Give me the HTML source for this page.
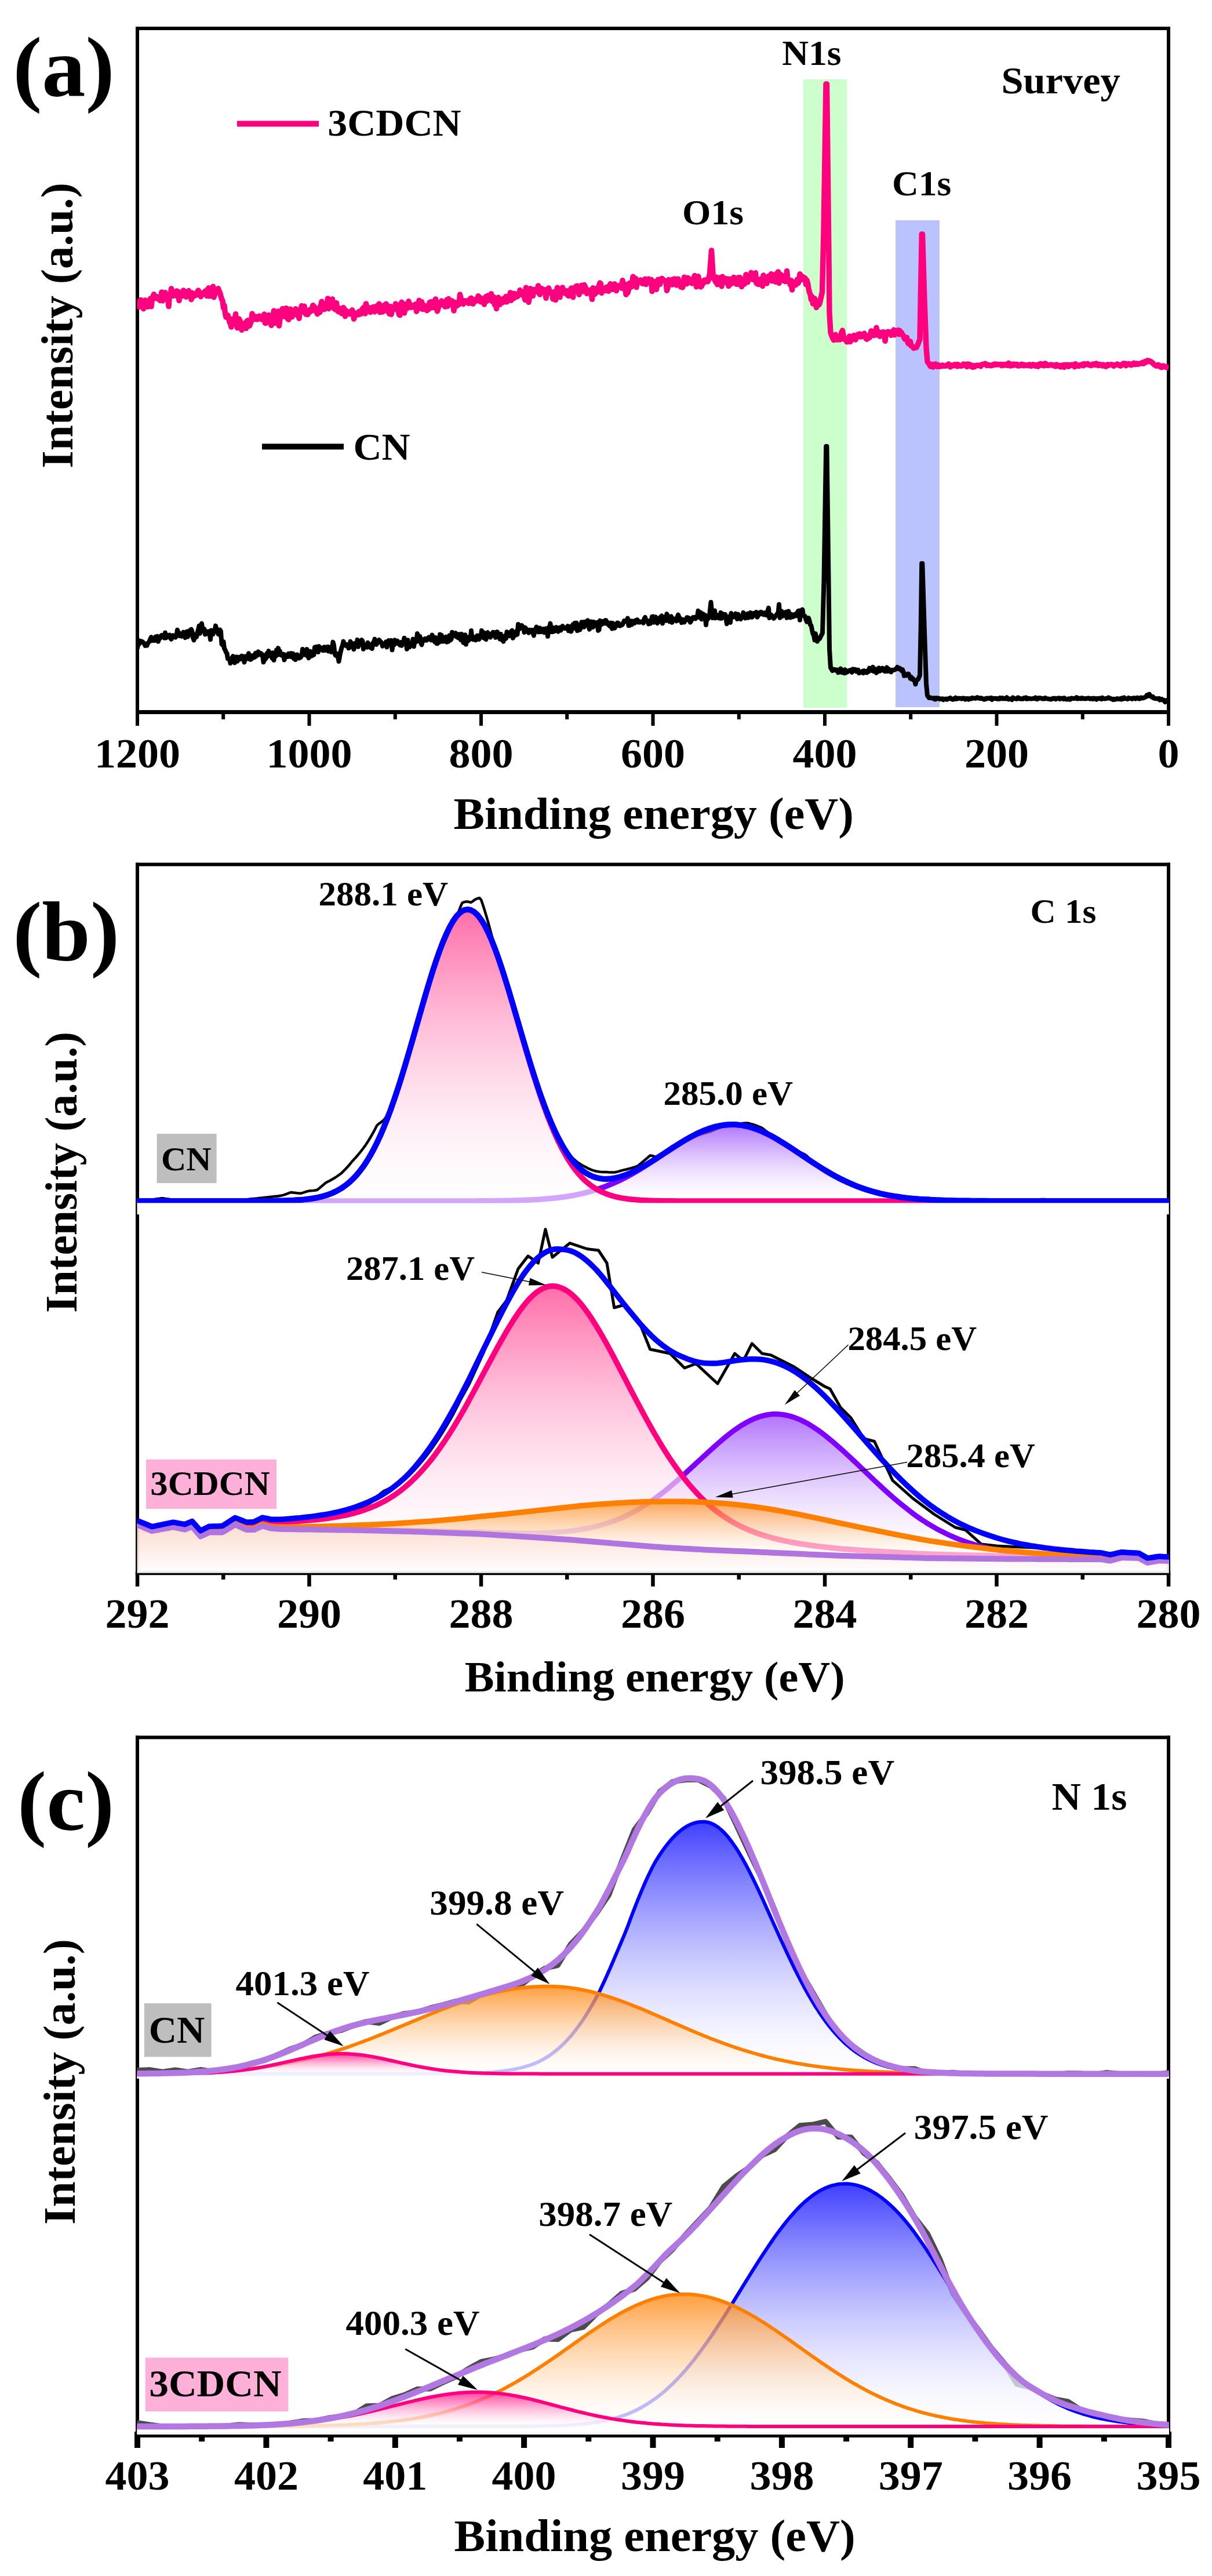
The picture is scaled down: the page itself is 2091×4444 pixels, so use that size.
<!DOCTYPE html>
<html><head><meta charset="utf-8"><title>XPS spectra</title>
<style>
html,body{margin:0;padding:0;background:#fff;}
svg{display:block;}
text{font-family:"Liberation Serif",serif;font-weight:bold;fill:#000;}
</style></head><body>
<svg width="2091" height="4444" viewBox="0 0 2091 4444">
<defs>
<clipPath id="ca"><rect x="236.3" y="49.0" width="1780.5" height="1179.5"/></clipPath>
<clipPath id="cb"><rect x="236.3" y="1491.3" width="1780.5" height="1222.4"/></clipPath>
<linearGradient id="gb1" gradientUnits="userSpaceOnUse" x1="0" y1="1940.0" x2="0" y2="2072.0"><stop offset="0.00" stop-color="#8528fa" stop-opacity="0.65"/><stop offset="0.12" stop-color="#9c50fb" stop-opacity="0.65"/><stop offset="0.25" stop-color="#b277fc" stop-opacity="0.65"/><stop offset="0.40" stop-color="#c9a0fd" stop-opacity="0.65"/><stop offset="0.55" stop-color="#ddc3fe" stop-opacity="0.65"/><stop offset="0.70" stop-color="#ede0fe" stop-opacity="0.65"/><stop offset="0.85" stop-color="#f9f5ff" stop-opacity="0.65"/><stop offset="1.00" stop-color="#ffffff" stop-opacity="0.65"/></linearGradient>
<linearGradient id="gb2" gradientUnits="userSpaceOnUse" x1="0" y1="1569.0" x2="0" y2="2072.0"><stop offset="0.00" stop-color="#ff207c" stop-opacity="0.65"/><stop offset="0.12" stop-color="#ff4994" stop-opacity="0.65"/><stop offset="0.25" stop-color="#ff72ac" stop-opacity="0.65"/><stop offset="0.40" stop-color="#ff9dc5" stop-opacity="0.65"/><stop offset="0.55" stop-color="#ffc1da" stop-opacity="0.65"/><stop offset="0.70" stop-color="#ffdfec" stop-opacity="0.65"/><stop offset="0.85" stop-color="#fff4f9" stop-opacity="0.65"/><stop offset="1.00" stop-color="#ffffff" stop-opacity="0.65"/></linearGradient>
<linearGradient id="gb3" gradientUnits="userSpaceOnUse" x1="0" y1="2439.6" x2="0" y2="2685.0"><stop offset="0.00" stop-color="#8528fa" stop-opacity="0.65"/><stop offset="0.12" stop-color="#9c50fb" stop-opacity="0.65"/><stop offset="0.25" stop-color="#b277fc" stop-opacity="0.65"/><stop offset="0.40" stop-color="#c9a0fd" stop-opacity="0.65"/><stop offset="0.55" stop-color="#ddc3fe" stop-opacity="0.65"/><stop offset="0.70" stop-color="#ede0fe" stop-opacity="0.65"/><stop offset="0.85" stop-color="#f9f5ff" stop-opacity="0.65"/><stop offset="1.00" stop-color="#ffffff" stop-opacity="0.65"/></linearGradient>
<linearGradient id="gb4" gradientUnits="userSpaceOnUse" x1="0" y1="2218.8" x2="0" y2="2685.0"><stop offset="0.00" stop-color="#ff207c" stop-opacity="0.65"/><stop offset="0.12" stop-color="#ff4994" stop-opacity="0.65"/><stop offset="0.25" stop-color="#ff72ac" stop-opacity="0.65"/><stop offset="0.40" stop-color="#ff9dc5" stop-opacity="0.65"/><stop offset="0.55" stop-color="#ffc1da" stop-opacity="0.65"/><stop offset="0.70" stop-color="#ffdfec" stop-opacity="0.65"/><stop offset="0.85" stop-color="#fff4f9" stop-opacity="0.65"/><stop offset="1.00" stop-color="#ffffff" stop-opacity="0.65"/></linearGradient>
<linearGradient id="gb5" gradientUnits="userSpaceOnUse" x1="0" y1="2590.2" x2="0" y2="2690.0"><stop offset="0.00" stop-color="#ff7f00" stop-opacity="0.65"/><stop offset="0.12" stop-color="#ff972f" stop-opacity="0.65"/><stop offset="0.25" stop-color="#ffae5e" stop-opacity="0.65"/><stop offset="0.40" stop-color="#ffc68e" stop-opacity="0.65"/><stop offset="0.55" stop-color="#ffdbb8" stop-opacity="0.65"/><stop offset="0.70" stop-color="#ffecda" stop-opacity="0.65"/><stop offset="0.85" stop-color="#fff9f3" stop-opacity="0.65"/><stop offset="1.00" stop-color="#ffffff" stop-opacity="0.65"/></linearGradient>
<linearGradient id="gb6" gradientUnits="userSpaceOnUse" x1="0" y1="2632.0" x2="0" y2="2713.7"><stop offset="0.00" stop-color="#fcd9cc" stop-opacity="0.93"/><stop offset="0.12" stop-color="#fcded2" stop-opacity="0.93"/><stop offset="0.25" stop-color="#fde3d9" stop-opacity="0.93"/><stop offset="0.40" stop-color="#fde8e0" stop-opacity="0.93"/><stop offset="0.55" stop-color="#feeee8" stop-opacity="0.93"/><stop offset="0.70" stop-color="#fef4f0" stop-opacity="0.93"/><stop offset="0.85" stop-color="#fff9f7" stop-opacity="0.93"/><stop offset="1.00" stop-color="#ffffff" stop-opacity="0.93"/></linearGradient>
<clipPath id="cc"><rect x="236.3" y="2997.3" width="1780.5" height="1202.7"/></clipPath>
<linearGradient id="gc1" gradientUnits="userSpaceOnUse" x1="0" y1="3142.7" x2="0" y2="3577.7"><stop offset="0.00" stop-color="#0000ff" stop-opacity="0.75"/><stop offset="0.12" stop-color="#2f2fff" stop-opacity="0.75"/><stop offset="0.25" stop-color="#5e5eff" stop-opacity="0.75"/><stop offset="0.40" stop-color="#8e8eff" stop-opacity="0.75"/><stop offset="0.55" stop-color="#b8b8ff" stop-opacity="0.75"/><stop offset="0.70" stop-color="#dadaff" stop-opacity="0.75"/><stop offset="0.85" stop-color="#f3f3ff" stop-opacity="0.75"/><stop offset="1.00" stop-color="#ffffff" stop-opacity="0.75"/></linearGradient>
<linearGradient id="gc2" gradientUnits="userSpaceOnUse" x1="0" y1="3426.7" x2="0" y2="3577.7"><stop offset="0.00" stop-color="#ff7f00" stop-opacity="0.75"/><stop offset="0.12" stop-color="#ff972f" stop-opacity="0.75"/><stop offset="0.25" stop-color="#ffae5e" stop-opacity="0.75"/><stop offset="0.40" stop-color="#ffc68e" stop-opacity="0.75"/><stop offset="0.55" stop-color="#ffdbb8" stop-opacity="0.75"/><stop offset="0.70" stop-color="#ffecda" stop-opacity="0.75"/><stop offset="0.85" stop-color="#fff9f3" stop-opacity="0.75"/><stop offset="1.00" stop-color="#ffffff" stop-opacity="0.75"/></linearGradient>
<linearGradient id="gc3" gradientUnits="userSpaceOnUse" x1="0" y1="3543.0" x2="0" y2="3577.7"><stop offset="0.00" stop-color="#ff007f" stop-opacity="0.75"/><stop offset="0.12" stop-color="#ff2f97" stop-opacity="0.75"/><stop offset="0.25" stop-color="#ff5eae" stop-opacity="0.75"/><stop offset="0.40" stop-color="#ff8ec6" stop-opacity="0.75"/><stop offset="0.55" stop-color="#ffb8db" stop-opacity="0.75"/><stop offset="0.70" stop-color="#ffdaec" stop-opacity="0.75"/><stop offset="0.85" stop-color="#fff3f9" stop-opacity="0.75"/><stop offset="1.00" stop-color="#ffffff" stop-opacity="0.75"/></linearGradient>
<linearGradient id="gc4" gradientUnits="userSpaceOnUse" x1="0" y1="3767.3" x2="0" y2="4186.0"><stop offset="0.00" stop-color="#0000ff" stop-opacity="0.75"/><stop offset="0.12" stop-color="#2f2fff" stop-opacity="0.75"/><stop offset="0.25" stop-color="#5e5eff" stop-opacity="0.75"/><stop offset="0.40" stop-color="#8e8eff" stop-opacity="0.75"/><stop offset="0.55" stop-color="#b8b8ff" stop-opacity="0.75"/><stop offset="0.70" stop-color="#dadaff" stop-opacity="0.75"/><stop offset="0.85" stop-color="#f3f3ff" stop-opacity="0.75"/><stop offset="1.00" stop-color="#ffffff" stop-opacity="0.75"/></linearGradient>
<linearGradient id="gc5" gradientUnits="userSpaceOnUse" x1="0" y1="3957.8" x2="0" y2="4186.0"><stop offset="0.00" stop-color="#ff7f00" stop-opacity="0.75"/><stop offset="0.12" stop-color="#ff972f" stop-opacity="0.75"/><stop offset="0.25" stop-color="#ffae5e" stop-opacity="0.75"/><stop offset="0.40" stop-color="#ffc68e" stop-opacity="0.75"/><stop offset="0.55" stop-color="#ffdbb8" stop-opacity="0.75"/><stop offset="0.70" stop-color="#ffecda" stop-opacity="0.75"/><stop offset="0.85" stop-color="#fff9f3" stop-opacity="0.75"/><stop offset="1.00" stop-color="#ffffff" stop-opacity="0.75"/></linearGradient>
<linearGradient id="gc6" gradientUnits="userSpaceOnUse" x1="0" y1="4126.7" x2="0" y2="4186.0"><stop offset="0.00" stop-color="#ff007f" stop-opacity="0.75"/><stop offset="0.12" stop-color="#ff2f97" stop-opacity="0.75"/><stop offset="0.25" stop-color="#ff5eae" stop-opacity="0.75"/><stop offset="0.40" stop-color="#ff8ec6" stop-opacity="0.75"/><stop offset="0.55" stop-color="#ffb8db" stop-opacity="0.75"/><stop offset="0.70" stop-color="#ffdaec" stop-opacity="0.75"/><stop offset="0.85" stop-color="#fff3f9" stop-opacity="0.75"/><stop offset="1.00" stop-color="#ffffff" stop-opacity="0.75"/></linearGradient>
</defs>
<rect width="2091" height="4444" fill="#fff"/>
<rect x="1386.0" y="137.0" width="75.0" height="1084.0" fill="#ccffcc"/>
<rect x="1545.0" y="380.0" width="76.0" height="840.0" fill="#bbc3ff"/>
<rect x="234.0" y="46.0" width="6.0" height="1186.0" fill="#000"/>
<rect x="2013.0" y="46.0" width="6.0" height="1186.0" fill="#000"/>
<rect x="234.0" y="46.0" width="1785.0" height="6.0" fill="#000"/>
<rect x="234.0" y="1225.0" width="1785.0" height="7.0" fill="#000"/>
<rect x="234.0" y="1228.5" width="6.0" height="23.6" fill="#000"/>
<rect x="530.5" y="1228.5" width="6.0" height="23.6" fill="#000"/>
<rect x="827.0" y="1228.5" width="6.0" height="23.6" fill="#000"/>
<rect x="1123.5" y="1228.5" width="6.0" height="23.6" fill="#000"/>
<rect x="1420.0" y="1228.5" width="6.0" height="23.6" fill="#000"/>
<rect x="1716.5" y="1228.5" width="6.0" height="23.6" fill="#000"/>
<rect x="2013.0" y="1228.5" width="6.0" height="23.6" fill="#000"/>
<rect x="382.2" y="1228.5" width="6.0" height="12.5" fill="#000"/>
<rect x="678.8" y="1228.5" width="6.0" height="12.5" fill="#000"/>
<rect x="975.2" y="1228.5" width="6.0" height="12.5" fill="#000"/>
<rect x="1271.8" y="1228.5" width="6.0" height="12.5" fill="#000"/>
<rect x="1568.2" y="1228.5" width="6.0" height="12.5" fill="#000"/>
<rect x="1864.8" y="1228.5" width="6.0" height="12.5" fill="#000"/>
<text transform="translate(237.0 1323.5) scale(1 0.985)" font-size="74.0" text-anchor="middle">1200</text>
<text transform="translate(533.5 1323.5) scale(1 0.985)" font-size="74.0" text-anchor="middle">1000</text>
<text transform="translate(830.0 1323.5) scale(1 0.985)" font-size="74.0" text-anchor="middle">800</text>
<text transform="translate(1126.5 1323.5) scale(1 0.985)" font-size="74.0" text-anchor="middle">600</text>
<text transform="translate(1423.0 1323.5) scale(1 0.985)" font-size="74.0" text-anchor="middle">400</text>
<text transform="translate(1719.5 1323.5) scale(1 0.985)" font-size="74.0" text-anchor="middle">200</text>
<text transform="translate(2016.0 1323.5) scale(1 0.985)" font-size="74.0" text-anchor="middle">0</text>
<text transform="translate(782.4 1430.0) scale(1 0.965)" font-size="80.2" text-anchor="start">Binding energy (eV)</text>
<text transform="translate(125.0 561.5) rotate(-90)" font-size="78.9" text-anchor="middle">Intensity (a.u.)</text>
<text transform="translate(22.2 164.5) scale(1 0.965)" font-size="150.5" text-anchor="start">(a)</text>
<g clip-path="url(#ca)">
<path d="M237 516.4L238.5 525.7L240 529.3L241.5 521.4L243 517.4L244.5 524.1L246 528.4L247.5 532.7L249 519.1L250.5 517.9L252 526.9L253.5 524.1L255 529.3L256.5 525.7L258 518.9L259.5 515.1L261 528.8L262.5 515.4L264 511.6L265.5 507.7L267 514.5L268.5 514.6L270 511.5L271.5 513L273 515.6L274.5 516.7L276 518.4L277.5 513.2L279 503.9L280.5 518.9L282 507.5L283.5 513.6L285 504.7L286.5 512.4L288 509.1L289.5 512.9L291 528.6L292.5 508.7L294 510.7L295.5 497.9L297 503.4L298.5 510.5L300 506L301.5 508.5L303 507.7L304.5 501.9L306 511.6L307.5 503.1L309 518.5L310.5 506.2L312 510.1L313.5 507.3L315 510.6L316.5 500.9L318 510.2L319.5 503.4L321 512.2L322.5 507.8L324 505.2L325.5 501.5L327 509.7L328.5 508.9L330 516.7L331.5 505.2L333 512L334.5 510.2L336 509.6L337.5 509.6L339 508.8L340.5 504L342 500.9L343.5 503.3L345 508.3L346.5 511.7L348 508.4L349.5 507.7L351 505L352.5 504.8L354 502.2L355.5 504.1L357 510.6L358.5 499.2L360 496.8L361.5 510.9L363 502.2L364.5 506.5L366 505.2L367.5 494.2L369 512.8L370.5 508.1L372 499.7L373.5 502.9L375 501.1L376.5 497.7L378 502.5L379.5 505.3L381 511L382.5 516.1L384 518.6L385.5 531.1L387 527L388.5 540.9L390 547.2L391.5 545L393 543.9L394.5 547.7L396 555.6L397.5 557.6L399 564.1L400.5 550.8L402 554.9L403.5 558L405 552.7L406.5 541.7L408 559L409.5 565.7L411 560.7L412.5 550.1L414 553.4L415.5 557.8L417 569.3L418.5 560.6L420 558.4L421.5 565.2L423 556.9L424.5 566.6L426 553.9L427.5 552.8L429 557.7L430.5 562.2L432 558L433.5 554.2L435 541.1L436.5 546.6L438 546.9L439.5 545.7L441 550.8L442.5 546.8L444 551.1L445.5 547L447 545.2L448.5 548.2L450 549.6L451.5 551.1L453 545.2L454.5 547.6L456 542L457.5 557.5L459 557.2L460.5 547.9L462 547.4L463.5 543.5L465 550.8L466.5 550.5L468 561.3L469.5 549.6L471 544.9L472.5 536.1L474 557.6L475.5 550.1L477 538.8L478.5 546.6L480 536.9L481.5 562L483 550.5L484.5 547.4L486 543L487.5 532.5L489 543.4L490.5 535.9L492 546.4L493.5 531.7L495 539.1L496.5 550.2L498 551.4L499.5 537L501 533.2L502.5 545L504 546.8L505.5 537.8L507 540.2L508.5 537.8L510 532.7L511.5 534.2L513 544L514.5 542.9L516 549.3L517.5 535.7L519 534L520.5 527.6L522 533.9L523.5 528.6L525 528.3L526.5 540.6L528 542.2L529.5 539.5L531 542.5L532.5 538.2L534 534.4L535.5 537.6L537 535.9L538.5 530.7L540 526.7L541.5 528.3L543 536.1L544.5 536.5L546 531.7L547.5 541.7L549 535.2L550.5 535.7L552 538.7L553.5 526.6L555 520.2L556.5 532.3L558 524.5L559.5 533.7L561 527L562.5 531.5L564 530.9L565.5 515L567 532.6L568.5 525.1L571 528L573.5 516L576 532L579 534.1L580.5 522.6L582 535.3L583.5 537.5L585 531.7L586.5 538.4L588 536L589.5 540.8L591 531.6L592.5 530.6L594 532.8L595.5 545.7L597 543L598.5 536.7L600 539L601.5 540.6L603 541.8L604.5 539.7L606 539.9L607.5 534.8L609 537.4L610.5 550.3L612 545.7L613.5 543.3L615 540.6L616.5 541.2L618 543L619.5 537.4L621 540.8L622.5 541.7L624 534.9L625.5 532.9L627 530.7L628.5 529.7L630 541L631.5 523.9L633 533L634.5 531.1L636 530.7L637.5 534.6L639 538.8L640.5 534.7L642 532.9L643.5 529.6L645 531.7L646.5 538L648 531.4L649.5 527.8L651 527.5L652.5 527.6L654 524.1L655.5 538.8L657 534.1L658.5 529.9L660 538.1L661.5 526.9L663 533.4L664.5 535.8L666 524.2L667.5 526.3L669 529.4L670.5 539.1L672 541.5L673.5 528.8L675 542.4L676.5 536L678 533.4L679.5 533.4L681 533.3L682.5 524L684 527.7L685.5 525.7L687 535.3L688.5 542.7L690 543.9L691.5 527.6L693 521.2L694.5 526.7L696 523.7L697.5 539.9L699 532.9L700.5 525.1L702 532L703.5 531.5L705 519.8L706.5 524.7L708 527.6L709.5 530.3L711 529.7L712.5 526.7L714 529.7L715.5 526.5L717 524.7L718.5 537.2L720 530.6L721.5 530L723 518.2L724.5 525.9L726 532.3L727.5 520.7L729 533.5L730.5 525.8L732 530.3L733.5 528.1L735 529.8L736.5 535.8L738 527.4L739.5 533.5L741 522L742.5 521L744 530.8L745.5 520.4L747 523.4L748.5 530.6L750 530.8L751.5 515.9L753 530.9L754.5 537L756 531.7L757.5 522.1L759 523L760.5 526.1L762 519.1L763.5 522.9L765 522.7L766.5 522.3L768 529.2L769.5 523.2L771 517.1L772.5 528.2L774 515.4L775.5 519.7L777 523.9L778.5 521.7L780 519.1L781.5 524L783 536.1L784.5 521.4L786 523.4L787.5 528.1L789 526.6L790.5 525.8L792 525.2L793.5 508.1L795 514L796.5 519.6L798 520L799.5 524.4L801 521.5L802.5 518.8L804 519.4L805.5 519.2L807 522L808.5 523.3L810 517.1L811.5 515.2L813 514.2L814.5 523.6L816 524.1L817.5 521.8L819 519.9L820.5 519.4L822 515.7L823.5 518.7L825 510.7L826.5 515.9L828 513.2L829.5 520.7L831 515.1L832.5 518.7L834 521.4L835.5 525.2L837 513.3L838.5 511.6L840 519.4L841.5 510.1L843 517.7L844.5 511.2L846 514.3L847.5 506.8L849 520L850.5 514L852 512.4L853.5 526.1L855 518L856.5 532.6L858 518.6L859.5 513.1L861 515.7L862.5 525.2L864 518.8L865.5 518.7L867 521.9L868.5 515L870 520.7L871.5 515.4L873 511.4L874.5 520.8L876 518.9L877.5 514.8L879 511.3L880.5 504.8L882 518.2L883.5 514.6L885 506.3L886.5 514.6L888 506.4L889.5 512.4L891 511.9L892.5 511.7L894 509.3L895.5 509L897 500.5L898.5 503.2L900 503L901.5 506.1L903 510L904.5 511.8L906 517.4L907.5 496.2L909 509.9L910.5 507.1L912 521.4L913.5 513.4L915 497.8L916.5 507.1L918 502.4L919.5 510.4L921 499.4L922.5 504L924 503.5L925.5 503.6L927 501.6L928.5 492.9L930 505.4L931.5 508.1L933 502.3L934.5 497.6L936 502.2L937.5 503.1L939 499.7L940.5 502.4L942 514.2L943.5 499.8L945 502.6L946.5 496.9L948 502.1L949.5 505.9L951 505.4L952.5 505.9L954 515.9L955.5 503.8L957 504.7L958.5 517.5L960 503.9L961.5 496.1L963 507.1L964.5 499.6L966 512.8L967.5 499.1L969 501.6L970.5 495.9L972 504.9L973.5 500.9L975 506.2L976.5 503.1L978 501.8L979.5 509.5L981 510.5L982.5 507.1L984 501L985.5 497L987 502.2L988.5 512.7L990 497.1L991.5 495.9L993 496.4L994.5 493.4L996 493.2L997.5 499.3L999 508.2L1000.5 501.6L1002 499L1003.5 492.3L1005 503L1006.5 499.9L1008 491.5L1009.5 494.2L1011 499.5L1012.5 506.4L1014 505L1015.5 503.3L1017 500.7L1018.5 503.2L1020 504L1021.5 516.3L1023 496.7L1024.5 499L1026 507.6L1027.5 497.9L1029 505L1030.5 497.1L1032 496.7L1033.5 492.8L1035 488L1036.5 489.6L1038 505.5L1039.5 496.8L1041 497.2L1042.5 500.5L1044 499L1045.5 501.6L1047 495L1048.5 496L1050 502.3L1051.5 496L1053 489.7L1054.5 494.6L1056 492.4L1057.5 499.4L1059 493.6L1060.5 489.8L1062 492.8L1063.5 501.6L1065 493.7L1066.5 493.3L1068 492.6L1069.5 492.3L1071 495.8L1072.5 497.1L1074 483.7L1075.5 498L1077 493.3L1078.5 490.5L1080 508.2L1081.5 494.3L1083 505L1084.5 499.4L1086 488.4L1087.5 494.9L1089 495.2L1090.5 488.5L1092 477.3L1093.5 485.2L1095 486.5L1096.5 480.4L1098 495.5L1099.5 484.5L1101 485L1102.5 486.3L1104 483.4L1105.5 482.9L1107 488.2L1108.5 489.5L1110 486.7L1111.5 487.4L1113 481.3L1114.5 490.6L1116 482.7L1117.5 487.3L1119 481.2L1120.5 484.4L1122 488.7L1123.5 482.4L1125 502.6L1126.5 488.1L1128 488.1L1129.5 485.8L1131 498L1132.5 499.2L1134 490.7L1135.5 482.1L1137 486L1138.5 490.5L1140 485.7L1141.5 480.4L1143 480.9L1144.5 483.1L1146 484.4L1147.5 484.5L1149 486.3L1150.5 501.3L1152 496.7L1153.5 482.5L1155 489.2L1156.5 486.8L1158 483.2L1159.5 491.2L1161 482.1L1162.5 481.4L1164 481L1165.5 482.9L1167 492L1168.5 490.6L1170 481.3L1171.5 489.3L1173 487.2L1174.5 495.1L1176 492.6L1177.5 495.9L1179 491.5L1180.5 478.2L1182 489.2L1183.5 487.1L1185 489.6L1186.5 479.2L1188 484.9L1189.5 481.9L1191 481.9L1192.5 487.9L1194 489L1195.5 485.2L1197 480.3L1198.5 475.4L1200 485.6L1201.5 494.8L1203 487.6L1204.5 476.7L1206 483.1L1207.5 489.2L1209 494.9L1210.5 493.6L1212 489.4L1213.5 488.6L1215 483.3L1216.5 485.9L1218 485.2L1219.5 482L1221 486L1222.5 482.4L1224.5 472L1227.5 432L1230.5 480L1233 482.1L1234.5 486.4L1236 478.1L1237.5 490.8L1239 482.1L1240.5 483.8L1242 481.7L1243.5 478.6L1245 493.9L1246.5 477.3L1248 487.9L1249.5 481.5L1251 486.1L1252.5 480.5L1254 482.1L1255.5 488.9L1257 493.6L1258.5 481.2L1260 485.8L1261.5 489.9L1263 482.8L1264.5 487.4L1266 478.4L1267.5 487.8L1269 486.6L1270.5 490.3L1272 485.8L1273.5 479L1275 490.6L1276.5 478.8L1278 490.3L1279.5 494.5L1281 487.4L1282.5 482.2L1284 490.2L1285.5 482.7L1287 473.8L1288.5 476.6L1290 486.7L1291.5 476.7L1293 479.3L1294.5 477.7L1296 470.3L1297.5 475.9L1299 482.4L1300.5 480.8L1302 479.8L1303.5 470.8L1305 488.8L1306.5 487.9L1308 490.6L1309.5 490.6L1311 482.1L1312.5 481.2L1314 487.3L1315.5 493.5L1317 475.1L1318.5 481.6L1320 478.2L1321.5 484.4L1323 489L1324.5 481.1L1326 476.2L1327.5 482.7L1329 481.5L1330.5 472.6L1332 484.7L1333.5 476.6L1335 483.8L1336.5 473.9L1338 486.2L1339.5 472.1L1341 484.3L1342.5 469L1344 488.5L1345.5 479.2L1347 473.7L1348.5 480.1L1350 483.8L1351.5 476.4L1353 480.6L1354.5 485.6L1356 482.9L1357.5 467.5L1359 482L1360.5 486.3L1362 486.2L1363.5 491.6L1365 483.8L1366.5 500L1368 489.7L1369.5 487.1L1371 491.7L1372.5 491.7L1374 486L1375.5 482.1L1377 488.7L1378.5 485.1L1380 472.8L1381.5 475L1383 482.3L1384.5 478.2L1386 477.9L1387.5 481.4L1389 479.7L1390.5 490.8L1392 483.4L1393.5 488.5L1395 497.4L1396.5 504.4L1398 508L1399.5 517.1L1401 511.8L1402.5 524.1L1404 521L1405.5 515.1L1407 519.5L1408.5 530.6L1410 526.8L1411.5 526.8L1414 524L1418.5 504L1421 400L1425 145L1426.5 145L1429.5 400L1431 540L1433 574L1436 582L1438.5 586.8L1440 582.5L1441.5 577.3L1443 585.3L1444.5 586.2L1446 583.2L1447.5 585.7L1449 585.9L1450.5 578.7L1452 573.2L1453.5 570.1L1455 579.4L1456.5 585.2L1458 585.4L1459.5 586.9L1461 589.8L1462.5 584.3L1464 589.5L1465.5 580L1467 589.5L1468.5 586.9L1470 583.7L1471.5 581.1L1473 578.5L1474.5 582.7L1476 586.1L1477.5 578.7L1479 581.3L1480.5 576.8L1482 580.5L1483.5 575.9L1485 581L1486.5 578.1L1488 580.5L1489.5 577L1491 575.1L1492.5 579.4L1494 584.1L1495.5 585.3L1497 578.9L1498.5 582.5L1500 582.5L1501.5 578.5L1503 571L1504.5 578.4L1506 572.1L1507.5 578.8L1509 578L1510.5 576.5L1512 565.3L1513.5 575.8L1515 578.5L1516.5 572.7L1518 580.3L1519.5 576.6L1521 575.6L1522.5 573.4L1524 572.5L1525.5 575.7L1527 588.3L1528.5 576.8L1530 575.5L1531.5 572.2L1533 572.5L1534.5 573.2L1536 572.7L1537.5 578.3L1539 573L1540.5 577.2L1542 569.1L1543.5 577.7L1545 573.3L1546.5 575.8L1548 572.2L1549.5 569.5L1551 576.7L1552.5 570.7L1554 574L1555.5 573.9L1557 578.1L1558.5 578.7L1560 583.2L1561.5 585.4L1563 582.7L1564.5 582.2L1566 590.8L1567.5 592.9L1569 593.9L1570.5 589L1572 596.7L1573.5 596.9L1575 598.8L1576.5 600.8L1578 599.2L1579.5 599.8L1581 599.5L1584 593L1587 585L1588.5 500L1590.3 404L1591.5 404L1595 520L1598 600L1600 624L1603 628L1605 632L1606.5 631.2L1608 628.4L1609.5 633.1L1611 632.4L1612.5 631.5L1614 627.8L1615.5 630.9L1617 632.5L1618.5 629.6L1620 631.7L1621.5 632.4L1623 632.1L1624.5 630.2L1626 630.1L1627.5 631.6L1629 631.3L1630.5 631.3L1632 631.3L1633.5 629.9L1635 629.4L1636.5 628.1L1638 631.2L1639.5 633.1L1641 629.9L1642.5 630.1L1644 631L1645.5 630.7L1647 628.8L1648.5 629.5L1650 628.8L1651.5 632L1653 628.7L1654.5 630.3L1656 631.3L1657.5 631.5L1659 630.9L1660.5 631L1662 628L1663.5 628.8L1665 628.5L1666.5 629.3L1668 632.6L1669.5 627.9L1671 630.6L1672.5 628.6L1674 631.8L1675.5 632.2L1677 630.2L1678.5 633.5L1680 630.9L1681.5 632.6L1683 631L1684.5 630.2L1686 630.5L1687.5 630.4L1689 630.5L1690.5 630L1692 631.9L1693.5 629.3L1695 628.7L1696.5 628.3L1698 628L1699.5 627.3L1701 628L1702.5 630.6L1704 629.5L1705.5 629.4L1707 629.9L1708.5 630.9L1710 630.6L1711.5 630.6L1713 629L1714.5 629.3L1716 628.1L1717.5 629.3L1719 628.4L1720.5 629L1722 628.6L1723.5 628.9L1725 628.9L1726.5 628.6L1728 630.7L1729.5 629.5L1731 628.8L1732.5 630.1L1734 628.7L1735.5 629.1L1737 630.2L1738.5 628.4L1740 626.6L1741.5 630.3L1743 631.2L1744.5 628.2L1746 629.2L1747.5 630.5L1749 628.1L1750.5 629.4L1752 628.9L1753.5 630.2L1755 628.5L1756.5 631.3L1758 630.3L1759.5 630.7L1761 630.3L1762.5 628.2L1764 630.5L1765.5 629.3L1767 630.9L1768.5 629.6L1770 629.9L1771.5 629.9L1773 630.7L1774.5 630.6L1776 628.8L1777.5 629.7L1779 631.5L1780.5 629.8L1782 628.8L1783.5 629.6L1785 629.4L1786.5 631.5L1788 630L1789.5 630.1L1791 632.2L1792.5 628.2L1794 628.7L1795.5 627.5L1797 628L1798.5 630.5L1800 629.5L1801.5 631L1803 626.9L1804.5 627.7L1806 630.3L1807.5 630.3L1809 630.4L1810.5 630L1812 629.2L1813.5 629.2L1815 629.4L1816.5 630.6L1818 630.1L1819.5 631L1821 632L1822.5 628.9L1824 629.7L1825.5 631.3L1827 630.5L1828.5 630.8L1830 633.1L1831.5 631L1833 629.9L1834.5 631.9L1836 633.5L1837.5 629.3L1839 629.6L1840.5 630.1L1842 629.3L1843.5 632.3L1845 630.7L1846.5 629.6L1848 630.4L1849.5 629.2L1851 629.2L1852.5 630L1854 632.7L1855.5 627.7L1857 630.8L1858.5 631.2L1860 630.4L1861.5 631.6L1863 629.8L1864.5 629.5L1866 629.2L1867.5 628.3L1869 630.9L1870.5 627.6L1872 629.2L1873.5 629L1875 628.6L1876.5 627.4L1878 629.5L1879.5 629.9L1881 629.8L1882.5 630.7L1884 629.2L1885.5 628.1L1887 629L1888.5 629.6L1890 627.6L1891.5 627L1893 628.1L1894.5 630.5L1896 630.2L1897.5 628.7L1899 629.8L1900.5 630.6L1902 631.1L1903.5 629.2L1905 629.8L1906.5 631.2L1908 632.3L1909.5 631.4L1911 628.7L1912.5 630.4L1914 629.5L1915.5 629.6L1917 628.8L1918.5 628.9L1920 629.4L1921.5 631.5L1923 630.2L1924.5 629.5L1926 629.2L1927.5 628.1L1929 628.8L1930.5 630.3L1932 629.8L1933.5 631.2L1935 629.1L1936.5 628.5L1938 627L1939.5 629.2L1941 627.1L1942.5 630.8L1944 628.4L1945.5 629.2L1947 627.4L1948.5 628.6L1950 628.3L1951.5 629.9L1953 629L1954.5 627.4L1956 626.5L1957.5 628.6L1959 627.7L1960.5 627L1962 628.4L1963.5 627.5L1965 628L1966.5 627.2L1968 627.1L1969.5 626.6L1971 625.3L1972.5 627.2L1974 626.7L1975.5 623.6L1977 624.2L1978.5 624.4L1980 621.9L1981.5 622.5L1983 622.5L1984.5 623.8L1986 624L1987.5 625.9L1989 626.5L1990.5 628.3L1992 629.6L1993.5 630.4L1995 631.4L1996.5 630.2L1998 629.4L1999.5 631.5L2001 630.8L2002.5 633.3L2004 633.7L2005.5 632.9L2007 631.1L2008.5 631.9L2010 633.1L2011.5 632.3L2013 633.9L2014.5 634.5L2016 634.8" fill="none" stroke="#ff007f" stroke-width="9.5" stroke-linejoin="round" />
<path d="M237 1119.3L238.5 1104.4L240 1111.2L241.5 1109.2L243 1106L244.5 1106.8L246 1107.2L247.5 1108.9L249 1110.3L250.5 1113.9L252 1110.6L253.5 1113.7L255 1109.8L256.5 1108.1L258 1105.9L259.5 1101.9L261 1099.2L262.5 1105.2L264 1103.3L265.5 1104.6L267 1105.1L268.5 1098.5L270 1100L271.5 1097.8L273 1106.6L274.5 1099.8L276 1101.4L277.5 1097L279 1095.8L280.5 1096.4L282 1097.5L283.5 1100.5L285 1091.5L286.5 1100.5L288 1096.1L289.5 1096.2L291 1096.7L292.5 1095.6L294 1101L295.5 1102.8L297 1100.3L298.5 1096.2L300 1098.7L301.5 1097.5L303 1099.4L304.5 1096.4L306 1086.7L307.5 1090.9L309 1091.9L310.5 1097L312 1093.4L313.5 1097.8L315 1096.3L316.5 1090.7L318 1096.2L319.5 1100L321 1098.6L322.5 1089.6L324 1098.5L325.5 1094.7L327 1088L328.5 1093.9L330 1085.8L331.5 1089.7L333 1100.4L334.5 1104.4L336 1098.1L337.5 1094.6L339 1099L340.5 1091.6L342 1086.5L343.5 1079.9L345 1092.9L346.5 1079L348 1075.7L349.5 1085.3L351 1088.6L352.5 1085.2L354 1094.4L355.5 1089.2L357 1091.3L358.5 1093.2L360 1089.4L361.5 1091.8L363 1103.2L364.5 1087.5L366 1093.6L367.5 1094L369 1087.4L370.5 1088.4L372 1079.6L373.5 1085.2L375 1088.5L376.5 1093.8L378 1094.6L379.5 1086.5L381 1089.4L382.5 1111.2L384 1113L385.5 1106.9L387 1119L388.5 1121.2L390 1125.4L391.5 1127L393 1136.3L394.5 1136.4L396 1136.4L397.5 1144.2L399 1140.1L400.5 1134.7L402 1132.1L403.5 1137.1L405 1143.4L406.5 1140.7L408 1133.2L409.5 1140.8L411 1137.3L412.5 1133.7L414 1137.2L415.5 1135.6L417 1131.5L418.5 1133.9L420 1137.1L421.5 1142.3L423 1132.3L424.5 1137.2L426 1134L427.5 1133.7L429 1127.2L430.5 1137.3L432 1137.9L433.5 1137.3L435 1131.3L436.5 1134.9L438 1130.3L439.5 1133.9L441 1126.7L442.5 1131.6L444 1128.8L445.5 1124.4L447 1129.3L448.5 1126.7L450 1127L451.5 1130.9L453 1129.4L454.5 1142.4L456 1139L457.5 1136.9L459 1135.9L460.5 1127.3L462 1132.1L463.5 1123.1L465 1127.8L466.5 1130.9L468 1130.9L469.5 1135.6L471 1126.1L472.5 1138.9L474 1127.3L475.5 1132.2L477 1121.6L478.5 1130L480 1118.1L481.5 1123.8L483 1123.6L484.5 1130.2L486 1130.6L487.5 1130.2L489 1128.8L490.5 1138.5L492 1129.6L493.5 1131.5L495 1130.6L496.5 1132.8L498 1127.6L499.5 1129.8L501 1132.5L502.5 1127L504 1133.3L505.5 1127.5L507 1136.1L508.5 1129.6L510 1138L511.5 1131.9L513 1129.5L514.5 1133.7L516 1135.4L517.5 1134.6L519 1133.7L520.5 1131.2L522 1120L523.5 1129.4L525 1124.4L526.5 1125.4L528 1130.2L529.5 1120.1L531 1131L532.5 1135.2L534 1127.4L535.5 1123.6L537 1132L538.5 1125.9L540 1130.4L541.5 1129.8L543 1116.7L544.5 1122.9L546 1115.9L547.5 1118.6L549 1124.9L550.5 1115.1L552 1118.2L553.5 1117.7L555 1120.6L556.5 1121.8L558 1122.2L559.5 1116.2L561 1116.9L562.5 1121.8L564 1116.4L565.5 1115.9L567 1123.4L568.5 1117.4L570 1116.4L571.5 1124.7L573 1119.6L574.5 1107.6L576 1113.3L577.5 1127.6L579 1130.7L582 1128L584.5 1141L587 1127L589.5 1117L591 1113.7L592.5 1106.6L594 1112.1L595.5 1113.2L597 1112L598.5 1114.7L600 1112.3L601.5 1118.2L603 1117.2L604.5 1106.7L606 1110.1L607.5 1114.8L609 1110.8L610.5 1120.1L612 1110.1L613.5 1112.1L615 1113.9L616.5 1103.9L618 1115.7L619.5 1109.4L621 1107.9L622.5 1108.9L624 1104L625.5 1106.1L627 1119.8L628.5 1112.1L630 1113.7L631.5 1115.5L633 1116.6L634.5 1108.8L636 1110.8L637.5 1113.1L639 1117.1L640.5 1112.8L642 1118.9L643.5 1108.8L645 1107.8L646.5 1102.6L648 1109L649.5 1111.8L651 1107.8L652.5 1108L654 1104L655.5 1106L657 1107.2L658.5 1109L660 1114.7L661.5 1111.7L663 1113.2L664.5 1113.4L666 1107.4L667.5 1116.4L669 1111L670.5 1105.1L672 1108.1L673.5 1110.6L675 1104.8L676.5 1121.2L678 1110.1L679.5 1112.9L681 1104.3L682.5 1110L684 1109.8L685.5 1105.6L687 1110.5L688.5 1110.1L690 1112.7L691.5 1108L693 1113.7L694.5 1109.9L696 1107.4L697.5 1100.7L699 1108.9L700.5 1107.7L702 1119.7L703.5 1104.2L705 1116.1L706.5 1116.3L708 1111.8L709.5 1110.8L711 1112.1L712.5 1102.5L714 1115.3L715.5 1106.5L717 1103.9L718.5 1107L720 1093L721.5 1098.9L723 1099.6L724.5 1098.1L726 1109.3L727.5 1112.3L729 1105.2L730.5 1103.2L732 1104.7L733.5 1101.9L735 1104.7L736.5 1104.5L738 1101.1L739.5 1099.5L741 1102.4L742.5 1101.4L744 1104.4L745.5 1095.5L747 1098.6L748.5 1101.4L750 1107.2L751.5 1099.9L753 1109.9L754.5 1110.3L756 1101.8L757.5 1108L759 1094.6L760.5 1103.2L762 1096L763.5 1106.6L765 1106L766.5 1106.2L768 1100.7L769.5 1098.8L771 1107.6L772.5 1101.8L774 1106.7L775.5 1096.4L777 1104.3L778.5 1102.8L780 1090.7L781.5 1095.7L783 1097L784.5 1097L786 1092L787.5 1098.4L789 1094.5L790.5 1100.3L792 1094.2L793.5 1094.4L795 1104L796.5 1093.9L798 1102.1L799.5 1108.6L801 1106.2L802.5 1095.2L804 1111.6L805.5 1099.2L807 1105.8L808.5 1104.7L810 1098.7L811.5 1102.1L813 1088.1L814.5 1101.6L816 1103.1L817.5 1098.9L819 1100L820.5 1104.3L822 1103.1L823.5 1096.5L825 1102.1L826.5 1102.8L828 1097.8L829.5 1098.3L831 1087.9L832.5 1090.7L834 1100.2L835.5 1091.6L837 1101.6L838.5 1103.1L840 1093.5L841.5 1091.3L843 1095.9L844.5 1095.4L846 1099.5L847.5 1093.8L849 1094.6L850.5 1090.7L852 1096.3L853.5 1091L855 1099.7L856.5 1098.6L858 1090.1L859.5 1098.8L861 1093.4L862.5 1102.4L864 1094L865.5 1103.5L867 1103.1L868.5 1106.6L870 1099.4L871.5 1096.8L873 1101.5L874.5 1090.1L876 1097.1L877.5 1095.1L879 1097L880.5 1090.5L882 1089L883.5 1087.8L885 1100.7L886.5 1094.1L888 1096.8L889.5 1091.1L891 1089L892.5 1094.7L894 1076.9L895.5 1085.7L897 1084L898.5 1082.8L900 1078.9L901.5 1080.7L903 1082.4L904.5 1090.9L906 1082.7L907.5 1084.7L909 1086.2L910.5 1088.7L912 1091.6L913.5 1086.8L915 1086.9L916.5 1090L918 1087L919.5 1092L921 1096.5L922.5 1086.4L924 1085.7L925.5 1081.6L927 1089.1L928.5 1090.2L930 1083.5L931.5 1083.6L933 1090.2L934.5 1086.8L936 1089.2L937.5 1085L939 1091.1L940.5 1088.3L942 1084.3L943.5 1084.6L945 1097.8L946.5 1082.7L948 1082.7L949.5 1075.6L951 1090.1L952.5 1090.1L954 1089.8L955.5 1083.1L957 1088.9L958.5 1084.9L960 1082.2L961.5 1087.4L963 1089.5L964.5 1085.4L966 1082.7L967.5 1087.4L969 1084.3L970.5 1080.1L972 1083.8L973.5 1082.6L975 1084L976.5 1084.3L978 1084.6L979.5 1080L981 1088.2L982.5 1086.3L984 1081L985.5 1089.4L987 1082.8L988.5 1077.4L990 1081.1L991.5 1075L993 1084.1L994.5 1074.6L996 1088.1L997.5 1077.9L999 1080.1L1000.5 1086.5L1002 1082.3L1003.5 1073.2L1005 1080.4L1006.5 1073.2L1008 1081.7L1009.5 1072.9L1011 1076.7L1012.5 1075.7L1014 1070.4L1015.5 1080.3L1017 1085.6L1018.5 1072.5L1020 1072.6L1021.5 1078.3L1023 1082L1024.5 1072.9L1026 1078.7L1027.5 1078.6L1029 1080L1030.5 1073.9L1032 1087.8L1033.5 1086.5L1035 1070.8L1036.5 1072.6L1038 1077.3L1039.5 1072.2L1041 1073.5L1042.5 1075.2L1044 1070.2L1045.5 1070.2L1047 1075.9L1048.5 1073.6L1050 1078L1051.5 1079.8L1053 1080.6L1054.5 1074.7L1056 1084.5L1057.5 1075.1L1059 1081.1L1060.5 1083.5L1062 1077.3L1063.5 1079.8L1065 1074.5L1066.5 1074.7L1068 1079.4L1069.5 1079.7L1071 1077.4L1072.5 1078.4L1074 1077.4L1075.5 1074.1L1077 1070.8L1078.5 1072.5L1080 1071.8L1081.5 1072L1083 1066.7L1084.5 1079.2L1086 1079.2L1087.5 1074L1089 1071.5L1090.5 1077.3L1092 1071.7L1093.5 1072.5L1095 1074.8L1096.5 1070.3L1098 1071.4L1099.5 1069.1L1101 1073.4L1102.5 1072.1L1104 1073.6L1105.5 1073.2L1107 1072.4L1108.5 1072.2L1110 1074.7L1111.5 1067.4L1113 1065L1114.5 1071L1116 1072.1L1117.5 1071.5L1119 1076.5L1120.5 1071.3L1122 1075.7L1123.5 1070.1L1125 1063.9L1126.5 1063.5L1128 1073.7L1129.5 1068.2L1131 1064.3L1132.5 1073.4L1134 1075L1135.5 1068.4L1137 1072.4L1138.5 1065.2L1140 1064.4L1141.5 1062.4L1143 1075.5L1144.5 1064.3L1146 1068L1147.5 1069.9L1149 1070.8L1150.5 1059.1L1152 1066.5L1153.5 1063.3L1155 1072.2L1156.5 1065.2L1158 1063.6L1159.5 1073.8L1161 1067L1162.5 1069.9L1164 1068.7L1165.5 1067.5L1167 1071.4L1168.5 1064.4L1170 1060.6L1171.5 1064.7L1173 1070.4L1174.5 1067.3L1176 1074.2L1177.5 1071.9L1179 1069.3L1180.5 1073.5L1182 1070.6L1183.5 1069.6L1185 1065.2L1186.5 1065.5L1188 1066L1189.5 1070.8L1191 1073.5L1192.5 1070.9L1194 1066.6L1195.5 1065.2L1197 1066.7L1198.5 1065L1200 1067.3L1201.5 1065.4L1203 1064.6L1204.5 1053.8L1206 1062.4L1207.5 1065.5L1209 1056.8L1210.5 1068.3L1212 1060.8L1213.5 1059.5L1215 1067.9L1216.5 1061.2L1218 1078L1219.5 1063.4L1221 1068.4L1224 1062L1226.5 1039L1229 1066L1231.5 1065.8L1233 1053.4L1234.5 1066.4L1236 1060.4L1237.5 1062.6L1239 1065.8L1240.5 1063L1242 1066.7L1243.5 1056.9L1245 1066.8L1246.5 1058.9L1248 1062.4L1249.5 1064.6L1251 1059.8L1252.5 1067.6L1254 1076.2L1255.5 1064.9L1257 1063.9L1258.5 1073L1260 1073.8L1261.5 1058L1263 1063L1264.5 1061.8L1266 1064.4L1267.5 1061.6L1269 1058.8L1270.5 1060.5L1272 1067.9L1273.5 1059.6L1275 1064.9L1276.5 1065.6L1278 1068.1L1279.5 1063.5L1281 1063.7L1282.5 1056.9L1284 1063.3L1285.5 1066.3L1287 1063.6L1288.5 1065.6L1290 1058.7L1291.5 1065.6L1293 1060.7L1294.5 1057L1296 1057.7L1297.5 1064.8L1299 1062.9L1300.5 1058.4L1302 1057.5L1303.5 1061.8L1305 1056.2L1306.5 1064.6L1308 1061.7L1309.5 1057.7L1311 1059.4L1312.5 1055.8L1314 1056.1L1315.5 1059L1317 1060.3L1318.5 1060.4L1320 1057L1321.5 1056.8L1323 1061.5L1324.5 1053.9L1326 1048.8L1327.5 1066.1L1329 1060.4L1330.5 1060.6L1332 1064.7L1333.5 1063.9L1335 1066.8L1336.5 1064.9L1338 1062.3L1339.5 1061L1341 1058.7L1342.5 1057.8L1344 1042.7L1345.5 1065.8L1347 1059.4L1348.5 1054.4L1350 1063.1L1351.5 1057L1353 1061.1L1354.5 1057.1L1356 1055.7L1357.5 1065.8L1359 1061.7L1360.5 1054.5L1362 1065L1363.5 1065.4L1365 1059.6L1366.5 1063.5L1368 1064.2L1369.5 1063.5L1371 1059.8L1372.5 1059.3L1374 1062.4L1375.5 1057L1377 1054.1L1378.5 1053.7L1380 1069.7L1381.5 1053.2L1383 1058.4L1384.5 1051.6L1386 1062L1387.5 1062.6L1389 1063.2L1390.5 1069.2L1392 1072.8L1393.5 1067.7L1395 1066.3L1396.5 1070.8L1398 1077.8L1399.5 1079.2L1401 1086.8L1402.5 1093.4L1404 1096.2L1405.5 1104.2L1407 1093.1L1408.5 1101.5L1410 1106.5L1411.5 1101.6L1414 1102L1419 1092L1421.5 1000L1425.2 770L1426.5 770L1429.5 1000L1431 1120L1433 1152L1436 1157L1438.5 1154.6L1440 1155.4L1441.5 1156.5L1443 1155.6L1444.5 1155.6L1446 1160.2L1447.5 1158.3L1449 1159.5L1450.5 1153.7L1452 1155.7L1453.5 1160.1L1455 1158.8L1456.5 1161.1L1458 1155.3L1459.5 1160.6L1461 1157.4L1462.5 1159L1464 1157.8L1465.5 1156.5L1467 1156L1468.5 1156.9L1470 1159.8L1471.5 1154.4L1473 1155.4L1474.5 1154.7L1476 1154.9L1477.5 1158.4L1479 1156.2L1480.5 1155.9L1482 1161.1L1483.5 1160.4L1485 1159.9L1486.5 1159.5L1488 1157.8L1489.5 1161.1L1491 1157.2L1492.5 1159.9L1494 1158.3L1495.5 1160.4L1497 1156.9L1498.5 1158.6L1500 1152.7L1501.5 1156.7L1503 1156.6L1504.5 1156.9L1506 1150.9L1507.5 1158.2L1509 1154.8L1510.5 1154.4L1512 1160.7L1513.5 1156L1515 1158.4L1516.5 1152.4L1518 1157.7L1519.5 1156.3L1521 1155.9L1522.5 1152.7L1524 1156.5L1525.5 1155L1527 1158.2L1528.5 1154.1L1530 1151.4L1531.5 1158L1533 1154.1L1534.5 1156.2L1536 1158.4L1537.5 1159.3L1539 1155.7L1540.5 1156.1L1542 1155.8L1543.5 1155.6L1545 1154.4L1546.5 1154.1L1548 1150.9L1549.5 1152.4L1551 1154.1L1552.5 1153L1554 1154.4L1555.5 1157.2L1557 1155.1L1558.5 1158.9L1560 1165.8L1561.5 1163.7L1563 1165.2L1564.5 1163.9L1566 1162.6L1567.5 1162.8L1569 1166.5L1570.5 1170.4L1572 1168L1573.5 1171.8L1575 1170.7L1576.5 1172.5L1578 1174.8L1579.5 1180.5L1581 1173.7L1584 1172L1587 1165L1588.7 1080L1590.2 972L1591.3 972L1595 1090L1598 1180L1600 1200L1603 1204L1605 1203.4L1606.5 1204L1608 1204.6L1609.5 1204.7L1611 1204.1L1612.5 1206.4L1614 1206.4L1615.5 1204.2L1617 1205.3L1618.5 1204.4L1620 1204.7L1621.5 1206.2L1623 1205.7L1624.5 1205.7L1626 1205.2L1627.5 1207.3L1629 1206.4L1630.5 1205.8L1632 1205.6L1633.5 1206.8L1635 1206.1L1636.5 1205.1L1638 1205L1639.5 1204L1641 1205.8L1642.5 1206.2L1644 1206.8L1645.5 1205.3L1647 1205.8L1648.5 1203.7L1650 1205.9L1651.5 1204.7L1653 1204.7L1654.5 1205L1656 1204.7L1657.5 1204.7L1659 1205.6L1660.5 1204.4L1662 1204.6L1663.5 1204.6L1665 1206.6L1666.5 1205.8L1668 1204.8L1669.5 1206.1L1671 1206.7L1672.5 1205.1L1674 1205.4L1675.5 1205.6L1677 1203.8L1678.5 1204.7L1680 1204.3L1681.5 1204.6L1683 1204.9L1684.5 1203.8L1686 1203.1L1687.5 1204.3L1689 1204.8L1690.5 1204.1L1692 1205L1693.5 1204.2L1695 1205.5L1696.5 1205.8L1698 1206.7L1699.5 1205.2L1701 1205.9L1702.5 1204.6L1704 1204.7L1705.5 1204.5L1707 1205L1708.5 1204.4L1710 1203.9L1711.5 1207L1713 1204.8L1714.5 1205L1716 1205.1L1717.5 1204.8L1719 1204.9L1720.5 1205.9L1722 1205.1L1723.5 1205.8L1725 1203.9L1726.5 1205.3L1728 1204.3L1729.5 1204.1L1731 1205.5L1732.5 1204.8L1734 1205.4L1735.5 1205.5L1737 1203.3L1738.5 1205.1L1740 1206.4L1741.5 1205.4L1743 1205.9L1744.5 1206.3L1746 1207.1L1747.5 1203.5L1749 1205L1750.5 1205.1L1752 1205.3L1753.5 1205.9L1755 1204L1756.5 1203.3L1758 1205.4L1759.5 1204.7L1761 1205.8L1762.5 1205.8L1764 1205.1L1765.5 1205.6L1767 1203.8L1768.5 1204.7L1770 1203.4L1771.5 1205.9L1773 1204.5L1774.5 1205.4L1776 1205L1777.5 1205.3L1779 1205.4L1780.5 1205.4L1782 1205.1L1783.5 1204.7L1785 1205.3L1786.5 1203.4L1788 1204.3L1789.5 1206.2L1791 1205.4L1792.5 1204.1L1794 1204.2L1795.5 1204.2L1797 1204.8L1798.5 1205.6L1800 1204.9L1801.5 1205.6L1803 1203.9L1804.5 1204.9L1806 1205.2L1807.5 1205.5L1809 1205.9L1810.5 1205.7L1812 1206.3L1813.5 1206.5L1815 1205.9L1816.5 1204.7L1818 1205.1L1819.5 1204.6L1821 1206.3L1822.5 1205.7L1824 1204.9L1825.5 1204.4L1827 1204.3L1828.5 1205.9L1830 1204.8L1831.5 1204.6L1833 1204.8L1834.5 1206.1L1836 1204.1L1837.5 1205.2L1839 1206.3L1840.5 1206.5L1842 1206.4L1843.5 1205.4L1845 1206.5L1846.5 1206.8L1848 1204.6L1849.5 1204.6L1851 1204.9L1852.5 1205.2L1854 1204.8L1855.5 1204.4L1857 1203.3L1858.5 1205.4L1860 1204.2L1861.5 1205.3L1863 1204.8L1864.5 1205.5L1866 1204.1L1867.5 1204.3L1869 1205.3L1870.5 1205.3L1872 1204.9L1873.5 1205.5L1875 1204.7L1876.5 1204.7L1878 1204.2L1879.5 1205.1L1881 1205.8L1882.5 1204.7L1884 1205.1L1885.5 1206L1887 1204.6L1888.5 1204.7L1890 1205.5L1891.5 1206.7L1893 1205L1894.5 1205L1896 1205.4L1897.5 1204.5L1899 1204.5L1900.5 1206.1L1902 1203.8L1903.5 1205L1905 1205.4L1906.5 1205.6L1908 1204.9L1909.5 1205L1911 1204.3L1912.5 1203.4L1914 1204.8L1915.5 1204.9L1917 1205.4L1918.5 1206L1920 1207.1L1921.5 1205.8L1923 1206.9L1924.5 1205.9L1926 1206.2L1927.5 1205.1L1929 1205.9L1930.5 1205.7L1932 1206.3L1933.5 1205L1935 1206.5L1936.5 1204.3L1938 1205.6L1939.5 1203.5L1941 1205.1L1942.5 1205.4L1944 1205.5L1945.5 1206.1L1947 1203.9L1948.5 1204.8L1950 1204.8L1951.5 1204.9L1953 1205.9L1954.5 1204.5L1956 1204L1957.5 1204.4L1959 1205.6L1960.5 1204.2L1962 1203.5L1963.5 1204.4L1965 1205.6L1966.5 1205.5L1968 1203.6L1969.5 1203.5L1971 1204.4L1972.5 1204.2L1974 1203.3L1975.5 1202.9L1977 1202.1L1978.5 1199.4L1980 1200.8L1981.5 1197.9L1983 1197.6L1984.5 1201L1986 1201.1L1987.5 1202.8L1989 1201.9L1990.5 1204.3L1992 1205L1993.5 1205L1995 1205.2L1996.5 1205.2L1998 1205.7L1999.5 1204.9L2001 1207.6L2002.5 1206L2004 1205.9L2005.5 1207.7L2007 1207.7L2008.5 1207.9L2010 1211.1L2011.5 1209.2L2013 1208.1L2014.5 1209.4L2016 1209.9" fill="none" stroke="#000" stroke-width="8.0" stroke-linejoin="round" />
</g>
<rect x="409.0" y="208.5" width="141.0" height="10.0" fill="#ff007f"/>
<text transform="translate(565.2 234.0) scale(1 0.965)" font-size="68.0" text-anchor="start">3CDCN</text>
<rect x="452.0" y="765.5" width="141.0" height="10.0" fill="#000"/>
<text transform="translate(609.5 792.5) scale(1 0.965)" font-size="68.0" text-anchor="start">CN</text>
<text transform="translate(1349.2 111.5) scale(1 0.965)" font-size="63.5" text-anchor="start">N1s</text>
<text transform="translate(1538.9 336.5) scale(1 0.965)" font-size="63.5" text-anchor="start">C1s</text>
<text transform="translate(1177.1 386.5) scale(1 0.965)" font-size="63.5" text-anchor="start">O1s</text>
<text transform="translate(1727.4 161.0) scale(1 0.965)" font-size="68.5" text-anchor="start">Survey</text>
<rect x="234.0" y="1488.3" width="6.0" height="1228.9" fill="#000"/>
<rect x="2013.0" y="1488.3" width="6.0" height="1228.9" fill="#000"/>
<rect x="234.0" y="1488.3" width="1785.0" height="6.0" fill="#000"/>
<rect x="233.8" y="2710.2" width="1785.5" height="7.0" fill="#000"/>
<rect x="233.8" y="2713.7" width="6.5" height="23.2" fill="#000"/>
<rect x="530.2" y="2713.7" width="6.5" height="23.2" fill="#000"/>
<rect x="826.8" y="2713.7" width="6.5" height="23.2" fill="#000"/>
<rect x="1123.2" y="2713.7" width="6.5" height="23.2" fill="#000"/>
<rect x="1419.8" y="2713.7" width="6.5" height="23.2" fill="#000"/>
<rect x="1716.2" y="2713.7" width="6.5" height="23.2" fill="#000"/>
<rect x="2012.8" y="2713.7" width="6.5" height="23.2" fill="#000"/>
<rect x="382.0" y="2713.7" width="6.5" height="11.2" fill="#000"/>
<rect x="678.5" y="2713.7" width="6.5" height="11.2" fill="#000"/>
<rect x="975.0" y="2713.7" width="6.5" height="11.2" fill="#000"/>
<rect x="1271.5" y="2713.7" width="6.5" height="11.2" fill="#000"/>
<rect x="1568.0" y="2713.7" width="6.5" height="11.2" fill="#000"/>
<rect x="1864.5" y="2713.7" width="6.5" height="11.2" fill="#000"/>
<text transform="translate(237.0 2807.8) scale(1 0.985)" font-size="74.0" text-anchor="middle">292</text>
<text transform="translate(533.5 2807.8) scale(1 0.985)" font-size="74.0" text-anchor="middle">290</text>
<text transform="translate(830.0 2807.8) scale(1 0.985)" font-size="74.0" text-anchor="middle">288</text>
<text transform="translate(1126.5 2807.8) scale(1 0.985)" font-size="74.0" text-anchor="middle">286</text>
<text transform="translate(1423.0 2807.8) scale(1 0.985)" font-size="74.0" text-anchor="middle">284</text>
<text transform="translate(1719.5 2807.8) scale(1 0.985)" font-size="74.0" text-anchor="middle">282</text>
<text transform="translate(2016.0 2807.8) scale(1 0.985)" font-size="74.0" text-anchor="middle">280</text>
<text transform="translate(801.7 2918.0) scale(1 0.965)" font-size="76.2" text-anchor="start">Binding energy (eV)</text>
<text transform="translate(131.7 2022.3) rotate(-90)" font-size="77.6" text-anchor="middle">Intensity (a.u.)</text>
<text transform="translate(22.2 1656.5) scale(1 0.965)" font-size="150.5" text-anchor="start">(b)</text>
<g clip-path="url(#cb)">
<path d="M236.3 2069L239.3 2069.1L242.3 2069.2L245.3 2069.4L248.3 2069.5L251.3 2069.6L254.3 2069.8L257.3 2069.9L260.3 2070L263.3 2069.5L266.3 2069L269.3 2068.5L272.3 2068.1L275.3 2067.6L278.3 2067.1L281.3 2067.3L284.3 2067.8L287.3 2068.2L290.3 2068.6L293.3 2069L296.3 2069.5L299.3 2069.9L302.3 2070L305.3 2070L308.3 2070L311.3 2070L314.3 2070L317.3 2070L320.3 2070L323.3 2070L326.3 2070L329.3 2070L332.3 2070L335.3 2070L338.3 2070L341.3 2070L344.3 2070L347.3 2070L350.3 2070L353.3 2070L356.3 2070L359.3 2070L362.3 2070L365.3 2070L368.3 2070L371.3 2070L374.3 2070L377.3 2070L380.3 2070L383.3 2070L386.3 2070L389.3 2070L392.3 2070L395.3 2070L398.3 2070L401.3 2070L404.3 2070L407.3 2070L410.3 2070L413.3 2070L416.3 2070L419.3 2069.8L422.3 2069.5L425.3 2069.2L428.3 2068.9L431.3 2068.6L434.3 2068.3L437.3 2068L440.3 2067.7L443.3 2067.4L446.3 2067L449.3 2066.7L452.3 2066.4L455.3 2066.1L458.3 2065.7L461.3 2065.4L464.3 2065.1L467.3 2064.7L470.3 2064.4L473.3 2064.1L476.3 2063.7L479.3 2063.4L482.3 2063L485.3 2062.6L488.3 2061.9L491.3 2060.9L494.3 2059.8L497.3 2058.7L500.3 2057.5L503.3 2057.1L506.3 2057.5L509.3 2057.8L512.3 2058.2L515.3 2058.5L518.3 2058.8L521.3 2058.1L524.3 2057.2L527.3 2056.2L530.3 2055.1L533.3 2054.5L536.3 2054.2L539.3 2054L542.3 2053.7L545.3 2053.3L548.3 2052.1L551.3 2049.6L554.3 2047.1L557.3 2044.5L560.3 2041.8L563.3 2039.7L566.3 2038.2L569.3 2036.7L572.3 2035L575.3 2033.3L578.3 2031.5L581.3 2029.5L584.3 2027.4L587.3 2025.2L590.3 2022.7L593.3 2019.7L596.3 2016.6L599.3 2013.4L602.3 2010L605.3 2006.4L608.3 2002.7L611.3 1999.4L614.3 1996.2L617.3 1992.7L620.3 1989.1L623.3 1985.4L626.3 1981.5L629.3 1977.4L632.3 1973L635.3 1968.4L638.3 1963.5L641.3 1958.4L644.3 1953.1L647.3 1947.5L650.3 1941.6L653.3 1938.8L656.3 1936.8L659.3 1934.6L662.3 1932L665.3 1928L668.3 1922.2L671.3 1916.2L674.3 1909.9L677.3 1903.3L680.3 1896.4L683.3 1887.8L686.3 1879L689.3 1869.9L692.3 1860.7L695.3 1851.3L698.3 1841.7L701.3 1832L704.3 1822.1L707.3 1812.2L710.3 1802.1L713.3 1791.9L716.3 1781.8L719.3 1771.5L722.3 1761.3L725.3 1751.1L728.3 1741L731.3 1730.9L734.3 1721L737.3 1711.1L740.3 1701.4L743.3 1691.9L746.3 1682.5L749.3 1673.4L752.3 1664.5L755.3 1656L758.3 1647.8L761.3 1639.9L764.3 1632.4L767.3 1625.3L770.3 1618.6L773.3 1611.5L776.3 1604.9L779.3 1598.8L782.3 1593.2L785.3 1588.1L788.3 1581.5L791.3 1572.8L794.3 1564.7L797.3 1557.8L800.3 1556.4L803.3 1555.6L806.3 1555.5L809.3 1555.9L812.3 1556.9L815.3 1555.1L818.3 1552.7L821.3 1551L824.3 1549.8L827.3 1549.1L830.3 1552.7L833.3 1561.7L836.3 1571.2L839.3 1581.2L842.3 1591.7L845.3 1602.6L848.3 1613.9L851.3 1624.2L854.3 1632.9L857.3 1642L860.3 1651.4L863.3 1661.1L866.3 1671L869.3 1681.3L872.3 1691.4L875.3 1701.7L878.3 1712.1L881.3 1722.6L884.3 1733.3L887.3 1744L890.3 1754.8L893.3 1765.6L896.3 1776.4L899.3 1787.2L902.3 1798L905.3 1808.6L908.3 1818.9L911.3 1829L914.3 1839L917.3 1848.8L920.3 1858.5L923.3 1867.9L926.3 1877.2L929.3 1886.3L932.3 1895.2L935.3 1903.8L938.3 1912.2L941.3 1920.4L944.3 1928.3L947.3 1935.9L950.3 1943.1L953.3 1949L956.3 1954.7L959.3 1960L962.3 1965.1L965.3 1969.9L968.3 1974.5L971.3 1978.7L974.3 1982.7L977.3 1986.4L980.3 1989.8L983.3 1993L986.3 1996.1L989.3 1999L992.3 2001.7L995.3 2004.2L998.3 2006.4L1001.3 2008.4L1004.3 2010.2L1007.3 2011.8L1010.3 2013.2L1013.3 2014.9L1016.3 2016.4L1019.3 2017.7L1022.3 2018.8L1025.3 2019.7L1028.3 2020.5L1031.3 2021.1L1034.3 2021.5L1037.3 2021.8L1040.3 2022L1043.3 2022L1046.3 2021.9L1049.3 2022.3L1052.3 2022.5L1055.3 2022.6L1058.3 2022.6L1061.3 2022.3L1064.3 2021.6L1067.3 2020.9L1070.3 2020L1073.3 2019.1L1076.3 2018.3L1079.3 2017.7L1082.3 2017L1085.3 2016.2L1088.3 2015.4L1091.3 2014.5L1094.3 2013.6L1097.3 2012.5L1100.3 2011.4L1103.3 2008.9L1106.3 2006.5L1109.3 2004L1112.3 2001.5L1115.3 1998.9L1118.3 1996.3L1121.3 1993.6L1124.3 1993.7L1127.3 1994.6L1130.3 1995.5L1133.3 1996.3L1136.3 1996L1139.3 1994.2L1142.3 1992.4L1145.3 1990.6L1148.3 1988.8L1151.3 1986.9L1154.3 1985.1L1157.3 1983.3L1160.3 1981.5L1163.3 1979.7L1166.3 1977.9L1169.3 1976.2L1172.3 1974.4L1175.3 1972.7L1178.3 1971L1181.3 1969.4L1184.3 1967.8L1187.3 1966.2L1190.3 1964.6L1193.3 1963.1L1196.3 1961.7L1199.3 1960.3L1202.3 1959.1L1205.3 1958L1208.3 1957L1211.3 1956L1214.3 1955.1L1217.3 1954.3L1220.3 1953.5L1223.3 1952.8L1226.3 1951.8L1229.3 1950.4L1232.3 1949.1L1235.3 1947.8L1238.3 1946.6L1241.3 1945.5L1244.3 1944.5L1247.3 1943.6L1250.3 1942.7L1253.3 1941.9L1256.3 1941.2L1259.3 1940.6L1262.3 1940L1265.3 1939.6L1268.3 1939.2L1271.3 1938.9L1274.3 1938.7L1277.3 1938.3L1280.3 1938L1283.3 1937.7L1286.3 1937.5L1289.3 1937.4L1292.3 1937.9L1295.3 1938.8L1298.3 1939.7L1301.3 1940.7L1304.3 1941.7L1307.3 1942.8L1310.3 1944L1313.3 1945.3L1316.3 1947L1319.3 1949.4L1322.3 1951.8L1325.3 1954.3L1328.3 1956.9L1331.3 1959.5L1334.3 1962.1L1337.3 1964.8L1340.3 1967.5L1343.3 1970.3L1346.3 1972.4L1349.3 1973.7L1352.3 1974.9L1355.3 1976.2L1358.3 1977.6L1361.3 1978.9L1364.3 1980.3L1367.3 1981.6L1370.3 1983L1373.3 1984.4L1376.3 1985.8L1379.3 1987.3L1382.3 1988.7L1385.3 1990.1L1388.3 1991.5L1391.3 1993.6L1394.3 1996.5L1397.3 1999.4L1400.3 2002.2L1403.3 2005.1L1406.3 2008L1409.3 2010.8L1412.3 2013.6L1415.3 2016.4L1418.3 2019.2L1421.3 2021.5L1424.3 2023.3L1427.3 2025L1430.3 2026.7L1433.3 2028.4L1436.3 2030.1L1439.3 2031.7L1442.3 2033.3L1445.3 2034.9L1448.3 2036.4L1451.3 2037.9L1454.3 2039.3L1457.3 2040.7L1460.3 2042.1L1463.3 2043.4L1466.3 2044.7L1469.3 2046L1472.3 2047.2L1475.3 2048.4L1478.3 2049.6L1481.3 2050.7L1484.3 2051.8L1487.3 2052.8L1490.3 2053.8L1493.3 2054.8L1496.3 2055.7L1499.3 2056.6L1502.3 2057.4L1505.3 2058L1508.3 2058.6L1511.3 2059.2L1514.3 2059.7L1517.3 2060.2L1520.3 2060.7L1523.3 2061.2L1526.3 2061.6L1529.3 2062L1532.3 2062.4L1535.3 2062.7L1538.3 2063L1541.3 2063.6L1544.3 2064.4L1547.3 2065.1L1550.3 2065.9L1553.3 2066.6L1556.3 2067.3L1559.3 2068L1562.3 2068.1L1565.3 2068.1L1568.3 2068L1571.3 2068L1574.3 2067.9L1577.3 2067.8L1580.3 2067.7L1583.3 2067.6L1586.3 2067.4L1589.3 2067.3L1592.3 2067.1L1595.3 2066.9L1598.3 2066.7L1601.3 2066.7L1604.3 2067L1607.3 2067.2L1610.3 2067.4L1613.3 2067.7L1616.3 2067.9L1619.3 2068.1L1622.3 2068.3L1625.3 2068.5L1628.3 2068.7L1631.3 2068.8L1634.3 2069L1637.3 2069.2L1640.3 2069.3L1643.3 2069.5L1646.3 2069.7L1649.3 2069.8L1652.3 2069.9L1655.3 2070.1L1658.3 2070.2L1661.3 2070.4L1664.3 2070.5L1667.3 2070.6L1670.3 2070.7L1673.3 2070.9L1676.3 2071L1679.3 2071.1L1682.3 2071.2L1685.3 2071.3L1688.3 2071.4L1691.3 2071.5L1694.3 2071.6L1697.3 2071.7L1700.3 2071.8L1703.3 2071.8L1706.3 2071.7L1709.3 2071.6L1712.3 2071.5L1715.3 2071.4L1718.3 2071.4L1721.3 2071.3L1724.3 2071.2L1727.3 2071.1L1730.3 2071L1733.3 2070.9L1736.3 2070.9L1739.3 2070.8L1742.3 2070.7L1745.3 2070.6L1748.3 2070.5L1751.3 2070.4L1754.3 2070.3L1757.3 2070.3L1760.3 2070.2L1763.3 2070.1L1766.3 2070L1769.3 2069.9L1772.3 2069.8L1775.3 2069.7L1778.3 2069.6L1781.3 2069.6L1784.3 2069.5L1787.3 2069.4L1790.3 2069.3L1793.3 2069.2L1796.3 2069.1L1799.3 2069L1802.3 2069.1L1805.3 2069.2L1808.3 2069.2L1811.3 2069.3L1814.3 2069.4L1817.3 2069.5L1820.3 2069.6L1823.3 2069.7L1826.3 2069.8L1829.3 2069.9L1832.3 2070L1835.3 2070.1L1838.3 2070.1L1841.3 2070.2L1844.3 2070.3L1847.3 2070.4L1850.3 2070.5L1853.3 2070.6L1856.3 2070.7L1859.3 2070.8L1862.3 2070.9L1865.3 2071L1868.3 2071L1871.3 2071.1L1874.3 2071.2L1877.3 2071.3L1880.3 2071.4L1883.3 2071.5L1886.3 2071.6L1889.3 2071.7L1892.3 2071.8L1895.3 2071.9L1898.3 2071.9L1901.3 2072L1904.3 2071.9L1907.3 2071.9L1910.3 2071.8L1913.3 2071.8L1916.3 2071.7L1919.3 2071.7L1922.3 2071.6L1925.3 2071.6L1928.3 2071.5L1931.3 2071.5L1934.3 2071.4L1937.3 2071.4L1940.3 2071.3L1943.3 2071.3L1946.3 2071.2L1949.3 2071.1L1952.3 2071.1L1955.3 2071L1958.3 2071L1961.3 2070.9L1964.3 2070.9L1967.3 2070.8L1970.3 2070.8L1973.3 2070.7L1976.3 2070.7L1979.3 2070.6L1982.3 2070.6L1985.3 2070.5L1988.3 2070.5L1991.3 2070.4L1994.3 2070.4L1997.3 2070.3L2000.3 2070.3L2003.3 2070.2L2006.3 2070.2L2009.3 2070.1L2012.3 2070.1L2015.3 2070L2018.3 2070" fill="none" stroke="#000" stroke-width="4.5" stroke-linejoin="round" />
<path d="M236.3 2072L242.3 2072L248.3 2072L254.3 2072L260.3 2072L266.3 2072L272.3 2072L278.3 2072L284.3 2072L290.3 2072L296.3 2072L302.3 2072L308.3 2072L314.3 2072L320.3 2072L326.3 2072L332.3 2072L338.3 2072L344.3 2072L350.3 2072L356.3 2072L362.3 2072L368.3 2072L374.3 2072L380.3 2072L386.3 2072L392.3 2072L398.3 2072L404.3 2072L410.3 2072L416.3 2072L422.3 2072L428.3 2072L434.3 2072L440.3 2072L446.3 2072L452.3 2072L458.3 2072L464.3 2072L470.3 2072L476.3 2072L482.3 2072L488.3 2072L494.3 2072L500.3 2072L506.3 2072L512.3 2072L518.3 2072L524.3 2072L530.3 2072L536.3 2072L542.3 2072L548.3 2072L554.3 2072L560.3 2072L566.3 2072L572.3 2072L578.3 2072L584.3 2072L590.3 2072L596.3 2072L602.3 2072L608.3 2072L614.3 2072L620.3 2072L626.3 2072L632.3 2072L638.3 2072L644.3 2072L650.3 2072L656.3 2072L662.3 2072L668.3 2072L674.3 2072L680.3 2072L686.3 2072L692.3 2072L698.3 2072L704.3 2072L710.3 2072L716.3 2072L722.3 2072L728.3 2072L734.3 2072L740.3 2072L746.3 2072L752.3 2072L758.3 2072L764.3 2072L770.3 2072L776.3 2072L782.3 2072L788.3 2071.9L794.3 2071.9L800.3 2071.9L806.3 2071.9L812.3 2071.9L818.3 2071.9L824.3 2071.8L830.3 2071.8L836.3 2071.8L842.3 2071.7L848.3 2071.7L854.3 2071.6L860.3 2071.5L866.3 2071.4L872.3 2071.3L878.3 2071.2L884.3 2071.1L890.3 2070.9L896.3 2070.8L902.3 2070.6L908.3 2070.3L914.3 2070.1L920.3 2069.8L926.3 2069.4L932.3 2069L938.3 2068.6L944.3 2068.1L950.3 2067.6L956.3 2067L962.3 2066.3L968.3 2065.5L974.3 2064.7L980.3 2063.8L986.3 2062.8L992.3 2061.6L998.3 2060.4L1004.3 2059.1L1010.3 2057.6L1016.3 2056L1022.3 2054.3L1028.3 2052.5L1034.3 2050.5L1040.3 2048.4L1046.3 2046.2L1052.3 2043.7L1058.3 2041.2L1064.3 2038.5L1070.3 2035.6L1076.3 2032.7L1082.3 2029.5L1088.3 2026.3L1094.3 2022.9L1100.3 2019.4L1106.3 2015.7L1112.3 2012L1118.3 2008.2L1124.3 2004.3L1130.3 2000.4L1136.3 1996.4L1142.3 1992.4L1148.3 1988.4L1154.3 1984.4L1160.3 1980.5L1166.3 1976.6L1172.3 1972.8L1178.3 1969.1L1184.3 1965.5L1190.3 1962.1L1196.3 1958.9L1202.3 1955.9L1208.3 1953L1214.3 1950.4L1220.3 1948.1L1226.3 1946L1232.3 1944.2L1238.3 1942.8L1244.3 1941.6L1250.3 1940.7L1256.3 1940.2L1262.3 1940L1268.3 1940.1L1274.3 1940.6L1280.3 1941.4L1286.3 1942.5L1292.3 1943.9L1298.3 1945.7L1304.3 1947.7L1310.3 1950L1316.3 1952.6L1322.3 1955.4L1328.3 1958.4L1334.3 1961.7L1340.3 1965.1L1346.3 1968.7L1352.3 1972.4L1358.3 1976.2L1364.3 1980.1L1370.3 1984.1L1376.3 1988.1L1382.3 1992.1L1388.3 1996.2L1394.3 2000.2L1400.3 2004.2L1406.3 2008.1L1412.3 2011.9L1418.3 2015.7L1424.3 2019.3L1430.3 2022.9L1436.3 2026.3L1442.3 2029.6L1448.3 2032.7L1454.3 2035.7L1460.3 2038.6L1466.3 2041.3L1472.3 2043.9L1478.3 2046.3L1484.3 2048.6L1490.3 2050.7L1496.3 2052.7L1502.3 2054.5L1508.3 2056.2L1514.3 2057.8L1520.3 2059.3L1526.3 2060.6L1532.3 2061.8L1538.3 2062.9L1544.3 2063.9L1550.3 2064.8L1556.3 2065.7L1562.3 2066.4L1568.3 2067.1L1574.3 2067.7L1580.3 2068.2L1586.3 2068.7L1592.3 2069.1L1598.3 2069.5L1604.3 2069.8L1610.3 2070.1L1616.3 2070.4L1622.3 2070.6L1628.3 2070.8L1634.3 2071L1640.3 2071.1L1646.3 2071.3L1652.3 2071.4L1658.3 2071.5L1664.3 2071.6L1670.3 2071.6L1676.3 2071.7L1682.3 2071.7L1688.3 2071.8L1694.3 2071.8L1700.3 2071.8L1706.3 2071.9L1712.3 2071.9L1718.3 2071.9L1724.3 2071.9L1730.3 2071.9L1736.3 2072L1742.3 2072L1748.3 2072L1754.3 2072L1760.3 2072L1766.3 2072L1772.3 2072L1778.3 2072L1784.3 2072L1790.3 2072L1796.3 2072L1802.3 2072L1808.3 2072L1814.3 2072L1820.3 2072L1826.3 2072L1832.3 2072L1838.3 2072L1844.3 2072L1850.3 2072L1856.3 2072L1862.3 2072L1868.3 2072L1874.3 2072L1880.3 2072L1886.3 2072L1892.3 2072L1898.3 2072L1904.3 2072L1910.3 2072L1916.3 2072L1922.3 2072L1928.3 2072L1934.3 2072L1940.3 2072L1946.3 2072L1952.3 2072L1958.3 2072L1964.3 2072L1970.3 2072L1976.3 2072L1982.3 2072L1988.3 2072L1994.3 2072L2000.3 2072L2006.3 2072L2012.3 2072L2018.3 2072L2018.3 2075.5L236.3 2075.5Z" fill="url(#gb1)"/>
<path d="M236.3 2072L242.3 2072L248.3 2072L254.3 2072L260.3 2072L266.3 2072L272.3 2072L278.3 2072L284.3 2072L290.3 2072L296.3 2072L302.3 2072L308.3 2072L314.3 2072L320.3 2072L326.3 2072L332.3 2072L338.3 2072L344.3 2072L350.3 2072L356.3 2072L362.3 2072L368.3 2072L374.3 2072L380.3 2072L386.3 2072L392.3 2072L398.3 2072L404.3 2072L410.3 2072L416.3 2072L422.3 2072L428.3 2072L434.3 2072L440.3 2072L446.3 2072L452.3 2072L458.3 2072L464.3 2072L470.3 2072L476.3 2072L482.3 2072L488.3 2072L494.3 2072L500.3 2072L506.3 2072L512.3 2072L518.3 2072L524.3 2072L530.3 2072L536.3 2072L542.3 2072L548.3 2072L554.3 2072L560.3 2072L566.3 2072L572.3 2072L578.3 2072L584.3 2072L590.3 2072L596.3 2072L602.3 2072L608.3 2072L614.3 2072L620.3 2072L626.3 2072L632.3 2072L638.3 2072L644.3 2072L650.3 2072L656.3 2072L662.3 2072L668.3 2072L674.3 2072L680.3 2072L686.3 2072L692.3 2072L698.3 2072L704.3 2072L710.3 2072L716.3 2072L722.3 2072L728.3 2072L734.3 2072L740.3 2072L746.3 2072L752.3 2072L758.3 2072L764.3 2072L770.3 2072L776.3 2072L782.3 2072L788.3 2071.9L794.3 2071.9L800.3 2071.9L806.3 2071.9L812.3 2071.9L818.3 2071.9L824.3 2071.8L830.3 2071.8L836.3 2071.8L842.3 2071.7L848.3 2071.7L854.3 2071.6L860.3 2071.5L866.3 2071.4L872.3 2071.3L878.3 2071.2L884.3 2071.1L890.3 2070.9L896.3 2070.8L902.3 2070.6L908.3 2070.3L914.3 2070.1L920.3 2069.8L926.3 2069.4L932.3 2069L938.3 2068.6L944.3 2068.1L950.3 2067.6L956.3 2067L962.3 2066.3L968.3 2065.5L974.3 2064.7L980.3 2063.8L986.3 2062.8L992.3 2061.6L998.3 2060.4L1004.3 2059.1L1010.3 2057.6L1016.3 2056L1022.3 2054.3L1028.3 2052.5L1034.3 2050.5L1040.3 2048.4L1046.3 2046.2L1052.3 2043.7L1058.3 2041.2L1064.3 2038.5L1070.3 2035.6L1076.3 2032.7L1082.3 2029.5L1088.3 2026.3L1094.3 2022.9L1100.3 2019.4L1106.3 2015.7L1112.3 2012L1118.3 2008.2L1124.3 2004.3L1130.3 2000.4L1136.3 1996.4L1142.3 1992.4L1148.3 1988.4L1154.3 1984.4L1160.3 1980.5L1166.3 1976.6L1172.3 1972.8L1178.3 1969.1L1184.3 1965.5L1190.3 1962.1L1196.3 1958.9L1202.3 1955.9L1208.3 1953L1214.3 1950.4L1220.3 1948.1L1226.3 1946L1232.3 1944.2L1238.3 1942.8L1244.3 1941.6L1250.3 1940.7L1256.3 1940.2L1262.3 1940L1268.3 1940.1L1274.3 1940.6L1280.3 1941.4L1286.3 1942.5L1292.3 1943.9L1298.3 1945.7L1304.3 1947.7L1310.3 1950L1316.3 1952.6L1322.3 1955.4L1328.3 1958.4L1334.3 1961.7L1340.3 1965.1L1346.3 1968.7L1352.3 1972.4L1358.3 1976.2L1364.3 1980.1L1370.3 1984.1L1376.3 1988.1L1382.3 1992.1L1388.3 1996.2L1394.3 2000.2L1400.3 2004.2L1406.3 2008.1L1412.3 2011.9L1418.3 2015.7L1424.3 2019.3L1430.3 2022.9L1436.3 2026.3L1442.3 2029.6L1448.3 2032.7L1454.3 2035.7L1460.3 2038.6L1466.3 2041.3L1472.3 2043.9L1478.3 2046.3L1484.3 2048.6L1490.3 2050.7L1496.3 2052.7L1502.3 2054.5L1508.3 2056.2L1514.3 2057.8L1520.3 2059.3L1526.3 2060.6L1532.3 2061.8L1538.3 2062.9L1544.3 2063.9L1550.3 2064.8L1556.3 2065.7L1562.3 2066.4L1568.3 2067.1L1574.3 2067.7L1580.3 2068.2L1586.3 2068.7L1592.3 2069.1L1598.3 2069.5L1604.3 2069.8L1610.3 2070.1L1616.3 2070.4L1622.3 2070.6L1628.3 2070.8L1634.3 2071L1640.3 2071.1L1646.3 2071.3L1652.3 2071.4L1658.3 2071.5L1664.3 2071.6L1670.3 2071.6L1676.3 2071.7L1682.3 2071.7L1688.3 2071.8L1694.3 2071.8L1700.3 2071.8L1706.3 2071.9L1712.3 2071.9L1718.3 2071.9L1724.3 2071.9L1730.3 2071.9L1736.3 2072L1742.3 2072L1748.3 2072L1754.3 2072L1760.3 2072L1766.3 2072L1772.3 2072L1778.3 2072L1784.3 2072L1790.3 2072L1796.3 2072L1802.3 2072L1808.3 2072L1814.3 2072L1820.3 2072L1826.3 2072L1832.3 2072L1838.3 2072L1844.3 2072L1850.3 2072L1856.3 2072L1862.3 2072L1868.3 2072L1874.3 2072L1880.3 2072L1886.3 2072L1892.3 2072L1898.3 2072L1904.3 2072L1910.3 2072L1916.3 2072L1922.3 2072L1928.3 2072L1934.3 2072L1940.3 2072L1946.3 2072L1952.3 2072L1958.3 2072L1964.3 2072L1970.3 2072L1976.3 2072L1982.3 2072L1988.3 2072L1994.3 2072L2000.3 2072L2006.3 2072L2012.3 2072L2018.3 2072" fill="none" stroke="#7f00ff" stroke-width="9.5" stroke-linejoin="round" />
<path d="M236.3 2072L242.3 2072L248.3 2072L254.3 2072L260.3 2072L266.3 2072L272.3 2072L278.3 2072L284.3 2072L290.3 2072L296.3 2072L302.3 2072L308.3 2072L314.3 2072L320.3 2072L326.3 2072L332.3 2072L338.3 2072L344.3 2072L350.3 2072L356.3 2072L362.3 2072L368.3 2072L374.3 2072L380.3 2072L386.3 2072L392.3 2072L398.3 2072L404.3 2072L410.3 2072L416.3 2072L422.3 2072L428.3 2072L434.3 2071.9L440.3 2071.9L446.3 2071.9L452.3 2071.9L458.3 2071.8L464.3 2071.8L470.3 2071.7L476.3 2071.6L482.3 2071.5L488.3 2071.4L494.3 2071.2L500.3 2071L506.3 2070.7L512.3 2070.3L518.3 2069.9L524.3 2069.4L530.3 2068.7L536.3 2068L542.3 2067L548.3 2065.8L554.3 2064.5L560.3 2062.8L566.3 2060.9L572.3 2058.6L578.3 2055.9L584.3 2052.7L590.3 2049.1L596.3 2044.8L602.3 2040L608.3 2034.5L614.3 2028.2L620.3 2021.1L626.3 2013.1L632.3 2004.2L638.3 1994.4L644.3 1983.5L650.3 1971.6L656.3 1958.7L662.3 1944.6L668.3 1929.6L674.3 1913.4L680.3 1896.3L686.3 1878.3L692.3 1859.5L698.3 1839.9L704.3 1819.7L710.3 1799.1L716.3 1778.1L722.3 1757.1L728.3 1736.2L734.3 1715.5L740.3 1695.4L746.3 1676.1L752.3 1657.7L758.3 1640.6L764.3 1624.8L770.3 1610.7L776.3 1598.4L782.3 1588.1L788.3 1579.9L794.3 1573.9L800.3 1570.3L806.3 1569L812.3 1570.1L818.3 1573.5L824.3 1579.2L830.3 1587.1L836.3 1597L842.3 1608.9L848.3 1622.7L854.3 1638L860.3 1654.7L866.3 1672.7L872.3 1691.7L878.3 1711.4L884.3 1731.7L890.3 1752.4L896.3 1773.2L902.3 1793.9L908.3 1814.4L914.3 1834.5L920.3 1854L926.3 1872.9L932.3 1890.9L938.3 1908.1L944.3 1924.4L950.3 1939.6L956.3 1953.9L962.3 1967.1L968.3 1979.2L974.3 1990.3L980.3 2000.5L986.3 2009.6L992.3 2017.9L998.3 2025.2L1004.3 2031.8L1010.3 2037.6L1016.3 2042.7L1022.3 2047.1L1028.3 2051L1034.3 2054.4L1040.3 2057.2L1046.3 2059.7L1052.3 2061.8L1058.3 2063.6L1064.3 2065.1L1070.3 2066.4L1076.3 2067.4L1082.3 2068.3L1088.3 2069L1094.3 2069.6L1100.3 2070.1L1106.3 2070.5L1112.3 2070.8L1118.3 2071.1L1124.3 2071.3L1130.3 2071.4L1136.3 2071.6L1142.3 2071.7L1148.3 2071.7L1154.3 2071.8L1160.3 2071.8L1166.3 2071.9L1172.3 2071.9L1178.3 2071.9L1184.3 2071.9L1190.3 2072L1196.3 2072L1202.3 2072L1208.3 2072L1214.3 2072L1220.3 2072L1226.3 2072L1232.3 2072L1238.3 2072L1244.3 2072L1250.3 2072L1256.3 2072L1262.3 2072L1268.3 2072L1274.3 2072L1280.3 2072L1286.3 2072L1292.3 2072L1298.3 2072L1304.3 2072L1310.3 2072L1316.3 2072L1322.3 2072L1328.3 2072L1334.3 2072L1340.3 2072L1346.3 2072L1352.3 2072L1358.3 2072L1364.3 2072L1370.3 2072L1376.3 2072L1382.3 2072L1388.3 2072L1394.3 2072L1400.3 2072L1406.3 2072L1412.3 2072L1418.3 2072L1424.3 2072L1430.3 2072L1436.3 2072L1442.3 2072L1448.3 2072L1454.3 2072L1460.3 2072L1466.3 2072L1472.3 2072L1478.3 2072L1484.3 2072L1490.3 2072L1496.3 2072L1502.3 2072L1508.3 2072L1514.3 2072L1520.3 2072L1526.3 2072L1532.3 2072L1538.3 2072L1544.3 2072L1550.3 2072L1556.3 2072L1562.3 2072L1568.3 2072L1574.3 2072L1580.3 2072L1586.3 2072L1592.3 2072L1598.3 2072L1604.3 2072L1610.3 2072L1616.3 2072L1622.3 2072L1628.3 2072L1634.3 2072L1640.3 2072L1646.3 2072L1652.3 2072L1658.3 2072L1664.3 2072L1670.3 2072L1676.3 2072L1682.3 2072L1688.3 2072L1694.3 2072L1700.3 2072L1706.3 2072L1712.3 2072L1718.3 2072L1724.3 2072L1730.3 2072L1736.3 2072L1742.3 2072L1748.3 2072L1754.3 2072L1760.3 2072L1766.3 2072L1772.3 2072L1778.3 2072L1784.3 2072L1790.3 2072L1796.3 2072L1802.3 2072L1808.3 2072L1814.3 2072L1820.3 2072L1826.3 2072L1832.3 2072L1838.3 2072L1844.3 2072L1850.3 2072L1856.3 2072L1862.3 2072L1868.3 2072L1874.3 2072L1880.3 2072L1886.3 2072L1892.3 2072L1898.3 2072L1904.3 2072L1910.3 2072L1916.3 2072L1922.3 2072L1928.3 2072L1934.3 2072L1940.3 2072L1946.3 2072L1952.3 2072L1958.3 2072L1964.3 2072L1970.3 2072L1976.3 2072L1982.3 2072L1988.3 2072L1994.3 2072L2000.3 2072L2006.3 2072L2012.3 2072L2018.3 2072L2018.3 2075.5L236.3 2075.5Z" fill="url(#gb2)"/>
<path d="M236.3 2072L242.3 2072L248.3 2072L254.3 2072L260.3 2072L266.3 2072L272.3 2072L278.3 2072L284.3 2072L290.3 2072L296.3 2072L302.3 2072L308.3 2072L314.3 2072L320.3 2072L326.3 2072L332.3 2072L338.3 2072L344.3 2072L350.3 2072L356.3 2072L362.3 2072L368.3 2072L374.3 2072L380.3 2072L386.3 2072L392.3 2072L398.3 2072L404.3 2072L410.3 2072L416.3 2072L422.3 2072L428.3 2072L434.3 2071.9L440.3 2071.9L446.3 2071.9L452.3 2071.9L458.3 2071.8L464.3 2071.8L470.3 2071.7L476.3 2071.6L482.3 2071.5L488.3 2071.4L494.3 2071.2L500.3 2071L506.3 2070.7L512.3 2070.3L518.3 2069.9L524.3 2069.4L530.3 2068.7L536.3 2068L542.3 2067L548.3 2065.8L554.3 2064.5L560.3 2062.8L566.3 2060.9L572.3 2058.6L578.3 2055.9L584.3 2052.7L590.3 2049.1L596.3 2044.8L602.3 2040L608.3 2034.5L614.3 2028.2L620.3 2021.1L626.3 2013.1L632.3 2004.2L638.3 1994.4L644.3 1983.5L650.3 1971.6L656.3 1958.7L662.3 1944.6L668.3 1929.6L674.3 1913.4L680.3 1896.3L686.3 1878.3L692.3 1859.5L698.3 1839.9L704.3 1819.7L710.3 1799.1L716.3 1778.1L722.3 1757.1L728.3 1736.2L734.3 1715.5L740.3 1695.4L746.3 1676.1L752.3 1657.7L758.3 1640.6L764.3 1624.8L770.3 1610.7L776.3 1598.4L782.3 1588.1L788.3 1579.9L794.3 1573.9L800.3 1570.3L806.3 1569L812.3 1570.1L818.3 1573.5L824.3 1579.2L830.3 1587.1L836.3 1597L842.3 1608.9L848.3 1622.7L854.3 1638L860.3 1654.7L866.3 1672.7L872.3 1691.7L878.3 1711.4L884.3 1731.7L890.3 1752.4L896.3 1773.2L902.3 1793.9L908.3 1814.4L914.3 1834.5L920.3 1854L926.3 1872.9L932.3 1890.9L938.3 1908.1L944.3 1924.4L950.3 1939.6L956.3 1953.9L962.3 1967.1L968.3 1979.2L974.3 1990.3L980.3 2000.5L986.3 2009.6L992.3 2017.9L998.3 2025.2L1004.3 2031.8L1010.3 2037.6L1016.3 2042.7L1022.3 2047.1L1028.3 2051L1034.3 2054.4L1040.3 2057.2L1046.3 2059.7L1052.3 2061.8L1058.3 2063.6L1064.3 2065.1L1070.3 2066.4L1076.3 2067.4L1082.3 2068.3L1088.3 2069L1094.3 2069.6L1100.3 2070.1L1106.3 2070.5L1112.3 2070.8L1118.3 2071.1L1124.3 2071.3L1130.3 2071.4L1136.3 2071.6L1142.3 2071.7L1148.3 2071.7L1154.3 2071.8L1160.3 2071.8L1166.3 2071.9L1172.3 2071.9L1178.3 2071.9L1184.3 2071.9L1190.3 2072L1196.3 2072L1202.3 2072L1208.3 2072L1214.3 2072L1220.3 2072L1226.3 2072L1232.3 2072L1238.3 2072L1244.3 2072L1250.3 2072L1256.3 2072L1262.3 2072L1268.3 2072L1274.3 2072L1280.3 2072L1286.3 2072L1292.3 2072L1298.3 2072L1304.3 2072L1310.3 2072L1316.3 2072L1322.3 2072L1328.3 2072L1334.3 2072L1340.3 2072L1346.3 2072L1352.3 2072L1358.3 2072L1364.3 2072L1370.3 2072L1376.3 2072L1382.3 2072L1388.3 2072L1394.3 2072L1400.3 2072L1406.3 2072L1412.3 2072L1418.3 2072L1424.3 2072L1430.3 2072L1436.3 2072L1442.3 2072L1448.3 2072L1454.3 2072L1460.3 2072L1466.3 2072L1472.3 2072L1478.3 2072L1484.3 2072L1490.3 2072L1496.3 2072L1502.3 2072L1508.3 2072L1514.3 2072L1520.3 2072L1526.3 2072L1532.3 2072L1538.3 2072L1544.3 2072L1550.3 2072L1556.3 2072L1562.3 2072L1568.3 2072L1574.3 2072L1580.3 2072L1586.3 2072L1592.3 2072L1598.3 2072L1604.3 2072L1610.3 2072L1616.3 2072L1622.3 2072L1628.3 2072L1634.3 2072L1640.3 2072L1646.3 2072L1652.3 2072L1658.3 2072L1664.3 2072L1670.3 2072L1676.3 2072L1682.3 2072L1688.3 2072L1694.3 2072L1700.3 2072L1706.3 2072L1712.3 2072L1718.3 2072L1724.3 2072L1730.3 2072L1736.3 2072L1742.3 2072L1748.3 2072L1754.3 2072L1760.3 2072L1766.3 2072L1772.3 2072L1778.3 2072L1784.3 2072L1790.3 2072L1796.3 2072L1802.3 2072L1808.3 2072L1814.3 2072L1820.3 2072L1826.3 2072L1832.3 2072L1838.3 2072L1844.3 2072L1850.3 2072L1856.3 2072L1862.3 2072L1868.3 2072L1874.3 2072L1880.3 2072L1886.3 2072L1892.3 2072L1898.3 2072L1904.3 2072L1910.3 2072L1916.3 2072L1922.3 2072L1928.3 2072L1934.3 2072L1940.3 2072L1946.3 2072L1952.3 2072L1958.3 2072L1964.3 2072L1970.3 2072L1976.3 2072L1982.3 2072L1988.3 2072L1994.3 2072L2000.3 2072L2006.3 2072L2012.3 2072L2018.3 2072" fill="none" stroke="#ff007f" stroke-width="9.5" stroke-linejoin="round" />
<path d="M236.3 2072L242.3 2072L248.3 2072L254.3 2072L260.3 2072L266.3 2072L272.3 2072L278.3 2072L284.3 2072L290.3 2072L296.3 2072L302.3 2072L308.3 2072L314.3 2072L320.3 2072L326.3 2072L332.3 2072L338.3 2072L344.3 2072L350.3 2072L356.3 2072L362.3 2072L368.3 2072L374.3 2072L380.3 2072L386.3 2072L392.3 2072L398.3 2072L404.3 2072L410.3 2072L416.3 2072L422.3 2072L428.3 2072L434.3 2071.9L440.3 2071.9L446.3 2071.9L452.3 2071.9L458.3 2071.8L464.3 2071.8L470.3 2071.7L476.3 2071.6L482.3 2071.5L488.3 2071.4L494.3 2071.2L500.3 2071L506.3 2070.7L512.3 2070.3L518.3 2069.9L524.3 2069.4L530.3 2068.7L536.3 2068L542.3 2067L548.3 2065.8L554.3 2064.5L560.3 2062.8L566.3 2060.9L572.3 2058.6L578.3 2055.9L584.3 2052.7L590.3 2049.1L596.3 2044.8L602.3 2040L608.3 2034.5L614.3 2028.2L620.3 2021.1L626.3 2013.1L632.3 2004.2L638.3 1994.4L644.3 1983.5L650.3 1971.6L656.3 1958.7L662.3 1944.6L668.3 1929.6L674.3 1913.4L680.3 1896.3L686.3 1878.3L692.3 1859.5L698.3 1839.9L704.3 1819.7L710.3 1799.1L716.3 1778.1L722.3 1757.1L728.3 1736.2L734.3 1715.5L740.3 1695.4L746.3 1676.1L752.3 1657.7L758.3 1640.5L764.3 1624.8L770.3 1610.7L776.3 1598.4L782.3 1588L788.3 1579.8L794.3 1573.9L800.3 1570.2L806.3 1568.9L812.3 1570L818.3 1573.4L824.3 1579L830.3 1586.9L836.3 1596.8L842.3 1608.7L848.3 1622.3L854.3 1637.6L860.3 1654.3L866.3 1672.1L872.3 1691L878.3 1710.6L884.3 1730.8L890.3 1751.3L896.3 1771.9L902.3 1792.4L908.3 1812.7L914.3 1832.5L920.3 1851.8L926.3 1870.3L932.3 1888L938.3 1904.7L944.3 1920.5L950.3 1935.2L956.3 1948.8L962.3 1961.3L968.3 1972.7L974.3 1983L980.3 1992.2L986.3 2000.4L992.3 2007.5L998.3 2013.6L1004.3 2018.9L1010.3 2023.2L1016.3 2026.7L1022.3 2029.5L1028.3 2031.5L1034.3 2032.9L1040.3 2033.7L1046.3 2033.9L1052.3 2033.6L1058.3 2032.8L1064.3 2031.6L1070.3 2030L1076.3 2028.1L1082.3 2025.8L1088.3 2023.3L1094.3 2020.5L1100.3 2017.4L1106.3 2014.2L1112.3 2010.8L1118.3 2007.3L1124.3 2003.6L1130.3 1999.8L1136.3 1996L1142.3 1992.1L1148.3 1988.1L1154.3 1984.2L1160.3 1980.3L1166.3 1976.5L1172.3 1972.7L1178.3 1969L1184.3 1965.5L1190.3 1962.1L1196.3 1958.9L1202.3 1955.8L1208.3 1953L1214.3 1950.4L1220.3 1948.1L1226.3 1946L1232.3 1944.2L1238.3 1942.8L1244.3 1941.6L1250.3 1940.7L1256.3 1940.2L1262.3 1940L1268.3 1940.1L1274.3 1940.6L1280.3 1941.4L1286.3 1942.5L1292.3 1943.9L1298.3 1945.7L1304.3 1947.7L1310.3 1950L1316.3 1952.6L1322.3 1955.4L1328.3 1958.4L1334.3 1961.7L1340.3 1965.1L1346.3 1968.7L1352.3 1972.4L1358.3 1976.2L1364.3 1980.1L1370.3 1984.1L1376.3 1988.1L1382.3 1992.1L1388.3 1996.2L1394.3 2000.2L1400.3 2004.2L1406.3 2008.1L1412.3 2011.9L1418.3 2015.7L1424.3 2019.3L1430.3 2022.9L1436.3 2026.3L1442.3 2029.6L1448.3 2032.7L1454.3 2035.7L1460.3 2038.6L1466.3 2041.3L1472.3 2043.9L1478.3 2046.3L1484.3 2048.6L1490.3 2050.7L1496.3 2052.7L1502.3 2054.5L1508.3 2056.2L1514.3 2057.8L1520.3 2059.3L1526.3 2060.6L1532.3 2061.8L1538.3 2062.9L1544.3 2063.9L1550.3 2064.8L1556.3 2065.7L1562.3 2066.4L1568.3 2067.1L1574.3 2067.7L1580.3 2068.2L1586.3 2068.7L1592.3 2069.1L1598.3 2069.5L1604.3 2069.8L1610.3 2070.1L1616.3 2070.4L1622.3 2070.6L1628.3 2070.8L1634.3 2071L1640.3 2071.1L1646.3 2071.3L1652.3 2071.4L1658.3 2071.5L1664.3 2071.6L1670.3 2071.6L1676.3 2071.7L1682.3 2071.7L1688.3 2071.8L1694.3 2071.8L1700.3 2071.8L1706.3 2071.9L1712.3 2071.9L1718.3 2071.9L1724.3 2071.9L1730.3 2071.9L1736.3 2072L1742.3 2072L1748.3 2072L1754.3 2072L1760.3 2072L1766.3 2072L1772.3 2072L1778.3 2072L1784.3 2072L1790.3 2072L1796.3 2072L1802.3 2072L1808.3 2072L1814.3 2072L1820.3 2072L1826.3 2072L1832.3 2072L1838.3 2072L1844.3 2072L1850.3 2072L1856.3 2072L1862.3 2072L1868.3 2072L1874.3 2072L1880.3 2072L1886.3 2072L1892.3 2072L1898.3 2072L1904.3 2072L1910.3 2072L1916.3 2072L1922.3 2072L1928.3 2072L1934.3 2072L1940.3 2072L1946.3 2072L1952.3 2072L1958.3 2072L1964.3 2072L1970.3 2072L1976.3 2072L1982.3 2072L1988.3 2072L1994.3 2072L2000.3 2072L2006.3 2072L2012.3 2072L2018.3 2072" fill="none" stroke="#0000ff" stroke-width="10.0" stroke-linejoin="round" />
<rect x="236.3" y="2075.3" width="1780.5" height="19.7" fill="#fff"/>
<path d="M236.3 2623.1L242.3 2625.6L248.3 2628L254.3 2630.5L260.3 2633L262 2633.7L266.3 2632.8L272.3 2631.6L278.3 2630.3L284.3 2629.1L290.3 2627.9L296.3 2626.6L299 2626.1L302.3 2626.7L308.3 2627.8L314.3 2628.9L319 2629.7L320.3 2629.2L326.3 2626.6L331.5 2624.4L332.3 2625.3L338.3 2632.1L344.3 2638.8L346 2640.7L350.3 2638.6L356.3 2635.6L361 2633.3L362.3 2633.3L368.3 2633.1L374.3 2632.9L380.3 2632.7L383.5 2632.6L386.3 2630.8L392.3 2626.9L398.3 2623.1L404.3 2619.2L405.7 2618.3L410.3 2620.1L416.3 2622.5L422.3 2624.9L425.5 2626.1L428.3 2626L434.3 2625.7L438 2625.5L440.3 2624.4L446.3 2621.4L452.3 2618.3L452.8 2618.1L458.3 2619.2L464.3 2620.5L467.6 2621.2L470.3 2621.2L476.3 2621.3L482 2621.3L482.3 2621.3L488.3 2620.9L494.3 2620.4L500.3 2620L506.3 2619.9L512.3 2619.8L518.3 2619.6L524.3 2619.4L530.3 2619.1L536.3 2618.8L542.3 2618.4L548.3 2618L554.3 2617.5L560.3 2616.9L566.3 2616.1L572.3 2615.3L578.3 2614.3L584.3 2613.3L590.3 2612.1L596.3 2610.8L602.3 2609.1L608.3 2606.8L614.3 2604.4L620.3 2601.8L626.3 2599L632.3 2596.1L638.3 2593L644.3 2588.3L650.3 2582.8L656.3 2577L662.3 2572.4L668.3 2569.8L674.3 2566.8L680.3 2563.6L686.3 2560.1L692.3 2556.2L698.3 2552L704.3 2546.7L710.3 2540.7L716.3 2534.3L722.3 2527.6L728.3 2520.5L734.3 2513.1L740.3 2505.3L746.3 2496.9L752.3 2488.2L758.3 2479.1L764.3 2469.6L770.3 2459.7L776.3 2449.5L782.3 2438.7L788.3 2427.1L794.3 2415.1L809.7 2387L834.5 2332.7L859 2263.4L874 2243.6L893.9 2189L911 2166.8L928.5 2179L941 2120.8L953 2169L983 2144.6L1012.7 2154.5L1032.5 2157L1047 2179L1059.7 2256L1077 2251L1101.8 2278L1121.6 2327.7L1156 2335L1181 2360L1200.8 2352.5L1238 2387L1267.6 2335L1282.5 2347.5L1297.3 2317.8L1314.7 2335L1329.5 2337.6L1369 2357.4L1400 2378L1423 2392L1432 2396L1450 2428L1468 2446L1490.5 2482L1508.5 2486.5L1540 2554L1575 2585L1612 2612.5L1648 2635L1666 2639.6L1693 2664L1720 2667L1750 2668.5L1785 2670L1814.3 2671.7L1820.3 2672.4L1826.3 2673L1832.3 2673.7L1838.3 2674.3L1844.3 2674.8L1850.3 2675.3L1856.3 2675.9L1862.3 2676.3L1868.3 2676.8L1874.3 2677.2L1880.3 2677.7L1886.3 2678L1892.3 2678.4L1898.3 2678.8L1900 2678.9L1904.3 2679.9L1910.3 2681.2L1915 2682.2L1916.3 2681.9L1922.3 2680.6L1928.3 2679.2L1934.3 2677.8L1935 2677.7L1940.3 2678L1946.3 2678.4L1952.3 2678.7L1958.3 2679.1L1964.3 2679.4L1964.8 2679.4L1970.3 2682.6L1976.3 2686L1979.6 2687.9L1982.3 2687.6L1988.3 2686.7L1994.3 2685.8L1999.4 2685.1L2000.3 2685.1L2006.3 2685.4L2012.3 2685.7L2018.3 2686" fill="none" stroke="#000" stroke-width="5.0" stroke-linejoin="round" />
<path d="M236.3 2629.5L242.3 2632L248.3 2634.6L254.3 2637.2L260.3 2639.7L262 2640.5L266.3 2639.7L272.3 2638.6L278.3 2637.5L284.3 2636.4L290.3 2635.3L296.3 2634.2L299 2633.7L302.3 2634.4L308.3 2635.6L314.3 2636.8L319 2637.8L320.3 2637.3L326.3 2634.9L331.5 2632.9L332.3 2633.8L338.3 2640.7L344.3 2647.6L346 2649.5L350.3 2647.6L356.3 2644.8L361 2642.6L362.3 2642.6L368.3 2642.7L374.3 2642.7L380.3 2642.7L383.5 2642.7L386.3 2641L392.3 2637.4L398.3 2633.8L404.3 2630.1L405.7 2629.3L410.3 2631.3L416.3 2634L422.3 2636.6L425.5 2638.1L428.3 2638.1L434.3 2638.1L438 2638.1L440.3 2637.1L446.3 2634.4L452.3 2631.7L452.8 2631.5L458.3 2633L464.3 2634.6L467.6 2635.6L470.3 2635.8L476.3 2636.3L482 2636.7L482.3 2636.7L488.3 2636.8L494.3 2636.9L500.3 2637L506.3 2637.1L512.3 2637.1L518.3 2637.2L524.3 2637.3L530.3 2637.3L536.3 2637.4L542.3 2637.5L548.3 2637.6L554.3 2637.6L560.3 2637.7L566.3 2637.8L572.3 2637.9L578.3 2637.9L584.3 2638L590.3 2638.1L596.3 2638.1L602.3 2638.2L608.3 2638.3L614.3 2638.3L620.3 2638.4L626.3 2638.5L632.3 2638.6L638.3 2638.7L644.3 2638.9L650.3 2639L656.3 2639.1L662.3 2639.3L668.3 2639.4L674.3 2639.5L680.3 2639.6L686.3 2639.8L692.3 2639.9L698.3 2640L704.3 2640.1L710.3 2640.3L716.3 2640.4L722.3 2640.5L728.3 2640.6L734.3 2640.8L740.3 2641L746.3 2641.2L752.3 2641.4L758.3 2641.5L764.3 2641.7L770.3 2641.9L776.3 2642L782.3 2642.2L788.3 2642.3L794.3 2642.5L800.3 2642.6L806.3 2642.8L812.3 2642.9L818.3 2643L824.3 2643.1L830.3 2643.3L836.3 2643.5L842.3 2643.7L848.3 2644L854.3 2644.2L860.3 2644.3L866.3 2644.5L872.3 2644.7L878.3 2644.8L884.3 2644.9L890.3 2645L896.3 2645.1L902.3 2645.1L908.3 2645.1L914.3 2645.1L920.3 2645L926.3 2644.9L932.3 2644.8L938.3 2644.7L944.3 2644.4L950.3 2644.2L956.3 2643.8L962.3 2643.4L968.3 2642.9L974.3 2642.4L980.3 2641.7L986.3 2641L992.3 2640.2L998.3 2639.2L1004.3 2638.3L1010.3 2637.2L1016.3 2636.1L1022.3 2634.8L1028.3 2633.4L1034.3 2631.9L1040.3 2630.2L1046.3 2628.3L1052.3 2626.3L1058.3 2624.2L1064.3 2621.9L1070.3 2619.4L1076.3 2616.8L1082.3 2613.9L1088.3 2610.9L1094.3 2607.7L1100.3 2604.3L1106.3 2600.8L1112.3 2597L1118.3 2593.1L1124.3 2589.1L1130.3 2584.9L1136.3 2580.5L1142.3 2575.9L1148.3 2571.3L1154.3 2566.3L1160.3 2561.2L1166.3 2556L1172.3 2550.8L1178.3 2545.4L1184.3 2539.9L1190.3 2534.4L1196.3 2528.9L1202.3 2523.3L1208.3 2517.8L1214.3 2512.2L1220.3 2506.7L1226.3 2501.2L1232.3 2495.8L1238.3 2490.5L1244.3 2485.3L1250.3 2480.3L1256.3 2475.4L1262.3 2470.8L1268.3 2466.4L1274.3 2462.2L1280.3 2458.4L1286.3 2454.8L1292.3 2451.6L1298.3 2448.7L1304.3 2446.2L1310.3 2444L1316.3 2442.3L1322.3 2441L1328.3 2440.1L1334.3 2439.6L1340.3 2439.6L1346.3 2439.9L1352.3 2440.7L1358.3 2441.9L1364.3 2443.4L1370.3 2445.3L1376.3 2447.6L1382.3 2450.2L1388.3 2453.1L1394.3 2456.4L1400.3 2460L1406.3 2463.9L1412.3 2468L1418.3 2472.4L1424.3 2477L1430.3 2481.9L1436.3 2486.9L1442.3 2492.1L1448.3 2497.4L1454.3 2502.7L1460.3 2508.2L1466.3 2513.8L1472.3 2519.4L1478.3 2525.1L1484.3 2530.8L1490.3 2536.6L1496.3 2542.3L1502.3 2548L1508.3 2553.7L1514.3 2559.3L1520.3 2564.9L1526.3 2570.4L1532.3 2575.8L1538.3 2581.1L1544.3 2586.3L1550.3 2591.4L1556.3 2596.3L1562.3 2601.1L1568.3 2605.8L1574.3 2610.4L1580.3 2614.8L1586.3 2619L1592.3 2623.1L1598.3 2627L1604.3 2630.7L1610.3 2634.2L1616.3 2637.6L1622.3 2640.8L1628.3 2643.8L1634.3 2646.7L1640.3 2649.5L1646.3 2652.1L1652.3 2654.6L1658.3 2656.9L1664.3 2659.1L1670.3 2661.2L1676.3 2663.1L1682.3 2665L1688.3 2666.7L1694.3 2668.3L1700.3 2669.8L1706.3 2671.2L1712.3 2672.5L1718.3 2673.7L1724.3 2674.8L1730.3 2675.9L1736.3 2676.9L1742.3 2677.8L1748.3 2678.6L1754.3 2679.4L1760.3 2680.1L1766.3 2680.7L1772.3 2681.3L1778.3 2681.9L1784.3 2682.4L1790.3 2682.8L1796.3 2683.3L1802.3 2683.6L1808.3 2684L1814.3 2684.3L1820.3 2684.6L1826.3 2684.9L1832.3 2685.2L1838.3 2685.4L1844.3 2685.6L1850.3 2685.8L1856.3 2686L1862.3 2686.2L1868.3 2686.4L1874.3 2686.5L1880.3 2686.7L1886.3 2686.8L1892.3 2686.9L1898.3 2687.1L1900 2687.1L1904.3 2687.9L1910.3 2689L1915 2689.9L1916.3 2689.5L1922.3 2688L1928.3 2686.4L1934.3 2684.8L1935 2684.7L1940.3 2684.8L1946.3 2685L1952.3 2685.2L1958.3 2685.4L1964.3 2685.5L1964.8 2685.5L1970.3 2688.6L1976.3 2691.9L1979.6 2693.7L1982.3 2693.3L1988.3 2692.3L1994.3 2691.3L1999.4 2690.4L2000.3 2690.4L2006.3 2690.6L2012.3 2690.8L2018.3 2691L2018.3 2692.9L2012.3 2692.7L2006.3 2692.6L2000.3 2692.5L1999.4 2692.4L1994.3 2693.3L1988.3 2694.4L1982.3 2695.4L1979.6 2695.9L1976.3 2694.1L1970.3 2690.8L1964.8 2687.8L1964.3 2687.8L1958.3 2687.7L1952.3 2687.6L1946.3 2687.4L1940.3 2687.3L1935 2687.2L1934.3 2687.4L1928.3 2689L1922.3 2690.6L1916.3 2692.3L1915 2692.6L1910.3 2691.8L1904.3 2690.8L1900 2690.1L1898.3 2690.1L1892.3 2690L1886.3 2690L1880.3 2690L1874.3 2690L1868.3 2689.9L1862.3 2689.9L1856.3 2689.9L1850.3 2689.9L1844.3 2689.9L1838.3 2689.8L1832.3 2689.8L1826.3 2689.8L1820.3 2689.8L1814.3 2689.7L1808.3 2689.7L1802.3 2689.7L1796.3 2689.7L1790.3 2689.7L1784.3 2689.6L1778.3 2689.6L1772.3 2689.6L1766.3 2689.6L1760.3 2689.5L1754.3 2689.5L1748.3 2689.5L1742.3 2689.4L1736.3 2689.4L1730.3 2689.3L1724.3 2689.2L1718.3 2689.2L1712.3 2689.1L1706.3 2689.1L1700.3 2689L1694.3 2688.9L1688.3 2688.9L1682.3 2688.8L1676.3 2688.8L1670.3 2688.7L1664.3 2688.6L1658.3 2688.6L1652.3 2688.5L1646.3 2688.5L1640.3 2688.4L1634.3 2688.3L1628.3 2688.3L1622.3 2688.2L1616.3 2688.2L1610.3 2688.1L1604.3 2688L1598.3 2688L1592.3 2687.8L1586.3 2687.6L1580.3 2687.5L1574.3 2687.3L1568.3 2687.1L1562.3 2687L1556.3 2686.8L1550.3 2686.6L1544.3 2686.4L1538.3 2686.3L1532.3 2686.1L1526.3 2685.9L1520.3 2685.8L1514.3 2685.6L1508.3 2685.4L1502.3 2685.3L1496.3 2685.1L1490.3 2684.9L1484.3 2684.8L1478.3 2684.6L1472.3 2684.4L1466.3 2684.3L1460.3 2684.1L1454.3 2683.9L1448.3 2683.8L1442.3 2683.6L1436.3 2683.3L1430.3 2683L1424.3 2682.7L1418.3 2682.5L1412.3 2682.2L1406.3 2681.9L1400.3 2681.7L1394.3 2681.4L1388.3 2681.1L1382.3 2680.8L1376.3 2680.6L1370.3 2680.3L1364.3 2680L1358.3 2679.8L1352.3 2679.5L1346.3 2679.2L1340.3 2679L1334.3 2678.7L1328.3 2678.4L1322.3 2678.1L1316.3 2677.9L1310.3 2677.6L1304.3 2677.3L1298.3 2677.1L1292.3 2676.8L1286.3 2676.6L1280.3 2676.3L1274.3 2676.1L1268.3 2675.8L1262.3 2675.6L1256.3 2675.3L1250.3 2675.1L1244.3 2674.8L1238.3 2674.6L1232.3 2674.3L1226.3 2674.1L1220.3 2673.8L1214.3 2673.5L1208.3 2673.1L1202.3 2672.8L1196.3 2672.5L1190.3 2672.1L1184.3 2671.8L1178.3 2671.5L1172.3 2671.1L1166.3 2670.8L1160.3 2670.5L1154.3 2670.1L1148.3 2669.8L1142.3 2669.3L1136.3 2668.8L1130.3 2668.4L1124.3 2667.9L1118.3 2667.4L1112.3 2666.9L1106.3 2666.5L1100.3 2666L1094.3 2665.5L1088.3 2665L1082.3 2664.6L1076.3 2664.1L1070.3 2663.6L1064.3 2663.1L1058.3 2662.6L1052.3 2662L1046.3 2661.5L1040.3 2661L1034.3 2660.5L1028.3 2660L1022.3 2659.4L1016.3 2658.9L1010.3 2658.4L1004.3 2657.9L998.3 2657.4L992.3 2657L986.3 2656.6L980.3 2656.1L974.3 2655.7L968.3 2655.3L962.3 2654.9L956.3 2654.5L950.3 2654.1L944.3 2653.7L938.3 2653.3L932.3 2652.8L926.3 2652.4L920.3 2652L914.3 2651.7L908.3 2651.3L902.3 2650.9L896.3 2650.6L890.3 2650.2L884.3 2649.8L878.3 2649.5L872.3 2649.1L866.3 2648.7L860.3 2648.4L854.3 2648L848.3 2647.6L842.3 2647.3L836.3 2646.9L830.3 2646.5L824.3 2646.3L818.3 2646.1L812.3 2645.8L806.3 2645.6L800.3 2645.4L794.3 2645.2L788.3 2645L782.3 2644.7L776.3 2644.5L770.3 2644.3L764.3 2644.1L758.3 2643.8L752.3 2643.6L746.3 2643.4L740.3 2643.2L734.3 2642.9L728.3 2642.7L722.3 2642.5L716.3 2642.4L710.3 2642.2L704.3 2642.1L698.3 2641.9L692.3 2641.7L686.3 2641.6L680.3 2641.4L674.3 2641.3L668.3 2641.1L662.3 2641L656.3 2640.8L650.3 2640.6L644.3 2640.5L638.3 2640.3L632.3 2640.2L626.3 2640L620.3 2639.9L614.3 2639.8L608.3 2639.7L602.3 2639.6L596.3 2639.6L590.3 2639.5L584.3 2639.4L578.3 2639.3L572.3 2639.2L566.3 2639.1L560.3 2639L554.3 2638.9L548.3 2638.8L542.3 2638.7L536.3 2638.6L530.3 2638.6L524.3 2638.5L518.3 2638.4L512.3 2638.3L506.3 2638.2L500.3 2638.1L494.3 2638L488.3 2637.9L482.3 2637.8L482 2637.8L476.3 2637.3L470.3 2636.8L467.6 2636.6L464.3 2635.7L458.3 2634L452.8 2632.5L452.3 2632.7L446.3 2635.4L440.3 2638.1L438 2639.1L434.3 2639.1L428.3 2639L425.5 2639L422.3 2637.6L416.3 2634.9L410.3 2632.2L405.7 2630.2L404.3 2631L398.3 2634.7L392.3 2638.3L386.3 2641.9L383.5 2643.6L380.3 2643.6L374.3 2643.6L368.3 2643.5L362.3 2643.5L361 2643.5L356.3 2645.6L350.3 2648.4L346 2650.4L344.3 2648.4L338.3 2641.5L332.3 2634.6L331.5 2633.7L326.3 2635.7L320.3 2638.1L319 2638.6L314.3 2637.6L308.3 2636.4L302.3 2635.1L299 2634.4L296.3 2634.9L290.3 2636L284.3 2637.1L278.3 2638.2L272.3 2639.3L266.3 2640.4L262 2641.2L260.3 2640.4L254.3 2637.9L248.3 2635.3L242.3 2632.7L236.3 2630.1Z" fill="url(#gb3)"/>
<path d="M236.3 2629.5L242.3 2632L248.3 2634.6L254.3 2637.2L260.3 2639.7L262 2640.5L266.3 2639.7L272.3 2638.6L278.3 2637.5L284.3 2636.4L290.3 2635.3L296.3 2634.2L299 2633.7L302.3 2634.4L308.3 2635.6L314.3 2636.8L319 2637.8L320.3 2637.3L326.3 2634.9L331.5 2632.9L332.3 2633.8L338.3 2640.7L344.3 2647.6L346 2649.5L350.3 2647.6L356.3 2644.8L361 2642.6L362.3 2642.6L368.3 2642.7L374.3 2642.7L380.3 2642.7L383.5 2642.7L386.3 2641L392.3 2637.4L398.3 2633.8L404.3 2630.1L405.7 2629.3L410.3 2631.3L416.3 2634L422.3 2636.6L425.5 2638.1L428.3 2638.1L434.3 2638.1L438 2638.1L440.3 2637.1L446.3 2634.4L452.3 2631.7L452.8 2631.5L458.3 2633L464.3 2634.6L467.6 2635.6L470.3 2635.8L476.3 2636.3L482 2636.7L482.3 2636.7L488.3 2636.8L494.3 2636.9L500.3 2637L506.3 2637.1L512.3 2637.1L518.3 2637.2L524.3 2637.3L530.3 2637.3L536.3 2637.4L542.3 2637.5L548.3 2637.6L554.3 2637.6L560.3 2637.7L566.3 2637.8L572.3 2637.9L578.3 2637.9L584.3 2638L590.3 2638.1L596.3 2638.1L602.3 2638.2L608.3 2638.3L614.3 2638.3L620.3 2638.4L626.3 2638.5L632.3 2638.6L638.3 2638.7L644.3 2638.9L650.3 2639L656.3 2639.1L662.3 2639.3L668.3 2639.4L674.3 2639.5L680.3 2639.6L686.3 2639.8L692.3 2639.9L698.3 2640L704.3 2640.1L710.3 2640.3L716.3 2640.4L722.3 2640.5L728.3 2640.6L734.3 2640.8L740.3 2641L746.3 2641.2L752.3 2641.4L758.3 2641.5L764.3 2641.7L770.3 2641.9L776.3 2642L782.3 2642.2L788.3 2642.3L794.3 2642.5L800.3 2642.6L806.3 2642.8L812.3 2642.9L818.3 2643L824.3 2643.1L830.3 2643.3L836.3 2643.5L842.3 2643.7L848.3 2644L854.3 2644.2L860.3 2644.3L866.3 2644.5L872.3 2644.7L878.3 2644.8L884.3 2644.9L890.3 2645L896.3 2645.1L902.3 2645.1L908.3 2645.1L914.3 2645.1L920.3 2645L926.3 2644.9L932.3 2644.8L938.3 2644.7L944.3 2644.4L950.3 2644.2L956.3 2643.8L962.3 2643.4L968.3 2642.9L974.3 2642.4L980.3 2641.7L986.3 2641L992.3 2640.2L998.3 2639.2L1004.3 2638.3L1010.3 2637.2L1016.3 2636.1L1022.3 2634.8L1028.3 2633.4L1034.3 2631.9L1040.3 2630.2L1046.3 2628.3L1052.3 2626.3L1058.3 2624.2L1064.3 2621.9L1070.3 2619.4L1076.3 2616.8L1082.3 2613.9L1088.3 2610.9L1094.3 2607.7L1100.3 2604.3L1106.3 2600.8L1112.3 2597L1118.3 2593.1L1124.3 2589.1L1130.3 2584.9L1136.3 2580.5L1142.3 2575.9L1148.3 2571.3L1154.3 2566.3L1160.3 2561.2L1166.3 2556L1172.3 2550.8L1178.3 2545.4L1184.3 2539.9L1190.3 2534.4L1196.3 2528.9L1202.3 2523.3L1208.3 2517.8L1214.3 2512.2L1220.3 2506.7L1226.3 2501.2L1232.3 2495.8L1238.3 2490.5L1244.3 2485.3L1250.3 2480.3L1256.3 2475.4L1262.3 2470.8L1268.3 2466.4L1274.3 2462.2L1280.3 2458.4L1286.3 2454.8L1292.3 2451.6L1298.3 2448.7L1304.3 2446.2L1310.3 2444L1316.3 2442.3L1322.3 2441L1328.3 2440.1L1334.3 2439.6L1340.3 2439.6L1346.3 2439.9L1352.3 2440.7L1358.3 2441.9L1364.3 2443.4L1370.3 2445.3L1376.3 2447.6L1382.3 2450.2L1388.3 2453.1L1394.3 2456.4L1400.3 2460L1406.3 2463.9L1412.3 2468L1418.3 2472.4L1424.3 2477L1430.3 2481.9L1436.3 2486.9L1442.3 2492.1L1448.3 2497.4L1454.3 2502.7L1460.3 2508.2L1466.3 2513.8L1472.3 2519.4L1478.3 2525.1L1484.3 2530.8L1490.3 2536.6L1496.3 2542.3L1502.3 2548L1508.3 2553.7L1514.3 2559.3L1520.3 2564.9L1526.3 2570.4L1532.3 2575.8L1538.3 2581.1L1544.3 2586.3L1550.3 2591.4L1556.3 2596.3L1562.3 2601.1L1568.3 2605.8L1574.3 2610.4L1580.3 2614.8L1586.3 2619L1592.3 2623.1L1598.3 2627L1604.3 2630.7L1610.3 2634.2L1616.3 2637.6L1622.3 2640.8L1628.3 2643.8L1634.3 2646.7L1640.3 2649.5L1646.3 2652.1L1652.3 2654.6L1658.3 2656.9L1664.3 2659.1L1670.3 2661.2L1676.3 2663.1L1682.3 2665L1688.3 2666.7L1694.3 2668.3L1700.3 2669.8L1706.3 2671.2L1712.3 2672.5L1718.3 2673.7L1724.3 2674.8L1730.3 2675.9L1736.3 2676.9L1742.3 2677.8L1748.3 2678.6L1754.3 2679.4L1760.3 2680.1L1766.3 2680.7L1772.3 2681.3L1778.3 2681.9L1784.3 2682.4L1790.3 2682.8L1796.3 2683.3L1802.3 2683.6L1808.3 2684L1814.3 2684.3L1820.3 2684.6L1826.3 2684.9L1832.3 2685.2L1838.3 2685.4L1844.3 2685.6L1850.3 2685.8L1856.3 2686L1862.3 2686.2L1868.3 2686.4L1874.3 2686.5L1880.3 2686.7L1886.3 2686.8L1892.3 2686.9L1898.3 2687.1L1900 2687.1L1904.3 2687.9L1910.3 2689L1915 2689.9L1916.3 2689.5L1922.3 2688L1928.3 2686.4L1934.3 2684.8L1935 2684.7L1940.3 2684.8L1946.3 2685L1952.3 2685.2L1958.3 2685.4L1964.3 2685.5L1964.8 2685.5L1970.3 2688.6L1976.3 2691.9L1979.6 2693.7L1982.3 2693.3L1988.3 2692.3L1994.3 2691.3L1999.4 2690.4L2000.3 2690.4L2006.3 2690.6L2012.3 2690.8L2018.3 2691" fill="none" stroke="#7f00ff" stroke-width="9.0" stroke-linejoin="round" />
<path d="M236.3 2624.8L242.3 2627.3L248.3 2629.8L254.3 2632.3L260.3 2634.8L262 2635.5L266.3 2634.7L272.3 2633.5L278.3 2632.3L284.3 2631.1L290.3 2629.9L296.3 2628.7L299 2628.1L302.3 2628.8L308.3 2629.9L314.3 2631L319 2631.9L320.3 2631.4L326.3 2628.9L331.5 2626.7L332.3 2627.6L338.3 2634.4L344.3 2641.2L346 2643.1L350.3 2641L356.3 2638.1L361 2635.9L362.3 2635.9L368.3 2635.7L374.3 2635.6L380.3 2635.5L383.5 2635.5L386.3 2633.7L392.3 2629.9L398.3 2626.1L404.3 2622.3L405.7 2621.4L410.3 2623.3L416.3 2625.8L422.3 2628.2L425.5 2629.5L428.3 2629.5L434.3 2629.3L438 2629.2L440.3 2628.1L446.3 2625.2L452.3 2622.2L452.8 2622L458.3 2623.3L464.3 2624.7L467.6 2625.4L470.3 2625.5L476.3 2625.7L482 2625.9L482.3 2625.9L488.3 2625.6L494.3 2625.3L500.3 2625L506.3 2624.7L512.3 2624.4L518.3 2624L524.3 2623.6L530.3 2623.1L536.3 2622.6L542.3 2622L548.3 2621.4L554.3 2620.8L560.3 2620L566.3 2619.2L572.3 2618.4L578.3 2617.4L584.3 2616.4L590.3 2615.2L596.3 2614L602.3 2612.6L608.3 2611.1L614.3 2609.4L620.3 2607.6L626.3 2605.7L632.3 2603.6L638.3 2601.4L644.3 2598.9L650.3 2596.3L656.3 2593.4L662.3 2590.3L668.3 2586.9L674.3 2583.3L680.3 2579.4L686.3 2575.2L692.3 2570.7L698.3 2565.9L704.3 2560.7L710.3 2555.2L716.3 2549.4L722.3 2543.2L728.3 2536.7L734.3 2529.9L740.3 2522.7L746.3 2515.2L752.3 2507.3L758.3 2499L764.3 2490.3L770.3 2481.4L776.3 2472.1L782.3 2462.4L788.3 2452.5L794.3 2442.3L800.3 2431.8L806.3 2421.1L812.3 2410.1L818.3 2399.1L824.3 2387.8L830.3 2376.5L836.3 2365.3L842.3 2354.1L848.3 2342.9L854.3 2331.8L860.3 2320.8L866.3 2310.1L872.3 2299.7L878.3 2289.5L884.3 2279.8L890.3 2270.6L896.3 2261.9L902.3 2253.8L908.3 2246.4L914.3 2239.8L920.3 2233.9L926.3 2229L932.3 2225L938.3 2221.9L944.3 2219.8L950.3 2218.8L956.3 2218.8L962.3 2219.8L968.3 2221.7L974.3 2224.6L980.3 2228.3L986.3 2233L992.3 2238.5L998.3 2244.8L1004.3 2251.9L1010.3 2259.7L1016.3 2268.1L1022.3 2277.2L1028.3 2286.7L1034.3 2296.7L1040.3 2307.1L1046.3 2317.8L1052.3 2328.8L1058.3 2340.1L1064.3 2351.4L1070.3 2363L1076.3 2374.5L1082.3 2386.1L1088.3 2397.7L1094.3 2409.1L1100.3 2420.5L1106.3 2431.8L1112.3 2442.9L1118.3 2453.8L1124.3 2464.6L1130.3 2475L1136.3 2485.2L1142.3 2495.2L1148.3 2504.8L1154.3 2514.1L1160.3 2522.9L1166.3 2531.5L1172.3 2539.8L1178.3 2547.7L1184.3 2555.3L1190.3 2562.5L1196.3 2569.4L1202.3 2576L1208.3 2582.3L1214.3 2588.2L1220.3 2593.8L1226.3 2599.1L1232.3 2604L1238.3 2608.7L1244.3 2613.1L1250.3 2617.2L1256.3 2621.1L1262.3 2624.7L1268.3 2628.1L1274.3 2631.3L1280.3 2634.3L1286.3 2637L1292.3 2639.6L1298.3 2642L1304.3 2644.3L1310.3 2646.5L1316.3 2648.4L1322.3 2650.3L1328.3 2652L1334.3 2653.7L1340.3 2655.2L1346.3 2656.6L1352.3 2657.9L1358.3 2659.2L1364.3 2660.4L1370.3 2661.5L1376.3 2662.5L1382.3 2663.5L1388.3 2664.4L1394.3 2665.3L1400.3 2666.2L1406.3 2667L1412.3 2667.7L1418.3 2668.5L1424.3 2669.2L1430.3 2669.8L1436.3 2670.5L1442.3 2671.1L1448.3 2671.7L1454.3 2672.2L1460.3 2672.6L1466.3 2673.1L1472.3 2673.5L1478.3 2673.9L1484.3 2674.4L1490.3 2674.8L1496.3 2675.2L1502.3 2675.5L1508.3 2675.9L1514.3 2676.3L1520.3 2676.6L1526.3 2677L1532.3 2677.3L1538.3 2677.7L1544.3 2678L1550.3 2678.3L1556.3 2678.7L1562.3 2679L1568.3 2679.3L1574.3 2679.6L1580.3 2679.9L1586.3 2680.2L1592.3 2680.5L1598.3 2680.8L1604.3 2681L1610.3 2681.2L1616.3 2681.4L1622.3 2681.6L1628.3 2681.7L1634.3 2681.9L1640.3 2682.1L1646.3 2682.2L1652.3 2682.4L1658.3 2682.6L1664.3 2682.7L1670.3 2682.9L1676.3 2683L1682.3 2683.2L1688.3 2683.3L1694.3 2683.5L1700.3 2683.6L1706.3 2683.8L1712.3 2683.9L1718.3 2684L1724.3 2684.2L1730.3 2684.3L1736.3 2684.4L1742.3 2684.6L1748.3 2684.7L1754.3 2684.8L1760.3 2684.9L1766.3 2685L1772.3 2685.1L1778.3 2685.2L1784.3 2685.2L1790.3 2685.3L1796.3 2685.4L1802.3 2685.5L1808.3 2685.6L1814.3 2685.6L1820.3 2685.7L1826.3 2685.8L1832.3 2685.9L1838.3 2685.9L1844.3 2686L1850.3 2686.1L1856.3 2686.2L1862.3 2686.2L1868.3 2686.3L1874.3 2686.4L1880.3 2686.4L1886.3 2686.5L1892.3 2686.6L1898.3 2686.6L1900 2686.7L1904.3 2687.4L1910.3 2688.5L1915 2689.3L1916.3 2689L1922.3 2687.4L1928.3 2685.8L1934.3 2684.2L1935 2684L1940.3 2684.2L1946.3 2684.3L1952.3 2684.5L1958.3 2684.6L1964.3 2684.8L1964.8 2684.8L1970.3 2687.8L1976.3 2691.1L1979.6 2693L1982.3 2692.5L1988.3 2691.5L1994.3 2690.5L1999.4 2689.6L2000.3 2689.7L2006.3 2689.8L2012.3 2690L2018.3 2690.2L2018.3 2692.9L2012.3 2692.7L2006.3 2692.6L2000.3 2692.5L1999.4 2692.4L1994.3 2693.3L1988.3 2694.4L1982.3 2695.4L1979.6 2695.9L1976.3 2694.1L1970.3 2690.8L1964.8 2687.8L1964.3 2687.8L1958.3 2687.7L1952.3 2687.6L1946.3 2687.4L1940.3 2687.3L1935 2687.2L1934.3 2687.4L1928.3 2689L1922.3 2690.6L1916.3 2692.3L1915 2692.6L1910.3 2691.8L1904.3 2690.8L1900 2690.1L1898.3 2690.1L1892.3 2690L1886.3 2690L1880.3 2690L1874.3 2690L1868.3 2689.9L1862.3 2689.9L1856.3 2689.9L1850.3 2689.9L1844.3 2689.9L1838.3 2689.8L1832.3 2689.8L1826.3 2689.8L1820.3 2689.8L1814.3 2689.7L1808.3 2689.7L1802.3 2689.7L1796.3 2689.7L1790.3 2689.7L1784.3 2689.6L1778.3 2689.6L1772.3 2689.6L1766.3 2689.6L1760.3 2689.5L1754.3 2689.5L1748.3 2689.5L1742.3 2689.4L1736.3 2689.4L1730.3 2689.3L1724.3 2689.2L1718.3 2689.2L1712.3 2689.1L1706.3 2689.1L1700.3 2689L1694.3 2688.9L1688.3 2688.9L1682.3 2688.8L1676.3 2688.8L1670.3 2688.7L1664.3 2688.6L1658.3 2688.6L1652.3 2688.5L1646.3 2688.5L1640.3 2688.4L1634.3 2688.3L1628.3 2688.3L1622.3 2688.2L1616.3 2688.2L1610.3 2688.1L1604.3 2688L1598.3 2688L1592.3 2687.8L1586.3 2687.6L1580.3 2687.5L1574.3 2687.3L1568.3 2687.1L1562.3 2687L1556.3 2686.8L1550.3 2686.6L1544.3 2686.4L1538.3 2686.3L1532.3 2686.1L1526.3 2685.9L1520.3 2685.8L1514.3 2685.6L1508.3 2685.4L1502.3 2685.3L1496.3 2685.1L1490.3 2684.9L1484.3 2684.8L1478.3 2684.6L1472.3 2684.4L1466.3 2684.3L1460.3 2684.1L1454.3 2683.9L1448.3 2683.8L1442.3 2683.6L1436.3 2683.3L1430.3 2683L1424.3 2682.7L1418.3 2682.5L1412.3 2682.2L1406.3 2681.9L1400.3 2681.7L1394.3 2681.4L1388.3 2681.1L1382.3 2680.8L1376.3 2680.6L1370.3 2680.3L1364.3 2680L1358.3 2679.8L1352.3 2679.5L1346.3 2679.2L1340.3 2679L1334.3 2678.7L1328.3 2678.4L1322.3 2678.1L1316.3 2677.9L1310.3 2677.6L1304.3 2677.3L1298.3 2677.1L1292.3 2676.8L1286.3 2676.6L1280.3 2676.3L1274.3 2676.1L1268.3 2675.8L1262.3 2675.6L1256.3 2675.3L1250.3 2675.1L1244.3 2674.8L1238.3 2674.6L1232.3 2674.3L1226.3 2674.1L1220.3 2673.8L1214.3 2673.5L1208.3 2673.1L1202.3 2672.8L1196.3 2672.5L1190.3 2672.1L1184.3 2671.8L1178.3 2671.5L1172.3 2671.1L1166.3 2670.8L1160.3 2670.5L1154.3 2670.1L1148.3 2669.8L1142.3 2669.3L1136.3 2668.8L1130.3 2668.4L1124.3 2667.9L1118.3 2667.4L1112.3 2666.9L1106.3 2666.5L1100.3 2666L1094.3 2665.5L1088.3 2665L1082.3 2664.6L1076.3 2664.1L1070.3 2663.6L1064.3 2663.1L1058.3 2662.6L1052.3 2662L1046.3 2661.5L1040.3 2661L1034.3 2660.5L1028.3 2660L1022.3 2659.4L1016.3 2658.9L1010.3 2658.4L1004.3 2657.9L998.3 2657.4L992.3 2657L986.3 2656.6L980.3 2656.1L974.3 2655.7L968.3 2655.3L962.3 2654.9L956.3 2654.5L950.3 2654.1L944.3 2653.7L938.3 2653.3L932.3 2652.8L926.3 2652.4L920.3 2652L914.3 2651.7L908.3 2651.3L902.3 2650.9L896.3 2650.6L890.3 2650.2L884.3 2649.8L878.3 2649.5L872.3 2649.1L866.3 2648.7L860.3 2648.4L854.3 2648L848.3 2647.6L842.3 2647.3L836.3 2646.9L830.3 2646.5L824.3 2646.3L818.3 2646.1L812.3 2645.8L806.3 2645.6L800.3 2645.4L794.3 2645.2L788.3 2645L782.3 2644.7L776.3 2644.5L770.3 2644.3L764.3 2644.1L758.3 2643.8L752.3 2643.6L746.3 2643.4L740.3 2643.2L734.3 2642.9L728.3 2642.7L722.3 2642.5L716.3 2642.4L710.3 2642.2L704.3 2642.1L698.3 2641.9L692.3 2641.7L686.3 2641.6L680.3 2641.4L674.3 2641.3L668.3 2641.1L662.3 2641L656.3 2640.8L650.3 2640.6L644.3 2640.5L638.3 2640.3L632.3 2640.2L626.3 2640L620.3 2639.9L614.3 2639.8L608.3 2639.7L602.3 2639.6L596.3 2639.6L590.3 2639.5L584.3 2639.4L578.3 2639.3L572.3 2639.2L566.3 2639.1L560.3 2639L554.3 2638.9L548.3 2638.8L542.3 2638.7L536.3 2638.6L530.3 2638.6L524.3 2638.5L518.3 2638.4L512.3 2638.3L506.3 2638.2L500.3 2638.1L494.3 2638L488.3 2637.9L482.3 2637.8L482 2637.8L476.3 2637.3L470.3 2636.8L467.6 2636.6L464.3 2635.7L458.3 2634L452.8 2632.5L452.3 2632.7L446.3 2635.4L440.3 2638.1L438 2639.1L434.3 2639.1L428.3 2639L425.5 2639L422.3 2637.6L416.3 2634.9L410.3 2632.2L405.7 2630.2L404.3 2631L398.3 2634.7L392.3 2638.3L386.3 2641.9L383.5 2643.6L380.3 2643.6L374.3 2643.6L368.3 2643.5L362.3 2643.5L361 2643.5L356.3 2645.6L350.3 2648.4L346 2650.4L344.3 2648.4L338.3 2641.5L332.3 2634.6L331.5 2633.7L326.3 2635.7L320.3 2638.1L319 2638.6L314.3 2637.6L308.3 2636.4L302.3 2635.1L299 2634.4L296.3 2634.9L290.3 2636L284.3 2637.1L278.3 2638.2L272.3 2639.3L266.3 2640.4L262 2641.2L260.3 2640.4L254.3 2637.9L248.3 2635.3L242.3 2632.7L236.3 2630.1Z" fill="url(#gb4)"/>
<path d="M236.3 2624.8L242.3 2627.3L248.3 2629.8L254.3 2632.3L260.3 2634.8L262 2635.5L266.3 2634.7L272.3 2633.5L278.3 2632.3L284.3 2631.1L290.3 2629.9L296.3 2628.7L299 2628.1L302.3 2628.8L308.3 2629.9L314.3 2631L319 2631.9L320.3 2631.4L326.3 2628.9L331.5 2626.7L332.3 2627.6L338.3 2634.4L344.3 2641.2L346 2643.1L350.3 2641L356.3 2638.1L361 2635.9L362.3 2635.9L368.3 2635.7L374.3 2635.6L380.3 2635.5L383.5 2635.5L386.3 2633.7L392.3 2629.9L398.3 2626.1L404.3 2622.3L405.7 2621.4L410.3 2623.3L416.3 2625.8L422.3 2628.2L425.5 2629.5L428.3 2629.5L434.3 2629.3L438 2629.2L440.3 2628.1L446.3 2625.2L452.3 2622.2L452.8 2622L458.3 2623.3L464.3 2624.7L467.6 2625.4L470.3 2625.5L476.3 2625.7L482 2625.9L482.3 2625.9L488.3 2625.6L494.3 2625.3L500.3 2625L506.3 2624.7L512.3 2624.4L518.3 2624L524.3 2623.6L530.3 2623.1L536.3 2622.6L542.3 2622L548.3 2621.4L554.3 2620.8L560.3 2620L566.3 2619.2L572.3 2618.4L578.3 2617.4L584.3 2616.4L590.3 2615.2L596.3 2614L602.3 2612.6L608.3 2611.1L614.3 2609.4L620.3 2607.6L626.3 2605.7L632.3 2603.6L638.3 2601.4L644.3 2598.9L650.3 2596.3L656.3 2593.4L662.3 2590.3L668.3 2586.9L674.3 2583.3L680.3 2579.4L686.3 2575.2L692.3 2570.7L698.3 2565.9L704.3 2560.7L710.3 2555.2L716.3 2549.4L722.3 2543.2L728.3 2536.7L734.3 2529.9L740.3 2522.7L746.3 2515.2L752.3 2507.3L758.3 2499L764.3 2490.3L770.3 2481.4L776.3 2472.1L782.3 2462.4L788.3 2452.5L794.3 2442.3L800.3 2431.8L806.3 2421.1L812.3 2410.1L818.3 2399.1L824.3 2387.8L830.3 2376.5L836.3 2365.3L842.3 2354.1L848.3 2342.9L854.3 2331.8L860.3 2320.8L866.3 2310.1L872.3 2299.7L878.3 2289.5L884.3 2279.8L890.3 2270.6L896.3 2261.9L902.3 2253.8L908.3 2246.4L914.3 2239.8L920.3 2233.9L926.3 2229L932.3 2225L938.3 2221.9L944.3 2219.8L950.3 2218.8L956.3 2218.8L962.3 2219.8L968.3 2221.7L974.3 2224.6L980.3 2228.3L986.3 2233L992.3 2238.5L998.3 2244.8L1004.3 2251.9L1010.3 2259.7L1016.3 2268.1L1022.3 2277.2L1028.3 2286.7L1034.3 2296.7L1040.3 2307.1L1046.3 2317.8L1052.3 2328.8L1058.3 2340.1L1064.3 2351.4L1070.3 2363L1076.3 2374.5L1082.3 2386.1L1088.3 2397.7L1094.3 2409.1L1100.3 2420.5L1106.3 2431.8L1112.3 2442.9L1118.3 2453.8L1124.3 2464.6L1130.3 2475L1136.3 2485.2L1142.3 2495.2L1148.3 2504.8L1154.3 2514.1L1160.3 2522.9L1166.3 2531.5L1172.3 2539.8L1178.3 2547.7L1184.3 2555.3L1190.3 2562.5L1196.3 2569.4L1202.3 2576L1208.3 2582.3L1214.3 2588.2L1220.3 2593.8L1226.3 2599.1L1232.3 2604L1238.3 2608.7L1244.3 2613.1L1250.3 2617.2L1256.3 2621.1L1262.3 2624.7L1268.3 2628.1L1274.3 2631.3L1280.3 2634.3L1286.3 2637L1292.3 2639.6L1298.3 2642L1304.3 2644.3L1310.3 2646.5L1316.3 2648.4L1322.3 2650.3L1328.3 2652L1334.3 2653.7L1340.3 2655.2L1346.3 2656.6L1352.3 2657.9L1358.3 2659.2L1364.3 2660.4L1370.3 2661.5L1376.3 2662.5L1382.3 2663.5L1388.3 2664.4L1394.3 2665.3L1400.3 2666.2L1406.3 2667L1412.3 2667.7L1418.3 2668.5L1424.3 2669.2L1430.3 2669.8L1436.3 2670.5L1442.3 2671.1L1448.3 2671.7L1454.3 2672.2L1460.3 2672.6L1466.3 2673.1L1472.3 2673.5L1478.3 2673.9L1484.3 2674.4L1490.3 2674.8L1496.3 2675.2L1502.3 2675.5L1508.3 2675.9L1514.3 2676.3L1520.3 2676.6L1526.3 2677L1532.3 2677.3L1538.3 2677.7L1544.3 2678L1550.3 2678.3L1556.3 2678.7L1562.3 2679L1568.3 2679.3L1574.3 2679.6L1580.3 2679.9L1586.3 2680.2L1592.3 2680.5L1598.3 2680.8L1604.3 2681L1610.3 2681.2L1616.3 2681.4L1622.3 2681.6L1628.3 2681.7L1634.3 2681.9L1640.3 2682.1L1646.3 2682.2L1652.3 2682.4L1658.3 2682.6L1664.3 2682.7L1670.3 2682.9L1676.3 2683L1682.3 2683.2L1688.3 2683.3L1694.3 2683.5L1700.3 2683.6L1706.3 2683.8L1712.3 2683.9L1718.3 2684L1724.3 2684.2L1730.3 2684.3L1736.3 2684.4L1742.3 2684.6L1748.3 2684.7L1754.3 2684.8L1760.3 2684.9L1766.3 2685L1772.3 2685.1L1778.3 2685.2L1784.3 2685.2L1790.3 2685.3L1796.3 2685.4L1802.3 2685.5L1808.3 2685.6L1814.3 2685.6L1820.3 2685.7L1826.3 2685.8L1832.3 2685.9L1838.3 2685.9L1844.3 2686L1850.3 2686.1L1856.3 2686.2L1862.3 2686.2L1868.3 2686.3L1874.3 2686.4L1880.3 2686.4L1886.3 2686.5L1892.3 2686.6L1898.3 2686.6L1900 2686.7L1904.3 2687.4L1910.3 2688.5L1915 2689.3L1916.3 2689L1922.3 2687.4L1928.3 2685.8L1934.3 2684.2L1935 2684L1940.3 2684.2L1946.3 2684.3L1952.3 2684.5L1958.3 2684.6L1964.3 2684.8L1964.8 2684.8L1970.3 2687.8L1976.3 2691.1L1979.6 2693L1982.3 2692.5L1988.3 2691.5L1994.3 2690.5L1999.4 2689.6L2000.3 2689.7L2006.3 2689.8L2012.3 2690L2018.3 2690.2" fill="none" stroke="#ff007f" stroke-width="9.5" stroke-linejoin="round" />
<path d="M236.3 2629.1L242.3 2631.6L248.3 2634.2L254.3 2636.7L260.3 2639.3L262 2640L266.3 2639.2L272.3 2638.1L278.3 2637L284.3 2635.9L290.3 2634.7L296.3 2633.6L299 2633.1L302.3 2633.8L308.3 2635L314.3 2636.2L319 2637.1L320.3 2636.6L326.3 2634.2L331.5 2632.1L332.3 2633.1L338.3 2639.9L344.3 2646.8L346 2648.7L350.3 2646.7L356.3 2643.9L361 2641.7L362.3 2641.7L368.3 2641.7L374.3 2641.7L380.3 2641.7L383.5 2641.7L386.3 2639.9L392.3 2636.3L398.3 2632.5L404.3 2628.8L405.7 2628L410.3 2630L416.3 2632.6L422.3 2635.2L425.5 2636.6L428.3 2636.5L434.3 2636.5L438 2636.4L440.3 2635.4L446.3 2632.6L452.3 2629.8L452.8 2629.6L458.3 2631L464.3 2632.6L467.6 2633.4L470.3 2633.6L476.3 2634L482 2634.3L482.3 2634.3L488.3 2634.3L494.3 2634.2L500.3 2634.2L506.3 2634.1L512.3 2634L518.3 2633.9L524.3 2633.9L530.3 2633.8L536.3 2633.6L542.3 2633.5L548.3 2633.4L554.3 2633.3L560.3 2633.1L566.3 2633L572.3 2632.8L578.3 2632.6L584.3 2632.4L590.3 2632.3L596.3 2632L602.3 2631.8L608.3 2631.6L614.3 2631.3L620.3 2631.1L626.3 2630.8L632.3 2630.6L638.3 2630.4L644.3 2630.1L650.3 2629.9L656.3 2629.6L662.3 2629.3L668.3 2629L674.3 2628.7L680.3 2628.4L686.3 2628L692.3 2627.7L698.3 2627.3L704.3 2626.9L710.3 2626.5L716.3 2626.1L722.3 2625.6L728.3 2625.2L734.3 2624.8L740.3 2624.4L746.3 2623.9L752.3 2623.4L758.3 2623L764.3 2622.5L770.3 2622L776.3 2621.4L782.3 2620.9L788.3 2620.3L794.3 2619.7L800.3 2619.2L806.3 2618.5L812.3 2617.9L818.3 2617.3L824.3 2616.6L830.3 2615.9L836.3 2615.4L842.3 2614.8L848.3 2614.3L854.3 2613.7L860.3 2613.1L866.3 2612.5L872.3 2611.9L878.3 2611.2L884.3 2610.6L890.3 2609.9L896.3 2609.3L902.3 2608.6L908.3 2607.9L914.3 2607.3L920.3 2606.6L926.3 2605.9L932.3 2605.3L938.3 2604.6L944.3 2604L950.3 2603.3L956.3 2602.6L962.3 2602L968.3 2601.3L974.3 2600.7L980.3 2600L986.3 2599.4L992.3 2598.7L998.3 2598.1L1004.3 2597.5L1010.3 2597L1016.3 2596.5L1022.3 2596.1L1028.3 2595.6L1034.3 2595.1L1040.3 2594.7L1046.3 2594.3L1052.3 2593.9L1058.3 2593.5L1064.3 2593.1L1070.3 2592.8L1076.3 2592.5L1082.3 2592.1L1088.3 2591.8L1094.3 2591.5L1100.3 2591.3L1106.3 2591L1112.3 2590.8L1118.3 2590.7L1124.3 2590.5L1130.3 2590.4L1136.3 2590.4L1142.3 2590.3L1148.3 2590.3L1154.3 2590.2L1160.3 2590.2L1166.3 2590.2L1172.3 2590.2L1178.3 2590.2L1184.3 2590.4L1190.3 2590.5L1196.3 2590.7L1202.3 2590.9L1208.3 2591.2L1214.3 2591.5L1220.3 2591.8L1226.3 2592.1L1232.3 2592.5L1238.3 2592.9L1244.3 2593.3L1250.3 2593.8L1256.3 2594.3L1262.3 2594.9L1268.3 2595.4L1274.3 2596.1L1280.3 2596.7L1286.3 2597.5L1292.3 2598.2L1298.3 2599L1304.3 2599.8L1310.3 2600.7L1316.3 2601.6L1322.3 2602.5L1328.3 2603.5L1334.3 2604.5L1340.3 2605.5L1346.3 2606.6L1352.3 2607.7L1358.3 2608.8L1364.3 2609.9L1370.3 2611L1376.3 2612.2L1382.3 2613.4L1388.3 2614.6L1394.3 2615.8L1400.3 2617.1L1406.3 2618.3L1412.3 2619.6L1418.3 2620.9L1424.3 2622.2L1430.3 2623.5L1436.3 2624.8L1442.3 2626.1L1448.3 2627.4L1454.3 2628.6L1460.3 2629.9L1466.3 2631.1L1472.3 2632.3L1478.3 2633.6L1484.3 2634.8L1490.3 2636.1L1496.3 2637.3L1502.3 2638.5L1508.3 2639.7L1514.3 2641L1520.3 2642.2L1526.3 2643.4L1532.3 2644.6L1538.3 2645.8L1544.3 2647L1550.3 2648.2L1556.3 2649.3L1562.3 2650.5L1568.3 2651.6L1574.3 2652.8L1580.3 2653.9L1586.3 2655L1592.3 2656.1L1598.3 2657.2L1604.3 2658.2L1610.3 2659.1L1616.3 2660L1622.3 2660.9L1628.3 2661.8L1634.3 2662.7L1640.3 2663.6L1646.3 2664.4L1652.3 2665.3L1658.3 2666.1L1664.3 2666.9L1670.3 2667.7L1676.3 2668.4L1682.3 2669.2L1688.3 2669.9L1694.3 2670.6L1700.3 2671.3L1706.3 2672L1712.3 2672.7L1718.3 2673.3L1724.3 2674L1730.3 2674.6L1736.3 2675.2L1742.3 2675.8L1748.3 2676.3L1754.3 2676.8L1760.3 2677.3L1766.3 2677.8L1772.3 2678.3L1778.3 2678.8L1784.3 2679.2L1790.3 2679.6L1796.3 2680L1802.3 2680.4L1808.3 2680.8L1814.3 2681.2L1820.3 2681.5L1826.3 2681.9L1832.3 2682.2L1838.3 2682.6L1844.3 2682.9L1850.3 2683.2L1856.3 2683.5L1862.3 2683.7L1868.3 2684L1874.3 2684.3L1880.3 2684.5L1886.3 2684.8L1892.3 2685L1898.3 2685.2L1900 2685.3L1904.3 2686.1L1910.3 2687.3L1915 2688.3L1916.3 2688L1922.3 2686.5L1928.3 2685L1934.3 2683.6L1935 2683.4L1940.3 2683.6L1946.3 2683.9L1952.3 2684.2L1958.3 2684.4L1964.3 2684.7L1964.8 2684.7L1970.3 2687.8L1976.3 2691.2L1979.6 2693L1982.3 2692.6L1988.3 2691.6L1994.3 2690.7L1999.4 2689.9L2000.3 2689.9L2006.3 2690.2L2012.3 2690.4L2018.3 2690.6L2018.3 2692.9L2012.3 2692.7L2006.3 2692.6L2000.3 2692.5L1999.4 2692.4L1994.3 2693.3L1988.3 2694.4L1982.3 2695.4L1979.6 2695.9L1976.3 2694.1L1970.3 2690.8L1964.8 2687.8L1964.3 2687.8L1958.3 2687.7L1952.3 2687.6L1946.3 2687.4L1940.3 2687.3L1935 2687.2L1934.3 2687.4L1928.3 2689L1922.3 2690.6L1916.3 2692.3L1915 2692.6L1910.3 2691.8L1904.3 2690.8L1900 2690.1L1898.3 2690.1L1892.3 2690L1886.3 2690L1880.3 2690L1874.3 2690L1868.3 2689.9L1862.3 2689.9L1856.3 2689.9L1850.3 2689.9L1844.3 2689.9L1838.3 2689.8L1832.3 2689.8L1826.3 2689.8L1820.3 2689.8L1814.3 2689.7L1808.3 2689.7L1802.3 2689.7L1796.3 2689.7L1790.3 2689.7L1784.3 2689.6L1778.3 2689.6L1772.3 2689.6L1766.3 2689.6L1760.3 2689.5L1754.3 2689.5L1748.3 2689.5L1742.3 2689.4L1736.3 2689.4L1730.3 2689.3L1724.3 2689.2L1718.3 2689.2L1712.3 2689.1L1706.3 2689.1L1700.3 2689L1694.3 2688.9L1688.3 2688.9L1682.3 2688.8L1676.3 2688.8L1670.3 2688.7L1664.3 2688.6L1658.3 2688.6L1652.3 2688.5L1646.3 2688.5L1640.3 2688.4L1634.3 2688.3L1628.3 2688.3L1622.3 2688.2L1616.3 2688.2L1610.3 2688.1L1604.3 2688L1598.3 2688L1592.3 2687.8L1586.3 2687.6L1580.3 2687.5L1574.3 2687.3L1568.3 2687.1L1562.3 2687L1556.3 2686.8L1550.3 2686.6L1544.3 2686.4L1538.3 2686.3L1532.3 2686.1L1526.3 2685.9L1520.3 2685.8L1514.3 2685.6L1508.3 2685.4L1502.3 2685.3L1496.3 2685.1L1490.3 2684.9L1484.3 2684.8L1478.3 2684.6L1472.3 2684.4L1466.3 2684.3L1460.3 2684.1L1454.3 2683.9L1448.3 2683.8L1442.3 2683.6L1436.3 2683.3L1430.3 2683L1424.3 2682.7L1418.3 2682.5L1412.3 2682.2L1406.3 2681.9L1400.3 2681.7L1394.3 2681.4L1388.3 2681.1L1382.3 2680.8L1376.3 2680.6L1370.3 2680.3L1364.3 2680L1358.3 2679.8L1352.3 2679.5L1346.3 2679.2L1340.3 2679L1334.3 2678.7L1328.3 2678.4L1322.3 2678.1L1316.3 2677.9L1310.3 2677.6L1304.3 2677.3L1298.3 2677.1L1292.3 2676.8L1286.3 2676.6L1280.3 2676.3L1274.3 2676.1L1268.3 2675.8L1262.3 2675.6L1256.3 2675.3L1250.3 2675.1L1244.3 2674.8L1238.3 2674.6L1232.3 2674.3L1226.3 2674.1L1220.3 2673.8L1214.3 2673.5L1208.3 2673.1L1202.3 2672.8L1196.3 2672.5L1190.3 2672.1L1184.3 2671.8L1178.3 2671.5L1172.3 2671.1L1166.3 2670.8L1160.3 2670.5L1154.3 2670.1L1148.3 2669.8L1142.3 2669.3L1136.3 2668.8L1130.3 2668.4L1124.3 2667.9L1118.3 2667.4L1112.3 2666.9L1106.3 2666.5L1100.3 2666L1094.3 2665.5L1088.3 2665L1082.3 2664.6L1076.3 2664.1L1070.3 2663.6L1064.3 2663.1L1058.3 2662.6L1052.3 2662L1046.3 2661.5L1040.3 2661L1034.3 2660.5L1028.3 2660L1022.3 2659.4L1016.3 2658.9L1010.3 2658.4L1004.3 2657.9L998.3 2657.4L992.3 2657L986.3 2656.6L980.3 2656.1L974.3 2655.7L968.3 2655.3L962.3 2654.9L956.3 2654.5L950.3 2654.1L944.3 2653.7L938.3 2653.3L932.3 2652.8L926.3 2652.4L920.3 2652L914.3 2651.7L908.3 2651.3L902.3 2650.9L896.3 2650.6L890.3 2650.2L884.3 2649.8L878.3 2649.5L872.3 2649.1L866.3 2648.7L860.3 2648.4L854.3 2648L848.3 2647.6L842.3 2647.3L836.3 2646.9L830.3 2646.5L824.3 2646.3L818.3 2646.1L812.3 2645.8L806.3 2645.6L800.3 2645.4L794.3 2645.2L788.3 2645L782.3 2644.7L776.3 2644.5L770.3 2644.3L764.3 2644.1L758.3 2643.8L752.3 2643.6L746.3 2643.4L740.3 2643.2L734.3 2642.9L728.3 2642.7L722.3 2642.5L716.3 2642.4L710.3 2642.2L704.3 2642.1L698.3 2641.9L692.3 2641.7L686.3 2641.6L680.3 2641.4L674.3 2641.3L668.3 2641.1L662.3 2641L656.3 2640.8L650.3 2640.6L644.3 2640.5L638.3 2640.3L632.3 2640.2L626.3 2640L620.3 2639.9L614.3 2639.8L608.3 2639.7L602.3 2639.6L596.3 2639.6L590.3 2639.5L584.3 2639.4L578.3 2639.3L572.3 2639.2L566.3 2639.1L560.3 2639L554.3 2638.9L548.3 2638.8L542.3 2638.7L536.3 2638.6L530.3 2638.6L524.3 2638.5L518.3 2638.4L512.3 2638.3L506.3 2638.2L500.3 2638.1L494.3 2638L488.3 2637.9L482.3 2637.8L482 2637.8L476.3 2637.3L470.3 2636.8L467.6 2636.6L464.3 2635.7L458.3 2634L452.8 2632.5L452.3 2632.7L446.3 2635.4L440.3 2638.1L438 2639.1L434.3 2639.1L428.3 2639L425.5 2639L422.3 2637.6L416.3 2634.9L410.3 2632.2L405.7 2630.2L404.3 2631L398.3 2634.7L392.3 2638.3L386.3 2641.9L383.5 2643.6L380.3 2643.6L374.3 2643.6L368.3 2643.5L362.3 2643.5L361 2643.5L356.3 2645.6L350.3 2648.4L346 2650.4L344.3 2648.4L338.3 2641.5L332.3 2634.6L331.5 2633.7L326.3 2635.7L320.3 2638.1L319 2638.6L314.3 2637.6L308.3 2636.4L302.3 2635.1L299 2634.4L296.3 2634.9L290.3 2636L284.3 2637.1L278.3 2638.2L272.3 2639.3L266.3 2640.4L262 2641.2L260.3 2640.4L254.3 2637.9L248.3 2635.3L242.3 2632.7L236.3 2630.1Z" fill="url(#gb5)"/>
<path d="M236.3 2629.1L242.3 2631.6L248.3 2634.2L254.3 2636.7L260.3 2639.3L262 2640L266.3 2639.2L272.3 2638.1L278.3 2637L284.3 2635.9L290.3 2634.7L296.3 2633.6L299 2633.1L302.3 2633.8L308.3 2635L314.3 2636.2L319 2637.1L320.3 2636.6L326.3 2634.2L331.5 2632.1L332.3 2633.1L338.3 2639.9L344.3 2646.8L346 2648.7L350.3 2646.7L356.3 2643.9L361 2641.7L362.3 2641.7L368.3 2641.7L374.3 2641.7L380.3 2641.7L383.5 2641.7L386.3 2639.9L392.3 2636.3L398.3 2632.5L404.3 2628.8L405.7 2628L410.3 2630L416.3 2632.6L422.3 2635.2L425.5 2636.6L428.3 2636.5L434.3 2636.5L438 2636.4L440.3 2635.4L446.3 2632.6L452.3 2629.8L452.8 2629.6L458.3 2631L464.3 2632.6L467.6 2633.4L470.3 2633.6L476.3 2634L482 2634.3L482.3 2634.3L488.3 2634.3L494.3 2634.2L500.3 2634.2L506.3 2634.1L512.3 2634L518.3 2633.9L524.3 2633.9L530.3 2633.8L536.3 2633.6L542.3 2633.5L548.3 2633.4L554.3 2633.3L560.3 2633.1L566.3 2633L572.3 2632.8L578.3 2632.6L584.3 2632.4L590.3 2632.3L596.3 2632L602.3 2631.8L608.3 2631.6L614.3 2631.3L620.3 2631.1L626.3 2630.8L632.3 2630.6L638.3 2630.4L644.3 2630.1L650.3 2629.9L656.3 2629.6L662.3 2629.3L668.3 2629L674.3 2628.7L680.3 2628.4L686.3 2628L692.3 2627.7L698.3 2627.3L704.3 2626.9L710.3 2626.5L716.3 2626.1L722.3 2625.6L728.3 2625.2L734.3 2624.8L740.3 2624.4L746.3 2623.9L752.3 2623.4L758.3 2623L764.3 2622.5L770.3 2622L776.3 2621.4L782.3 2620.9L788.3 2620.3L794.3 2619.7L800.3 2619.2L806.3 2618.5L812.3 2617.9L818.3 2617.3L824.3 2616.6L830.3 2615.9L836.3 2615.4L842.3 2614.8L848.3 2614.3L854.3 2613.7L860.3 2613.1L866.3 2612.5L872.3 2611.9L878.3 2611.2L884.3 2610.6L890.3 2609.9L896.3 2609.3L902.3 2608.6L908.3 2607.9L914.3 2607.3L920.3 2606.6L926.3 2605.9L932.3 2605.3L938.3 2604.6L944.3 2604L950.3 2603.3L956.3 2602.6L962.3 2602L968.3 2601.3L974.3 2600.7L980.3 2600L986.3 2599.4L992.3 2598.7L998.3 2598.1L1004.3 2597.5L1010.3 2597L1016.3 2596.5L1022.3 2596.1L1028.3 2595.6L1034.3 2595.1L1040.3 2594.7L1046.3 2594.3L1052.3 2593.9L1058.3 2593.5L1064.3 2593.1L1070.3 2592.8L1076.3 2592.5L1082.3 2592.1L1088.3 2591.8L1094.3 2591.5L1100.3 2591.3L1106.3 2591L1112.3 2590.8L1118.3 2590.7L1124.3 2590.5L1130.3 2590.4L1136.3 2590.4L1142.3 2590.3L1148.3 2590.3L1154.3 2590.2L1160.3 2590.2L1166.3 2590.2L1172.3 2590.2L1178.3 2590.2L1184.3 2590.4L1190.3 2590.5L1196.3 2590.7L1202.3 2590.9L1208.3 2591.2L1214.3 2591.5L1220.3 2591.8L1226.3 2592.1L1232.3 2592.5L1238.3 2592.9L1244.3 2593.3L1250.3 2593.8L1256.3 2594.3L1262.3 2594.9L1268.3 2595.4L1274.3 2596.1L1280.3 2596.7L1286.3 2597.5L1292.3 2598.2L1298.3 2599L1304.3 2599.8L1310.3 2600.7L1316.3 2601.6L1322.3 2602.5L1328.3 2603.5L1334.3 2604.5L1340.3 2605.5L1346.3 2606.6L1352.3 2607.7L1358.3 2608.8L1364.3 2609.9L1370.3 2611L1376.3 2612.2L1382.3 2613.4L1388.3 2614.6L1394.3 2615.8L1400.3 2617.1L1406.3 2618.3L1412.3 2619.6L1418.3 2620.9L1424.3 2622.2L1430.3 2623.5L1436.3 2624.8L1442.3 2626.1L1448.3 2627.4L1454.3 2628.6L1460.3 2629.9L1466.3 2631.1L1472.3 2632.3L1478.3 2633.6L1484.3 2634.8L1490.3 2636.1L1496.3 2637.3L1502.3 2638.5L1508.3 2639.7L1514.3 2641L1520.3 2642.2L1526.3 2643.4L1532.3 2644.6L1538.3 2645.8L1544.3 2647L1550.3 2648.2L1556.3 2649.3L1562.3 2650.5L1568.3 2651.6L1574.3 2652.8L1580.3 2653.9L1586.3 2655L1592.3 2656.1L1598.3 2657.2L1604.3 2658.2L1610.3 2659.1L1616.3 2660L1622.3 2660.9L1628.3 2661.8L1634.3 2662.7L1640.3 2663.6L1646.3 2664.4L1652.3 2665.3L1658.3 2666.1L1664.3 2666.9L1670.3 2667.7L1676.3 2668.4L1682.3 2669.2L1688.3 2669.9L1694.3 2670.6L1700.3 2671.3L1706.3 2672L1712.3 2672.7L1718.3 2673.3L1724.3 2674L1730.3 2674.6L1736.3 2675.2L1742.3 2675.8L1748.3 2676.3L1754.3 2676.8L1760.3 2677.3L1766.3 2677.8L1772.3 2678.3L1778.3 2678.8L1784.3 2679.2L1790.3 2679.6L1796.3 2680L1802.3 2680.4L1808.3 2680.8L1814.3 2681.2L1820.3 2681.5L1826.3 2681.9L1832.3 2682.2L1838.3 2682.6L1844.3 2682.9L1850.3 2683.2L1856.3 2683.5L1862.3 2683.7L1868.3 2684L1874.3 2684.3L1880.3 2684.5L1886.3 2684.8L1892.3 2685L1898.3 2685.2L1900 2685.3L1904.3 2686.1L1910.3 2687.3L1915 2688.3L1916.3 2688L1922.3 2686.5L1928.3 2685L1934.3 2683.6L1935 2683.4L1940.3 2683.6L1946.3 2683.9L1952.3 2684.2L1958.3 2684.4L1964.3 2684.7L1964.8 2684.7L1970.3 2687.8L1976.3 2691.2L1979.6 2693L1982.3 2692.6L1988.3 2691.6L1994.3 2690.7L1999.4 2689.9L2000.3 2689.9L2006.3 2690.2L2012.3 2690.4L2018.3 2690.6" fill="none" stroke="#ff7f00" stroke-width="9.5" stroke-linejoin="round" />
<path d="M236.3 2630.1L242.3 2632.7L248.3 2635.3L254.3 2637.9L260.3 2640.4L262 2641.2L266.3 2640.4L272.3 2639.3L278.3 2638.2L284.3 2637.1L290.3 2636L296.3 2634.9L299 2634.4L302.3 2635.1L308.3 2636.4L314.3 2637.6L319 2638.6L320.3 2638.1L326.3 2635.7L331.5 2633.7L332.3 2634.6L338.3 2641.5L344.3 2648.4L346 2650.4L350.3 2648.4L356.3 2645.6L361 2643.5L362.3 2643.5L368.3 2643.5L374.3 2643.6L380.3 2643.6L383.5 2643.6L386.3 2641.9L392.3 2638.3L398.3 2634.7L404.3 2631L405.7 2630.2L410.3 2632.2L416.3 2634.9L422.3 2637.6L425.5 2639L428.3 2639L434.3 2639.1L438 2639.1L440.3 2638.1L446.3 2635.4L452.3 2632.7L452.8 2632.5L458.3 2634L464.3 2635.7L467.6 2636.6L470.3 2636.8L476.3 2637.3L482 2637.8L482.3 2637.8L488.3 2637.9L494.3 2638L500.3 2638.1L506.3 2638.2L512.3 2638.3L518.3 2638.4L524.3 2638.5L530.3 2638.6L536.3 2638.6L542.3 2638.7L548.3 2638.8L554.3 2638.9L560.3 2639L566.3 2639.1L572.3 2639.2L578.3 2639.3L584.3 2639.4L590.3 2639.5L596.3 2639.6L602.3 2639.6L608.3 2639.7L614.3 2639.8L620.3 2639.9L626.3 2640L632.3 2640.2L638.3 2640.3L644.3 2640.5L650.3 2640.6L656.3 2640.8L662.3 2641L668.3 2641.1L674.3 2641.3L680.3 2641.4L686.3 2641.6L692.3 2641.7L698.3 2641.9L704.3 2642.1L710.3 2642.2L716.3 2642.4L722.3 2642.5L728.3 2642.7L734.3 2642.9L740.3 2643.2L746.3 2643.4L752.3 2643.6L758.3 2643.8L764.3 2644.1L770.3 2644.3L776.3 2644.5L782.3 2644.7L788.3 2645L794.3 2645.2L800.3 2645.4L806.3 2645.6L812.3 2645.8L818.3 2646.1L824.3 2646.3L830.3 2646.5L836.3 2646.9L842.3 2647.3L848.3 2647.6L854.3 2648L860.3 2648.4L866.3 2648.7L872.3 2649.1L878.3 2649.5L884.3 2649.8L890.3 2650.2L896.3 2650.6L902.3 2650.9L908.3 2651.3L914.3 2651.7L920.3 2652L926.3 2652.4L932.3 2652.8L938.3 2653.3L944.3 2653.7L950.3 2654.1L956.3 2654.5L962.3 2654.9L968.3 2655.3L974.3 2655.7L980.3 2656.1L986.3 2656.6L992.3 2657L998.3 2657.4L1004.3 2657.9L1010.3 2658.4L1016.3 2658.9L1022.3 2659.4L1028.3 2660L1034.3 2660.5L1040.3 2661L1046.3 2661.5L1052.3 2662L1058.3 2662.6L1064.3 2663.1L1070.3 2663.6L1076.3 2664.1L1082.3 2664.6L1088.3 2665L1094.3 2665.5L1100.3 2666L1106.3 2666.5L1112.3 2666.9L1118.3 2667.4L1124.3 2667.9L1130.3 2668.4L1136.3 2668.8L1142.3 2669.3L1148.3 2669.8L1154.3 2670.1L1160.3 2670.5L1166.3 2670.8L1172.3 2671.1L1178.3 2671.5L1184.3 2671.8L1190.3 2672.1L1196.3 2672.5L1202.3 2672.8L1208.3 2673.1L1214.3 2673.5L1220.3 2673.8L1226.3 2674.1L1232.3 2674.3L1238.3 2674.6L1244.3 2674.8L1250.3 2675.1L1256.3 2675.3L1262.3 2675.6L1268.3 2675.8L1274.3 2676.1L1280.3 2676.3L1286.3 2676.6L1292.3 2676.8L1298.3 2677.1L1304.3 2677.3L1310.3 2677.6L1316.3 2677.9L1322.3 2678.1L1328.3 2678.4L1334.3 2678.7L1340.3 2679L1346.3 2679.2L1352.3 2679.5L1358.3 2679.8L1364.3 2680L1370.3 2680.3L1376.3 2680.6L1382.3 2680.8L1388.3 2681.1L1394.3 2681.4L1400.3 2681.7L1406.3 2681.9L1412.3 2682.2L1418.3 2682.5L1424.3 2682.7L1430.3 2683L1436.3 2683.3L1442.3 2683.6L1448.3 2683.8L1454.3 2683.9L1460.3 2684.1L1466.3 2684.3L1472.3 2684.4L1478.3 2684.6L1484.3 2684.8L1490.3 2684.9L1496.3 2685.1L1502.3 2685.3L1508.3 2685.4L1514.3 2685.6L1520.3 2685.8L1526.3 2685.9L1532.3 2686.1L1538.3 2686.3L1544.3 2686.4L1550.3 2686.6L1556.3 2686.8L1562.3 2687L1568.3 2687.1L1574.3 2687.3L1580.3 2687.5L1586.3 2687.6L1592.3 2687.8L1598.3 2688L1604.3 2688L1610.3 2688.1L1616.3 2688.2L1622.3 2688.2L1628.3 2688.3L1634.3 2688.3L1640.3 2688.4L1646.3 2688.5L1652.3 2688.5L1658.3 2688.6L1664.3 2688.6L1670.3 2688.7L1676.3 2688.8L1682.3 2688.8L1688.3 2688.9L1694.3 2688.9L1700.3 2689L1706.3 2689.1L1712.3 2689.1L1718.3 2689.2L1724.3 2689.2L1730.3 2689.3L1736.3 2689.4L1742.3 2689.4L1748.3 2689.5L1754.3 2689.5L1760.3 2689.5L1766.3 2689.6L1772.3 2689.6L1778.3 2689.6L1784.3 2689.6L1790.3 2689.7L1796.3 2689.7L1802.3 2689.7L1808.3 2689.7L1814.3 2689.7L1820.3 2689.8L1826.3 2689.8L1832.3 2689.8L1838.3 2689.8L1844.3 2689.9L1850.3 2689.9L1856.3 2689.9L1862.3 2689.9L1868.3 2689.9L1874.3 2690L1880.3 2690L1886.3 2690L1892.3 2690L1898.3 2690.1L1900 2690.1L1904.3 2690.8L1910.3 2691.8L1915 2692.6L1916.3 2692.3L1922.3 2690.6L1928.3 2689L1934.3 2687.4L1935 2687.2L1940.3 2687.3L1946.3 2687.4L1952.3 2687.6L1958.3 2687.7L1964.3 2687.8L1964.8 2687.8L1970.3 2690.8L1976.3 2694.1L1979.6 2695.9L1982.3 2695.4L1988.3 2694.4L1994.3 2693.3L1999.4 2692.4L2000.3 2692.5L2006.3 2692.6L2012.3 2692.7L2018.3 2692.9L2018.3 2714.7L236.3 2714.7Z" fill="url(#gb6)"/>
<path d="M236.3 2630.1L242.3 2632.7L248.3 2635.3L254.3 2637.9L260.3 2640.4L262 2641.2L266.3 2640.4L272.3 2639.3L278.3 2638.2L284.3 2637.1L290.3 2636L296.3 2634.9L299 2634.4L302.3 2635.1L308.3 2636.4L314.3 2637.6L319 2638.6L320.3 2638.1L326.3 2635.7L331.5 2633.7L332.3 2634.6L338.3 2641.5L344.3 2648.4L346 2650.4L350.3 2648.4L356.3 2645.6L361 2643.5L362.3 2643.5L368.3 2643.5L374.3 2643.6L380.3 2643.6L383.5 2643.6L386.3 2641.9L392.3 2638.3L398.3 2634.7L404.3 2631L405.7 2630.2L410.3 2632.2L416.3 2634.9L422.3 2637.6L425.5 2639L428.3 2639L434.3 2639.1L438 2639.1L440.3 2638.1L446.3 2635.4L452.3 2632.7L452.8 2632.5L458.3 2634L464.3 2635.7L467.6 2636.6L470.3 2636.8L476.3 2637.3L482 2637.8L482.3 2637.8L488.3 2637.9L494.3 2638L500.3 2638.1L506.3 2638.2L512.3 2638.3L518.3 2638.4L524.3 2638.5L530.3 2638.6L536.3 2638.6L542.3 2638.7L548.3 2638.8L554.3 2638.9L560.3 2639L566.3 2639.1L572.3 2639.2L578.3 2639.3L584.3 2639.4L590.3 2639.5L596.3 2639.6L602.3 2639.6L608.3 2639.7L614.3 2639.8L620.3 2639.9L626.3 2640L632.3 2640.2L638.3 2640.3L644.3 2640.5L650.3 2640.6L656.3 2640.8L662.3 2641L668.3 2641.1L674.3 2641.3L680.3 2641.4L686.3 2641.6L692.3 2641.7L698.3 2641.9L704.3 2642.1L710.3 2642.2L716.3 2642.4L722.3 2642.5L728.3 2642.7L734.3 2642.9L740.3 2643.2L746.3 2643.4L752.3 2643.6L758.3 2643.8L764.3 2644.1L770.3 2644.3L776.3 2644.5L782.3 2644.7L788.3 2645L794.3 2645.2L800.3 2645.4L806.3 2645.6L812.3 2645.8L818.3 2646.1L824.3 2646.3L830.3 2646.5L836.3 2646.9L842.3 2647.3L848.3 2647.6L854.3 2648L860.3 2648.4L866.3 2648.7L872.3 2649.1L878.3 2649.5L884.3 2649.8L890.3 2650.2L896.3 2650.6L902.3 2650.9L908.3 2651.3L914.3 2651.7L920.3 2652L926.3 2652.4L932.3 2652.8L938.3 2653.3L944.3 2653.7L950.3 2654.1L956.3 2654.5L962.3 2654.9L968.3 2655.3L974.3 2655.7L980.3 2656.1L986.3 2656.6L992.3 2657L998.3 2657.4L1004.3 2657.9L1010.3 2658.4L1016.3 2658.9L1022.3 2659.4L1028.3 2660L1034.3 2660.5L1040.3 2661L1046.3 2661.5L1052.3 2662L1058.3 2662.6L1064.3 2663.1L1070.3 2663.6L1076.3 2664.1L1082.3 2664.6L1088.3 2665L1094.3 2665.5L1100.3 2666L1106.3 2666.5L1112.3 2666.9L1118.3 2667.4L1124.3 2667.9L1130.3 2668.4L1136.3 2668.8L1142.3 2669.3L1148.3 2669.8L1154.3 2670.1L1160.3 2670.5L1166.3 2670.8L1172.3 2671.1L1178.3 2671.5L1184.3 2671.8L1190.3 2672.1L1196.3 2672.5L1202.3 2672.8L1208.3 2673.1L1214.3 2673.5L1220.3 2673.8L1226.3 2674.1L1232.3 2674.3L1238.3 2674.6L1244.3 2674.8L1250.3 2675.1L1256.3 2675.3L1262.3 2675.6L1268.3 2675.8L1274.3 2676.1L1280.3 2676.3L1286.3 2676.6L1292.3 2676.8L1298.3 2677.1L1304.3 2677.3L1310.3 2677.6L1316.3 2677.9L1322.3 2678.1L1328.3 2678.4L1334.3 2678.7L1340.3 2679L1346.3 2679.2L1352.3 2679.5L1358.3 2679.8L1364.3 2680L1370.3 2680.3L1376.3 2680.6L1382.3 2680.8L1388.3 2681.1L1394.3 2681.4L1400.3 2681.7L1406.3 2681.9L1412.3 2682.2L1418.3 2682.5L1424.3 2682.7L1430.3 2683L1436.3 2683.3L1442.3 2683.6L1448.3 2683.8L1454.3 2683.9L1460.3 2684.1L1466.3 2684.3L1472.3 2684.4L1478.3 2684.6L1484.3 2684.8L1490.3 2684.9L1496.3 2685.1L1502.3 2685.3L1508.3 2685.4L1514.3 2685.6L1520.3 2685.8L1526.3 2685.9L1532.3 2686.1L1538.3 2686.3L1544.3 2686.4L1550.3 2686.6L1556.3 2686.8L1562.3 2687L1568.3 2687.1L1574.3 2687.3L1580.3 2687.5L1586.3 2687.6L1592.3 2687.8L1598.3 2688L1604.3 2688L1610.3 2688.1L1616.3 2688.2L1622.3 2688.2L1628.3 2688.3L1634.3 2688.3L1640.3 2688.4L1646.3 2688.5L1652.3 2688.5L1658.3 2688.6L1664.3 2688.6L1670.3 2688.7L1676.3 2688.8L1682.3 2688.8L1688.3 2688.9L1694.3 2688.9L1700.3 2689L1706.3 2689.1L1712.3 2689.1L1718.3 2689.2L1724.3 2689.2L1730.3 2689.3L1736.3 2689.4L1742.3 2689.4L1748.3 2689.5L1754.3 2689.5L1760.3 2689.5L1766.3 2689.6L1772.3 2689.6L1778.3 2689.6L1784.3 2689.6L1790.3 2689.7L1796.3 2689.7L1802.3 2689.7L1808.3 2689.7L1814.3 2689.7L1820.3 2689.8L1826.3 2689.8L1832.3 2689.8L1838.3 2689.8L1844.3 2689.9L1850.3 2689.9L1856.3 2689.9L1862.3 2689.9L1868.3 2689.9L1874.3 2690L1880.3 2690L1886.3 2690L1892.3 2690L1898.3 2690.1L1900 2690.1L1904.3 2690.8L1910.3 2691.8L1915 2692.6L1916.3 2692.3L1922.3 2690.6L1928.3 2689L1934.3 2687.4L1935 2687.2L1940.3 2687.3L1946.3 2687.4L1952.3 2687.6L1958.3 2687.7L1964.3 2687.8L1964.8 2687.8L1970.3 2690.8L1976.3 2694.1L1979.6 2695.9L1982.3 2695.4L1988.3 2694.4L1994.3 2693.3L1999.4 2692.4L2000.3 2692.5L2006.3 2692.6L2012.3 2692.7L2018.3 2692.9" fill="none" stroke="#b074df" stroke-width="10.0" stroke-linejoin="round" />
<path d="M236.3 2623.1L242.3 2625.6L248.3 2628L254.3 2630.5L260.3 2633L262 2633.7L266.3 2632.8L272.3 2631.6L278.3 2630.3L284.3 2629.1L290.3 2627.9L296.3 2626.6L299 2626.1L302.3 2626.7L308.3 2627.8L314.3 2628.9L319 2629.7L320.3 2629.2L326.3 2626.6L331.5 2624.4L332.3 2625.3L338.3 2632.1L344.3 2638.8L346 2640.7L350.3 2638.6L356.3 2635.6L361 2633.3L362.3 2633.3L368.3 2633.1L374.3 2632.9L380.3 2632.7L383.5 2632.6L386.3 2630.8L392.3 2626.9L398.3 2623.1L404.3 2619.2L405.7 2618.3L410.3 2620.1L416.3 2622.5L422.3 2624.9L425.5 2626.1L428.3 2626L434.3 2625.7L438 2625.5L440.3 2624.4L446.3 2621.4L452.3 2618.3L452.8 2618.1L458.3 2619.2L464.3 2620.5L467.6 2621.2L470.3 2621.2L476.3 2621.3L482 2621.3L482.3 2621.3L488.3 2620.9L494.3 2620.4L500.3 2620L506.3 2619.5L512.3 2618.9L518.3 2618.4L524.3 2617.7L530.3 2617.1L536.3 2616.4L542.3 2615.6L548.3 2614.7L554.3 2613.8L560.3 2612.9L566.3 2611.8L572.3 2610.6L578.3 2609.4L584.3 2608.1L590.3 2606.6L596.3 2605L602.3 2603.3L608.3 2601.5L614.3 2599.5L620.3 2597.3L626.3 2595L632.3 2592.5L638.3 2589.8L644.3 2587L650.3 2583.9L656.3 2580.5L662.3 2577L668.3 2573.1L674.3 2569L680.3 2564.5L686.3 2559.8L692.3 2554.7L698.3 2549.4L704.3 2543.4L710.3 2536.9L716.3 2530.1L722.3 2522.9L728.3 2515.4L734.3 2507.5L740.3 2499.2L746.3 2490.6L752.3 2481.6L758.3 2472.2L764.3 2462.4L770.3 2452.2L776.3 2441.7L782.3 2430.9L788.3 2419.9L794.3 2408.6L800.3 2397L806.3 2385.1L812.3 2373L818.3 2360.7L824.3 2348.2L830.3 2335.7L836.3 2323.5L842.3 2311.3L848.3 2299.1L854.3 2287L860.3 2275L866.3 2263.2L872.3 2251.6L878.3 2240.4L884.3 2229.5L890.3 2219.1L896.3 2209.1L902.3 2199.9L908.3 2191.6L914.3 2184L920.3 2177.2L926.3 2171.2L932.3 2166.1L938.3 2162L944.3 2158.7L950.3 2156.4L956.3 2155.1L962.3 2154.7L968.3 2155.2L974.3 2155.7L980.3 2156.8L986.3 2158.6L992.3 2161.2L998.3 2164.5L1004.3 2168.5L1010.3 2173.2L1016.3 2178.3L1022.3 2184L1028.3 2190L1034.3 2196.8L1040.3 2204L1046.3 2211.4L1052.3 2219L1058.3 2226.6L1064.3 2234.3L1070.3 2242L1076.3 2249.6L1082.3 2257L1088.3 2264.3L1094.3 2271.6L1100.3 2278.8L1106.3 2285.8L1112.3 2292.4L1118.3 2298.7L1124.3 2304.7L1130.3 2310.3L1136.3 2315.5L1142.3 2320.3L1148.3 2324.7L1154.3 2328.8L1160.3 2332.5L1166.3 2335.8L1172.3 2338.7L1178.3 2341.2L1184.3 2343.7L1190.3 2345.9L1196.3 2347.8L1202.3 2349.3L1208.3 2350.6L1214.3 2351.4L1220.3 2351.8L1226.3 2351.9L1232.3 2351.9L1238.3 2351.7L1244.3 2351.1L1250.3 2350.1L1256.3 2349.2L1262.3 2348.2L1268.3 2347.3L1274.3 2346.5L1280.3 2345.8L1286.3 2345.2L1292.3 2344.8L1298.3 2344.6L1304.3 2344.7L1310.3 2345L1316.3 2345.6L1322.3 2346.5L1328.3 2347.8L1334.3 2349.4L1340.3 2351.3L1346.3 2353.5L1352.3 2356L1358.3 2358.9L1364.3 2362.1L1370.3 2365.6L1376.3 2369.5L1382.3 2373.6L1388.3 2378.1L1394.3 2382.9L1400.3 2387.9L1406.3 2393.1L1412.3 2398.6L1418.3 2404.3L1424.3 2410.2L1430.3 2416.3L1436.3 2422.6L1442.3 2429L1448.3 2435.5L1454.3 2442.1L1460.3 2448.8L1466.3 2455.5L1472.3 2462.3L1478.3 2469.2L1484.3 2476.1L1490.3 2482.9L1496.3 2489.8L1502.3 2496.6L1508.3 2503.4L1514.3 2510.1L1520.3 2516.7L1526.3 2523.3L1532.3 2529.7L1538.3 2536.1L1544.3 2542.3L1550.3 2548.4L1556.3 2554.3L1562.3 2560.2L1568.3 2565.8L1574.3 2571.3L1580.3 2576.7L1586.3 2581.8L1592.3 2586.8L1598.3 2591.6L1604.3 2596.2L1610.3 2600.6L1616.3 2604.8L1622.3 2608.8L1628.3 2612.6L1634.3 2616.3L1640.3 2619.8L1646.3 2623.2L1652.3 2626.4L1658.3 2629.4L1664.3 2632.3L1670.3 2635.1L1676.3 2637.6L1682.3 2640.1L1688.3 2642.4L1694.3 2644.6L1700.3 2646.7L1706.3 2648.8L1712.3 2650.8L1718.3 2652.7L1724.3 2654.5L1730.3 2656.2L1736.3 2657.8L1742.3 2659.3L1748.3 2660.7L1754.3 2662L1760.3 2663.3L1766.3 2664.4L1772.3 2665.5L1778.3 2666.6L1784.3 2667.5L1790.3 2668.5L1796.3 2669.3L1802.3 2670.2L1808.3 2670.9L1814.3 2671.7L1820.3 2672.4L1826.3 2673L1832.3 2673.7L1838.3 2674.3L1844.3 2674.8L1850.3 2675.3L1856.3 2675.9L1862.3 2676.3L1868.3 2676.8L1874.3 2677.2L1880.3 2677.7L1886.3 2678L1892.3 2678.4L1898.3 2678.8L1900 2678.9L1904.3 2679.9L1910.3 2681.2L1915 2682.2L1916.3 2681.9L1922.3 2680.6L1928.3 2679.2L1934.3 2677.8L1935 2677.7L1940.3 2678L1946.3 2678.4L1952.3 2678.7L1958.3 2679.1L1964.3 2679.4L1964.8 2679.4L1970.3 2682.6L1976.3 2686L1979.6 2687.9L1982.3 2687.6L1988.3 2686.7L1994.3 2685.8L1999.4 2685.1L2000.3 2685.1L2006.3 2685.4L2012.3 2685.7L2018.3 2686" fill="none" stroke="#0000ff" stroke-width="9.5" stroke-linejoin="round" />
</g>
<rect x="270.6" y="1956.0" width="103.0" height="85.0" fill="#bebebe"/>
<text transform="translate(278.0 2018.8) scale(1 0.965)" font-size="60.0" text-anchor="start">CN</text>
<rect x="252.0" y="2517.8" width="225.0" height="85.2" fill="#ffb0d9"/>
<text transform="translate(259.3 2579.4) scale(1 0.965)" font-size="60.9" text-anchor="start">3CDCN</text>
<text transform="translate(549.4 1562.0) scale(1 0.965)" font-size="61.0" text-anchor="start">288.1 eV</text>
<text transform="translate(1144.4 1905.5) scale(1 0.965)" font-size="61.0" text-anchor="start">285.0 eV</text>
<text transform="translate(1777.5 1591.5) scale(1 0.965)" font-size="61.2" text-anchor="start">C 1s</text>
<text transform="translate(596.9 2208.0) scale(1 0.965)" font-size="60.6" text-anchor="start">287.1 eV</text>
<text transform="translate(1462.4 2329.0) scale(1 0.965)" font-size="60.8" text-anchor="start">284.5 eV</text>
<text transform="translate(1563.6 2531.2) scale(1 0.965)" font-size="60.6" text-anchor="start">285.4 eV</text>
<line x1="831.0" y1="2194.8" x2="916.1" y2="2211.7" stroke="#000" stroke-width="1.5"/>
<polygon points="942.6,2217.0 911.9,2217.5 914.4,2204.8" fill="#000"/>
<line x1="1463.5" y1="2320.0" x2="1373.3" y2="2405.0" stroke="#000" stroke-width="1.5"/>
<polygon points="1353.7,2423.5 1371.1,2398.2 1380.0,2407.7" fill="#000"/>
<line x1="1565.0" y1="2522.5" x2="1260.6" y2="2578.0" stroke="#000" stroke-width="1.5"/>
<polygon points="1234.0,2582.8 1262.3,2571.0 1264.7,2583.8" fill="#000"/>
<rect x="234.0" y="2994.3" width="6.0" height="1210.7" fill="#000"/>
<rect x="2013.0" y="2994.3" width="6.0" height="1210.7" fill="#000"/>
<rect x="234.0" y="2994.3" width="1785.0" height="6.0" fill="#000"/>
<rect x="232.0" y="4195.0" width="1789.0" height="10.0" fill="#000"/>
<rect x="232.0" y="4200.0" width="10.0" height="23.0" fill="#000"/>
<rect x="454.4" y="4200.0" width="10.0" height="23.0" fill="#000"/>
<rect x="676.8" y="4200.0" width="10.0" height="23.0" fill="#000"/>
<rect x="899.1" y="4200.0" width="10.0" height="23.0" fill="#000"/>
<rect x="1121.5" y="4200.0" width="10.0" height="23.0" fill="#000"/>
<rect x="1343.9" y="4200.0" width="10.0" height="23.0" fill="#000"/>
<rect x="1566.2" y="4200.0" width="10.0" height="23.0" fill="#000"/>
<rect x="1788.6" y="4200.0" width="10.0" height="23.0" fill="#000"/>
<rect x="2011.0" y="4200.0" width="10.0" height="23.0" fill="#000"/>
<rect x="343.2" y="4200.0" width="10.0" height="12.0" fill="#000"/>
<rect x="565.6" y="4200.0" width="10.0" height="12.0" fill="#000"/>
<rect x="787.9" y="4200.0" width="10.0" height="12.0" fill="#000"/>
<rect x="1010.3" y="4200.0" width="10.0" height="12.0" fill="#000"/>
<rect x="1232.7" y="4200.0" width="10.0" height="12.0" fill="#000"/>
<rect x="1455.1" y="4200.0" width="10.0" height="12.0" fill="#000"/>
<rect x="1677.4" y="4200.0" width="10.0" height="12.0" fill="#000"/>
<rect x="1899.8" y="4200.0" width="10.0" height="12.0" fill="#000"/>
<text transform="translate(237.0 4295.3) scale(1 0.985)" font-size="74.0" text-anchor="middle">403</text>
<text transform="translate(459.4 4295.3) scale(1 0.985)" font-size="74.0" text-anchor="middle">402</text>
<text transform="translate(681.8 4295.3) scale(1 0.985)" font-size="74.0" text-anchor="middle">401</text>
<text transform="translate(904.1 4295.3) scale(1 0.985)" font-size="74.0" text-anchor="middle">400</text>
<text transform="translate(1126.5 4295.3) scale(1 0.985)" font-size="74.0" text-anchor="middle">399</text>
<text transform="translate(1348.9 4295.3) scale(1 0.985)" font-size="74.0" text-anchor="middle">398</text>
<text transform="translate(1571.2 4295.3) scale(1 0.985)" font-size="74.0" text-anchor="middle">397</text>
<text transform="translate(1793.6 4295.3) scale(1 0.985)" font-size="74.0" text-anchor="middle">396</text>
<text transform="translate(2016.0 4295.3) scale(1 0.985)" font-size="74.0" text-anchor="middle">395</text>
<text transform="translate(783.6 4400.5) scale(1 0.965)" font-size="80.4" text-anchor="start">Binding energy (eV)</text>
<text transform="translate(129.0 3591.5) rotate(-90)" font-size="78.9" text-anchor="middle">Intensity (a.u.)</text>
<text transform="translate(30.1 3156.5) scale(1 0.965)" font-size="150.5" text-anchor="start">(c)</text>
<g clip-path="url(#cc)">
<path d="M236.3 3571.6L258.3 3570.6L280.3 3574.2L302.3 3571L324.3 3574.3L346.3 3570.5L368.3 3573.8L390.3 3569.6L412.3 3567.8L434.3 3559.2L456.3 3554.5L478.3 3545.1L500.3 3535.1L522.3 3527.7L544.3 3514.5L566.3 3507.8L588.3 3502.7L610.3 3494.2L632.3 3487.3L654.3 3490.3L676.3 3479.8L698.3 3473.6L720.3 3471.2L742.3 3463.9L764.3 3458.5L786.3 3452.4L808.3 3453.6L830.3 3440.6L852.3 3434.5L874.3 3429.4L896.3 3426.7L918.3 3409.5L940.3 3395.6L962.3 3390.5L984.3 3354.1L1006.3 3331L1028.3 3302.1L1050.3 3269.6L1072.3 3211.5L1094.3 3156.5L1116.3 3127.7L1138.3 3090.6L1160.3 3073.7L1182.3 3070.5L1204.3 3070.1L1226.3 3081.1L1248.3 3102.2L1270.3 3148.4L1292.3 3195.8L1314.3 3241.5L1336.3 3294.2L1358.3 3351.7L1380.3 3399.2L1402.3 3437L1424.3 3474.9L1446.3 3508L1468.3 3527.1L1490.3 3543.1L1512.3 3555.9L1534.3 3563.4L1556.3 3568.8L1578.3 3569.1L1600.3 3577.1L1622.3 3576L1644.3 3575.3L1666.3 3578.3L1688.3 3577.7L1710.3 3577.5L1732.3 3578.9L1754.3 3580.4L1776.3 3578.3L1798.3 3579.6L1820.3 3580.3L1842.3 3576.4L1864.3 3577.1L1886.3 3578.6L1908.3 3575.6L1930.3 3577.4L1952.3 3579.3L1974.3 3579L1996.3 3578.4L2018.3 3575.4" fill="none" stroke="#4b4b4b" stroke-width="9.0" stroke-linejoin="round" />
<path d="M236.3 3577.7L242.3 3577.7L248.3 3577.7L254.3 3577.7L260.3 3577.7L266.3 3577.7L272.3 3577.7L278.3 3577.7L284.3 3577.7L290.3 3577.7L296.3 3577.7L302.3 3577.7L308.3 3577.7L314.3 3577.7L320.3 3577.7L326.3 3577.7L332.3 3577.7L338.3 3577.7L344.3 3577.7L350.3 3577.7L356.3 3577.7L362.3 3577.7L368.3 3577.7L374.3 3577.7L380.3 3577.7L386.3 3577.7L392.3 3577.7L398.3 3577.7L404.3 3577.7L410.3 3577.7L416.3 3577.7L422.3 3577.7L428.3 3577.7L434.3 3577.7L440.3 3577.7L446.3 3577.7L452.3 3577.7L458.3 3577.7L464.3 3577.7L470.3 3577.7L476.3 3577.7L482.3 3577.7L488.3 3577.7L494.3 3577.7L500.3 3577.7L506.3 3577.7L512.3 3577.7L518.3 3577.7L524.3 3577.7L530.3 3577.7L536.3 3577.7L542.3 3577.7L548.3 3577.7L554.3 3577.7L560.3 3577.7L566.3 3577.7L572.3 3577.7L578.3 3577.7L584.3 3577.7L590.3 3577.7L596.3 3577.7L602.3 3577.7L608.3 3577.7L614.3 3577.7L620.3 3577.7L626.3 3577.7L632.3 3577.7L638.3 3577.7L644.3 3577.7L650.3 3577.7L656.3 3577.7L662.3 3577.7L668.3 3577.7L674.3 3577.7L680.3 3577.7L686.3 3577.7L692.3 3577.7L698.3 3577.7L704.3 3577.7L710.3 3577.7L716.3 3577.7L722.3 3577.7L728.3 3577.6L734.3 3577.6L740.3 3577.6L746.3 3577.6L752.3 3577.6L758.3 3577.5L764.3 3577.5L770.3 3577.4L776.3 3577.4L782.3 3577.3L788.3 3577.2L794.3 3577.1L800.3 3577L806.3 3576.9L812.3 3576.7L818.3 3576.5L824.3 3576.3L830.3 3576L836.3 3575.7L842.3 3575.3L848.3 3574.9L854.3 3574.3L860.3 3573.8L866.3 3573.1L872.3 3572.3L878.3 3571.4L884.3 3570.4L890.3 3569.2L896.3 3567.9L902.3 3566.4L908.3 3564.7L914.3 3562.8L920.3 3560.6L926.3 3558.2L932.3 3555.3L938.3 3552L944.3 3548.4L950.3 3544.4L956.3 3539.9L962.3 3535.1L968.3 3529.7L974.3 3523.9L980.3 3517.5L986.3 3510.6L992.3 3503.2L998.3 3495.3L1004.3 3486.8L1010.3 3477.7L1016.3 3467.9L1022.3 3457.6L1028.3 3446.9L1034.3 3435.6L1040.3 3422.9L1046.3 3409.7L1052.3 3396.2L1058.3 3382.3L1064.3 3368.2L1070.3 3354L1076.3 3339.8L1082.3 3325L1088.3 3308.8L1094.3 3293.1L1100.3 3277.9L1106.3 3263.3L1112.3 3249.2L1118.3 3236L1124.3 3223.7L1130.3 3212.3L1136.3 3202.7L1142.3 3193.8L1148.3 3185.5L1154.3 3177.9L1160.3 3171L1166.3 3164.9L1172.3 3159.5L1178.3 3154.8L1184.3 3151L1190.3 3147.8L1196.3 3145.5L1202.3 3143.8L1208.3 3142.9L1214.3 3142.7L1220.3 3143.5L1226.3 3145.2L1232.3 3148L1238.3 3151.8L1244.3 3156.7L1250.3 3162.5L1256.3 3169.3L1262.3 3177.1L1268.3 3185.7L1274.3 3195.1L1280.3 3205.2L1286.3 3216L1292.3 3227.4L1298.3 3239.3L1304.3 3251.7L1310.3 3264.5L1316.3 3277.5L1322.3 3290.9L1328.3 3304.3L1334.3 3317.8L1340.3 3331.1L1346.3 3344.3L1352.3 3357.3L1358.3 3370.2L1364.3 3382.8L1370.3 3395.1L1376.3 3407L1382.3 3418.6L1388.3 3429.8L1394.3 3440.5L1400.3 3450.8L1406.3 3460.6L1412.3 3470L1418.3 3478.8L1424.3 3487.2L1430.3 3495.1L1436.3 3502.4L1442.3 3509.3L1448.3 3515.7L1454.3 3521.7L1460.3 3527.2L1466.3 3532.3L1472.3 3537L1478.3 3541.3L1484.3 3545.2L1490.3 3548.8L1496.3 3552.1L1502.3 3555L1508.3 3557.7L1514.3 3560.1L1520.3 3562.2L1526.3 3564.1L1532.3 3565.8L1538.3 3567.3L1544.3 3568.7L1550.3 3569.9L1556.3 3570.9L1562.3 3571.8L1568.3 3572.7L1574.3 3573.4L1580.3 3574L1586.3 3574.5L1592.3 3575L1598.3 3575.4L1604.3 3575.7L1610.3 3576L1616.3 3576.3L1622.3 3576.5L1628.3 3576.7L1634.3 3576.9L1640.3 3577L1646.3 3577.1L1652.3 3577.2L1658.3 3577.3L1664.3 3577.4L1670.3 3577.4L1676.3 3577.5L1682.3 3577.5L1688.3 3577.6L1694.3 3577.6L1700.3 3577.6L1706.3 3577.6L1712.3 3577.6L1718.3 3577.6L1724.3 3577.7L1730.3 3577.7L1736.3 3577.7L1742.3 3577.7L1748.3 3577.7L1754.3 3577.7L1760.3 3577.7L1766.3 3577.7L1772.3 3577.7L1778.3 3577.7L1784.3 3577.7L1790.3 3577.7L1796.3 3577.7L1802.3 3577.7L1808.3 3577.7L1814.3 3577.7L1820.3 3577.7L1826.3 3577.7L1832.3 3577.7L1838.3 3577.7L1844.3 3577.7L1850.3 3577.7L1856.3 3577.7L1862.3 3577.7L1868.3 3577.7L1874.3 3577.7L1880.3 3577.7L1886.3 3577.7L1892.3 3577.7L1898.3 3577.7L1904.3 3577.7L1910.3 3577.7L1916.3 3577.7L1922.3 3577.7L1928.3 3577.7L1934.3 3577.7L1940.3 3577.7L1946.3 3577.7L1952.3 3577.7L1958.3 3577.7L1964.3 3577.7L1970.3 3577.7L1976.3 3577.7L1982.3 3577.7L1988.3 3577.7L1994.3 3577.7L2000.3 3577.7L2006.3 3577.7L2012.3 3577.7L2018.3 3577.7L2018.3 3586L236.3 3586Z" fill="url(#gc1)"/>
<path d="M236.3 3577.7L242.3 3577.7L248.3 3577.7L254.3 3577.7L260.3 3577.7L266.3 3577.7L272.3 3577.7L278.3 3577.7L284.3 3577.7L290.3 3577.7L296.3 3577.7L302.3 3577.7L308.3 3577.7L314.3 3577.7L320.3 3577.7L326.3 3577.7L332.3 3577.7L338.3 3577.7L344.3 3577.7L350.3 3577.7L356.3 3577.7L362.3 3577.7L368.3 3577.7L374.3 3577.7L380.3 3577.7L386.3 3577.7L392.3 3577.7L398.3 3577.7L404.3 3577.7L410.3 3577.7L416.3 3577.7L422.3 3577.7L428.3 3577.7L434.3 3577.7L440.3 3577.7L446.3 3577.7L452.3 3577.7L458.3 3577.7L464.3 3577.7L470.3 3577.7L476.3 3577.7L482.3 3577.7L488.3 3577.7L494.3 3577.7L500.3 3577.7L506.3 3577.7L512.3 3577.7L518.3 3577.7L524.3 3577.7L530.3 3577.7L536.3 3577.7L542.3 3577.7L548.3 3577.7L554.3 3577.7L560.3 3577.7L566.3 3577.7L572.3 3577.7L578.3 3577.7L584.3 3577.7L590.3 3577.7L596.3 3577.7L602.3 3577.7L608.3 3577.7L614.3 3577.7L620.3 3577.7L626.3 3577.7L632.3 3577.7L638.3 3577.7L644.3 3577.7L650.3 3577.7L656.3 3577.7L662.3 3577.7L668.3 3577.7L674.3 3577.7L680.3 3577.7L686.3 3577.7L692.3 3577.7L698.3 3577.7L704.3 3577.7L710.3 3577.7L716.3 3577.7L722.3 3577.7L728.3 3577.6L734.3 3577.6L740.3 3577.6L746.3 3577.6L752.3 3577.6L758.3 3577.5L764.3 3577.5L770.3 3577.4L776.3 3577.4L782.3 3577.3L788.3 3577.2L794.3 3577.1L800.3 3577L806.3 3576.9L812.3 3576.7L818.3 3576.5L824.3 3576.3L830.3 3576L836.3 3575.7L842.3 3575.3L848.3 3574.9L854.3 3574.3L860.3 3573.8L866.3 3573.1L872.3 3572.3L878.3 3571.4L884.3 3570.4L890.3 3569.2L896.3 3567.9L902.3 3566.4L908.3 3564.7L914.3 3562.8L920.3 3560.6L926.3 3558.2L932.3 3555.3L938.3 3552L944.3 3548.4L950.3 3544.4L956.3 3539.9L962.3 3535.1L968.3 3529.7L974.3 3523.9L980.3 3517.5L986.3 3510.6L992.3 3503.2L998.3 3495.3L1004.3 3486.8L1010.3 3477.7L1016.3 3467.9L1022.3 3457.6L1028.3 3446.9L1034.3 3435.6L1040.3 3422.9L1046.3 3409.7L1052.3 3396.2L1058.3 3382.3L1064.3 3368.2L1070.3 3354L1076.3 3339.8L1082.3 3325L1088.3 3308.8L1094.3 3293.1L1100.3 3277.9L1106.3 3263.3L1112.3 3249.2L1118.3 3236L1124.3 3223.7L1130.3 3212.3L1136.3 3202.7L1142.3 3193.8L1148.3 3185.5L1154.3 3177.9L1160.3 3171L1166.3 3164.9L1172.3 3159.5L1178.3 3154.8L1184.3 3151L1190.3 3147.8L1196.3 3145.5L1202.3 3143.8L1208.3 3142.9L1214.3 3142.7L1220.3 3143.5L1226.3 3145.2L1232.3 3148L1238.3 3151.8L1244.3 3156.7L1250.3 3162.5L1256.3 3169.3L1262.3 3177.1L1268.3 3185.7L1274.3 3195.1L1280.3 3205.2L1286.3 3216L1292.3 3227.4L1298.3 3239.3L1304.3 3251.7L1310.3 3264.5L1316.3 3277.5L1322.3 3290.9L1328.3 3304.3L1334.3 3317.8L1340.3 3331.1L1346.3 3344.3L1352.3 3357.3L1358.3 3370.2L1364.3 3382.8L1370.3 3395.1L1376.3 3407L1382.3 3418.6L1388.3 3429.8L1394.3 3440.5L1400.3 3450.8L1406.3 3460.6L1412.3 3470L1418.3 3478.8L1424.3 3487.2L1430.3 3495.1L1436.3 3502.4L1442.3 3509.3L1448.3 3515.7L1454.3 3521.7L1460.3 3527.2L1466.3 3532.3L1472.3 3537L1478.3 3541.3L1484.3 3545.2L1490.3 3548.8L1496.3 3552.1L1502.3 3555L1508.3 3557.7L1514.3 3560.1L1520.3 3562.2L1526.3 3564.1L1532.3 3565.8L1538.3 3567.3L1544.3 3568.7L1550.3 3569.9L1556.3 3570.9L1562.3 3571.8L1568.3 3572.7L1574.3 3573.4L1580.3 3574L1586.3 3574.5L1592.3 3575L1598.3 3575.4L1604.3 3575.7L1610.3 3576L1616.3 3576.3L1622.3 3576.5L1628.3 3576.7L1634.3 3576.9L1640.3 3577L1646.3 3577.1L1652.3 3577.2L1658.3 3577.3L1664.3 3577.4L1670.3 3577.4L1676.3 3577.5L1682.3 3577.5L1688.3 3577.6L1694.3 3577.6L1700.3 3577.6L1706.3 3577.6L1712.3 3577.6L1718.3 3577.6L1724.3 3577.7L1730.3 3577.7L1736.3 3577.7L1742.3 3577.7L1748.3 3577.7L1754.3 3577.7L1760.3 3577.7L1766.3 3577.7L1772.3 3577.7L1778.3 3577.7L1784.3 3577.7L1790.3 3577.7L1796.3 3577.7L1802.3 3577.7L1808.3 3577.7L1814.3 3577.7L1820.3 3577.7L1826.3 3577.7L1832.3 3577.7L1838.3 3577.7L1844.3 3577.7L1850.3 3577.7L1856.3 3577.7L1862.3 3577.7L1868.3 3577.7L1874.3 3577.7L1880.3 3577.7L1886.3 3577.7L1892.3 3577.7L1898.3 3577.7L1904.3 3577.7L1910.3 3577.7L1916.3 3577.7L1922.3 3577.7L1928.3 3577.7L1934.3 3577.7L1940.3 3577.7L1946.3 3577.7L1952.3 3577.7L1958.3 3577.7L1964.3 3577.7L1970.3 3577.7L1976.3 3577.7L1982.3 3577.7L1988.3 3577.7L1994.3 3577.7L2000.3 3577.7L2006.3 3577.7L2012.3 3577.7L2018.3 3577.7" fill="none" stroke="#0000ff" stroke-width="6.0" stroke-linejoin="round" />
<path d="M236.3 3577.3L242.3 3577.3L248.3 3577.2L254.3 3577.2L260.3 3577.1L266.3 3577L272.3 3577L278.3 3576.9L284.3 3576.8L290.3 3576.7L296.3 3576.6L302.3 3576.4L308.3 3576.3L314.3 3576.2L320.3 3576L326.3 3575.8L332.3 3575.6L338.3 3575.4L344.3 3575.2L350.3 3574.9L356.3 3574.7L362.3 3574.4L368.3 3574.1L374.3 3573.7L380.3 3573.4L386.3 3573L392.3 3572.6L398.3 3572.1L404.3 3571.6L410.3 3571.1L416.3 3570.6L422.3 3570L428.3 3569.4L434.3 3568.7L440.3 3568L446.3 3567.3L452.3 3566.5L458.3 3565.7L464.3 3564.8L470.3 3563.9L476.3 3563L482.3 3562L488.3 3560.9L494.3 3559.8L500.3 3558.7L506.3 3557.4L512.3 3556.2L518.3 3554.9L524.3 3553.5L530.3 3552.1L536.3 3550.6L542.3 3549.1L548.3 3547.5L554.3 3545.8L560.3 3544.1L566.3 3542.4L572.3 3540.6L578.3 3538.7L584.3 3536.8L590.3 3534.8L596.3 3532.8L602.3 3530.8L608.3 3528.7L614.3 3526.5L620.3 3524.3L626.3 3522.1L632.3 3519.8L638.3 3517.5L644.3 3515.2L650.3 3512.8L656.3 3510.4L662.3 3508L668.3 3505.5L674.3 3503L680.3 3500.5L686.3 3498L692.3 3495.5L698.3 3493L704.3 3490.5L710.3 3487.9L716.3 3485.4L722.3 3482.9L728.3 3480.4L734.3 3477.9L740.3 3475.5L746.3 3473L752.3 3470.6L758.3 3468.2L764.3 3465.9L770.3 3463.6L776.3 3461.3L782.3 3459.1L788.3 3456.9L794.3 3454.8L800.3 3452.8L806.3 3450.8L812.3 3448.8L818.3 3447L824.3 3445.2L830.3 3443.4L836.3 3441.8L842.3 3440.2L848.3 3438.7L854.3 3437.3L860.3 3435.9L866.3 3434.7L872.3 3433.5L878.3 3432.5L884.3 3431.5L890.3 3430.6L896.3 3429.8L902.3 3429.1L908.3 3428.4L914.3 3427.9L920.3 3427.5L926.3 3427.2L932.3 3426.9L938.3 3426.8L944.3 3426.7L950.3 3426.7L956.3 3426.9L962.3 3427.2L968.3 3427.6L974.3 3428.2L980.3 3428.8L986.3 3429.6L992.3 3430.5L998.3 3431.5L1004.3 3432.7L1010.3 3433.9L1016.3 3435.2L1022.3 3436.7L1028.3 3438.2L1034.3 3439.9L1040.3 3441.6L1046.3 3443.4L1052.3 3445.3L1058.3 3447.3L1064.3 3449.4L1070.3 3451.5L1076.3 3453.7L1082.3 3456L1088.3 3458.3L1094.3 3460.7L1100.3 3463.1L1106.3 3465.6L1112.3 3468.1L1118.3 3470.6L1124.3 3473.2L1130.3 3475.8L1136.3 3478.4L1142.3 3481L1148.3 3483.6L1154.3 3486.2L1160.3 3488.9L1166.3 3491.5L1172.3 3494.1L1178.3 3496.7L1184.3 3499.3L1190.3 3501.9L1196.3 3504.4L1202.3 3506.9L1208.3 3509.4L1214.3 3511.9L1220.3 3514.3L1226.3 3516.7L1232.3 3519L1238.3 3521.3L1244.3 3523.5L1250.3 3525.7L1256.3 3527.9L1262.3 3530L1268.3 3532.1L1274.3 3534.1L1280.3 3536L1286.3 3537.9L1292.3 3539.7L1298.3 3541.5L1304.3 3543.2L1310.3 3544.9L1316.3 3546.5L1322.3 3548.1L1328.3 3549.6L1334.3 3551.1L1340.3 3552.5L1346.3 3553.8L1352.3 3555.1L1358.3 3556.3L1364.3 3557.5L1370.3 3558.7L1376.3 3559.7L1382.3 3560.8L1388.3 3561.8L1394.3 3562.7L1400.3 3563.6L1406.3 3564.5L1412.3 3565.3L1418.3 3566.1L1424.3 3566.8L1430.3 3567.5L1436.3 3568.2L1442.3 3568.8L1448.3 3569.4L1454.3 3569.9L1460.3 3570.5L1466.3 3571L1472.3 3571.4L1478.3 3571.9L1484.3 3572.3L1490.3 3572.7L1496.3 3573L1502.3 3573.4L1508.3 3573.7L1514.3 3574L1520.3 3574.3L1526.3 3574.5L1532.3 3574.8L1538.3 3575L1544.3 3575.2L1550.3 3575.4L1556.3 3575.6L1562.3 3575.8L1568.3 3575.9L1574.3 3576.1L1580.3 3576.2L1586.3 3576.3L1592.3 3576.5L1598.3 3576.6L1604.3 3576.7L1610.3 3576.7L1616.3 3576.8L1622.3 3576.9L1628.3 3577L1634.3 3577L1640.3 3577.1L1646.3 3577.2L1652.3 3577.2L1658.3 3577.3L1664.3 3577.3L1670.3 3577.3L1676.3 3577.4L1682.3 3577.4L1688.3 3577.4L1694.3 3577.5L1700.3 3577.5L1706.3 3577.5L1712.3 3577.5L1718.3 3577.5L1724.3 3577.6L1730.3 3577.6L1736.3 3577.6L1742.3 3577.6L1748.3 3577.6L1754.3 3577.6L1760.3 3577.6L1766.3 3577.6L1772.3 3577.6L1778.3 3577.6L1784.3 3577.7L1790.3 3577.7L1796.3 3577.7L1802.3 3577.7L1808.3 3577.7L1814.3 3577.7L1820.3 3577.7L1826.3 3577.7L1832.3 3577.7L1838.3 3577.7L1844.3 3577.7L1850.3 3577.7L1856.3 3577.7L1862.3 3577.7L1868.3 3577.7L1874.3 3577.7L1880.3 3577.7L1886.3 3577.7L1892.3 3577.7L1898.3 3577.7L1904.3 3577.7L1910.3 3577.7L1916.3 3577.7L1922.3 3577.7L1928.3 3577.7L1934.3 3577.7L1940.3 3577.7L1946.3 3577.7L1952.3 3577.7L1958.3 3577.7L1964.3 3577.7L1970.3 3577.7L1976.3 3577.7L1982.3 3577.7L1988.3 3577.7L1994.3 3577.7L2000.3 3577.7L2006.3 3577.7L2012.3 3577.7L2018.3 3577.7L2018.3 3586L236.3 3586Z" fill="url(#gc2)"/>
<path d="M236.3 3577.3L242.3 3577.3L248.3 3577.2L254.3 3577.2L260.3 3577.1L266.3 3577L272.3 3577L278.3 3576.9L284.3 3576.8L290.3 3576.7L296.3 3576.6L302.3 3576.4L308.3 3576.3L314.3 3576.2L320.3 3576L326.3 3575.8L332.3 3575.6L338.3 3575.4L344.3 3575.2L350.3 3574.9L356.3 3574.7L362.3 3574.4L368.3 3574.1L374.3 3573.7L380.3 3573.4L386.3 3573L392.3 3572.6L398.3 3572.1L404.3 3571.6L410.3 3571.1L416.3 3570.6L422.3 3570L428.3 3569.4L434.3 3568.7L440.3 3568L446.3 3567.3L452.3 3566.5L458.3 3565.7L464.3 3564.8L470.3 3563.9L476.3 3563L482.3 3562L488.3 3560.9L494.3 3559.8L500.3 3558.7L506.3 3557.4L512.3 3556.2L518.3 3554.9L524.3 3553.5L530.3 3552.1L536.3 3550.6L542.3 3549.1L548.3 3547.5L554.3 3545.8L560.3 3544.1L566.3 3542.4L572.3 3540.6L578.3 3538.7L584.3 3536.8L590.3 3534.8L596.3 3532.8L602.3 3530.8L608.3 3528.7L614.3 3526.5L620.3 3524.3L626.3 3522.1L632.3 3519.8L638.3 3517.5L644.3 3515.2L650.3 3512.8L656.3 3510.4L662.3 3508L668.3 3505.5L674.3 3503L680.3 3500.5L686.3 3498L692.3 3495.5L698.3 3493L704.3 3490.5L710.3 3487.9L716.3 3485.4L722.3 3482.9L728.3 3480.4L734.3 3477.9L740.3 3475.5L746.3 3473L752.3 3470.6L758.3 3468.2L764.3 3465.9L770.3 3463.6L776.3 3461.3L782.3 3459.1L788.3 3456.9L794.3 3454.8L800.3 3452.8L806.3 3450.8L812.3 3448.8L818.3 3447L824.3 3445.2L830.3 3443.4L836.3 3441.8L842.3 3440.2L848.3 3438.7L854.3 3437.3L860.3 3435.9L866.3 3434.7L872.3 3433.5L878.3 3432.5L884.3 3431.5L890.3 3430.6L896.3 3429.8L902.3 3429.1L908.3 3428.4L914.3 3427.9L920.3 3427.5L926.3 3427.2L932.3 3426.9L938.3 3426.8L944.3 3426.7L950.3 3426.7L956.3 3426.9L962.3 3427.2L968.3 3427.6L974.3 3428.2L980.3 3428.8L986.3 3429.6L992.3 3430.5L998.3 3431.5L1004.3 3432.7L1010.3 3433.9L1016.3 3435.2L1022.3 3436.7L1028.3 3438.2L1034.3 3439.9L1040.3 3441.6L1046.3 3443.4L1052.3 3445.3L1058.3 3447.3L1064.3 3449.4L1070.3 3451.5L1076.3 3453.7L1082.3 3456L1088.3 3458.3L1094.3 3460.7L1100.3 3463.1L1106.3 3465.6L1112.3 3468.1L1118.3 3470.6L1124.3 3473.2L1130.3 3475.8L1136.3 3478.4L1142.3 3481L1148.3 3483.6L1154.3 3486.2L1160.3 3488.9L1166.3 3491.5L1172.3 3494.1L1178.3 3496.7L1184.3 3499.3L1190.3 3501.9L1196.3 3504.4L1202.3 3506.9L1208.3 3509.4L1214.3 3511.9L1220.3 3514.3L1226.3 3516.7L1232.3 3519L1238.3 3521.3L1244.3 3523.5L1250.3 3525.7L1256.3 3527.9L1262.3 3530L1268.3 3532.1L1274.3 3534.1L1280.3 3536L1286.3 3537.9L1292.3 3539.7L1298.3 3541.5L1304.3 3543.2L1310.3 3544.9L1316.3 3546.5L1322.3 3548.1L1328.3 3549.6L1334.3 3551.1L1340.3 3552.5L1346.3 3553.8L1352.3 3555.1L1358.3 3556.3L1364.3 3557.5L1370.3 3558.7L1376.3 3559.7L1382.3 3560.8L1388.3 3561.8L1394.3 3562.7L1400.3 3563.6L1406.3 3564.5L1412.3 3565.3L1418.3 3566.1L1424.3 3566.8L1430.3 3567.5L1436.3 3568.2L1442.3 3568.8L1448.3 3569.4L1454.3 3569.9L1460.3 3570.5L1466.3 3571L1472.3 3571.4L1478.3 3571.9L1484.3 3572.3L1490.3 3572.7L1496.3 3573L1502.3 3573.4L1508.3 3573.7L1514.3 3574L1520.3 3574.3L1526.3 3574.5L1532.3 3574.8L1538.3 3575L1544.3 3575.2L1550.3 3575.4L1556.3 3575.6L1562.3 3575.8L1568.3 3575.9L1574.3 3576.1L1580.3 3576.2L1586.3 3576.3L1592.3 3576.5L1598.3 3576.6L1604.3 3576.7L1610.3 3576.7L1616.3 3576.8L1622.3 3576.9L1628.3 3577L1634.3 3577L1640.3 3577.1L1646.3 3577.2L1652.3 3577.2L1658.3 3577.3L1664.3 3577.3L1670.3 3577.3L1676.3 3577.4L1682.3 3577.4L1688.3 3577.4L1694.3 3577.5L1700.3 3577.5L1706.3 3577.5L1712.3 3577.5L1718.3 3577.5L1724.3 3577.6L1730.3 3577.6L1736.3 3577.6L1742.3 3577.6L1748.3 3577.6L1754.3 3577.6L1760.3 3577.6L1766.3 3577.6L1772.3 3577.6L1778.3 3577.6L1784.3 3577.7L1790.3 3577.7L1796.3 3577.7L1802.3 3577.7L1808.3 3577.7L1814.3 3577.7L1820.3 3577.7L1826.3 3577.7L1832.3 3577.7L1838.3 3577.7L1844.3 3577.7L1850.3 3577.7L1856.3 3577.7L1862.3 3577.7L1868.3 3577.7L1874.3 3577.7L1880.3 3577.7L1886.3 3577.7L1892.3 3577.7L1898.3 3577.7L1904.3 3577.7L1910.3 3577.7L1916.3 3577.7L1922.3 3577.7L1928.3 3577.7L1934.3 3577.7L1940.3 3577.7L1946.3 3577.7L1952.3 3577.7L1958.3 3577.7L1964.3 3577.7L1970.3 3577.7L1976.3 3577.7L1982.3 3577.7L1988.3 3577.7L1994.3 3577.7L2000.3 3577.7L2006.3 3577.7L2012.3 3577.7L2018.3 3577.7" fill="none" stroke="#ff7f00" stroke-width="6.0" stroke-linejoin="round" />
<path d="M236.3 3577.7L242.3 3577.7L248.3 3577.7L254.3 3577.6L260.3 3577.6L266.3 3577.6L272.3 3577.6L278.3 3577.6L284.3 3577.5L290.3 3577.5L296.3 3577.5L302.3 3577.4L308.3 3577.3L314.3 3577.3L320.3 3577.2L326.3 3577.1L332.3 3577L338.3 3576.8L344.3 3576.6L350.3 3576.4L356.3 3576.2L362.3 3576L368.3 3575.7L374.3 3575.3L380.3 3575L386.3 3574.5L392.3 3574.1L398.3 3573.6L404.3 3573L410.3 3572.3L416.3 3571.6L422.3 3570.9L428.3 3570L434.3 3569.2L440.3 3568.2L446.3 3567.2L452.3 3566.1L458.3 3565L464.3 3563.8L470.3 3562.5L476.3 3561.3L482.3 3560L488.3 3558.6L494.3 3557.3L500.3 3555.9L506.3 3554.6L512.3 3553.2L518.3 3551.9L524.3 3550.7L530.3 3549.5L536.3 3548.3L542.3 3547.3L548.3 3546.3L554.3 3545.5L560.3 3544.7L566.3 3544.1L572.3 3543.6L578.3 3543.3L584.3 3543.1L590.3 3543L596.3 3543.1L602.3 3543.3L608.3 3543.7L614.3 3544.2L620.3 3544.8L626.3 3545.5L632.3 3546.4L638.3 3547.4L644.3 3548.4L650.3 3549.6L656.3 3550.8L662.3 3552L668.3 3553.4L674.3 3554.7L680.3 3556L686.3 3557.4L692.3 3558.8L698.3 3560.1L704.3 3561.4L710.3 3562.7L716.3 3563.9L722.3 3565.1L728.3 3566.2L734.3 3567.3L740.3 3568.3L746.3 3569.2L752.3 3570.1L758.3 3571L764.3 3571.7L770.3 3572.4L776.3 3573L782.3 3573.6L788.3 3574.1L794.3 3574.6L800.3 3575L806.3 3575.4L812.3 3575.7L818.3 3576L824.3 3576.2L830.3 3576.5L836.3 3576.7L842.3 3576.8L848.3 3577L854.3 3577.1L860.3 3577.2L866.3 3577.3L872.3 3577.4L878.3 3577.4L884.3 3577.5L890.3 3577.5L896.3 3577.5L902.3 3577.6L908.3 3577.6L914.3 3577.6L920.3 3577.6L926.3 3577.6L932.3 3577.7L938.3 3577.7L944.3 3577.7L950.3 3577.7L956.3 3577.7L962.3 3577.7L968.3 3577.7L974.3 3577.7L980.3 3577.7L986.3 3577.7L992.3 3577.7L998.3 3577.7L1004.3 3577.7L1010.3 3577.7L1016.3 3577.7L1022.3 3577.7L1028.3 3577.7L1034.3 3577.7L1040.3 3577.7L1046.3 3577.7L1052.3 3577.7L1058.3 3577.7L1064.3 3577.7L1070.3 3577.7L1076.3 3577.7L1082.3 3577.7L1088.3 3577.7L1094.3 3577.7L1100.3 3577.7L1106.3 3577.7L1112.3 3577.7L1118.3 3577.7L1124.3 3577.7L1130.3 3577.7L1136.3 3577.7L1142.3 3577.7L1148.3 3577.7L1154.3 3577.7L1160.3 3577.7L1166.3 3577.7L1172.3 3577.7L1178.3 3577.7L1184.3 3577.7L1190.3 3577.7L1196.3 3577.7L1202.3 3577.7L1208.3 3577.7L1214.3 3577.7L1220.3 3577.7L1226.3 3577.7L1232.3 3577.7L1238.3 3577.7L1244.3 3577.7L1250.3 3577.7L1256.3 3577.7L1262.3 3577.7L1268.3 3577.7L1274.3 3577.7L1280.3 3577.7L1286.3 3577.7L1292.3 3577.7L1298.3 3577.7L1304.3 3577.7L1310.3 3577.7L1316.3 3577.7L1322.3 3577.7L1328.3 3577.7L1334.3 3577.7L1340.3 3577.7L1346.3 3577.7L1352.3 3577.7L1358.3 3577.7L1364.3 3577.7L1370.3 3577.7L1376.3 3577.7L1382.3 3577.7L1388.3 3577.7L1394.3 3577.7L1400.3 3577.7L1406.3 3577.7L1412.3 3577.7L1418.3 3577.7L1424.3 3577.7L1430.3 3577.7L1436.3 3577.7L1442.3 3577.7L1448.3 3577.7L1454.3 3577.7L1460.3 3577.7L1466.3 3577.7L1472.3 3577.7L1478.3 3577.7L1484.3 3577.7L1490.3 3577.7L1496.3 3577.7L1502.3 3577.7L1508.3 3577.7L1514.3 3577.7L1520.3 3577.7L1526.3 3577.7L1532.3 3577.7L1538.3 3577.7L1544.3 3577.7L1550.3 3577.7L1556.3 3577.7L1562.3 3577.7L1568.3 3577.7L1574.3 3577.7L1580.3 3577.7L1586.3 3577.7L1592.3 3577.7L1598.3 3577.7L1604.3 3577.7L1610.3 3577.7L1616.3 3577.7L1622.3 3577.7L1628.3 3577.7L1634.3 3577.7L1640.3 3577.7L1646.3 3577.7L1652.3 3577.7L1658.3 3577.7L1664.3 3577.7L1670.3 3577.7L1676.3 3577.7L1682.3 3577.7L1688.3 3577.7L1694.3 3577.7L1700.3 3577.7L1706.3 3577.7L1712.3 3577.7L1718.3 3577.7L1724.3 3577.7L1730.3 3577.7L1736.3 3577.7L1742.3 3577.7L1748.3 3577.7L1754.3 3577.7L1760.3 3577.7L1766.3 3577.7L1772.3 3577.7L1778.3 3577.7L1784.3 3577.7L1790.3 3577.7L1796.3 3577.7L1802.3 3577.7L1808.3 3577.7L1814.3 3577.7L1820.3 3577.7L1826.3 3577.7L1832.3 3577.7L1838.3 3577.7L1844.3 3577.7L1850.3 3577.7L1856.3 3577.7L1862.3 3577.7L1868.3 3577.7L1874.3 3577.7L1880.3 3577.7L1886.3 3577.7L1892.3 3577.7L1898.3 3577.7L1904.3 3577.7L1910.3 3577.7L1916.3 3577.7L1922.3 3577.7L1928.3 3577.7L1934.3 3577.7L1940.3 3577.7L1946.3 3577.7L1952.3 3577.7L1958.3 3577.7L1964.3 3577.7L1970.3 3577.7L1976.3 3577.7L1982.3 3577.7L1988.3 3577.7L1994.3 3577.7L2000.3 3577.7L2006.3 3577.7L2012.3 3577.7L2018.3 3577.7L2018.3 3586L236.3 3586Z" fill="url(#gc3)"/>
<path d="M236.3 3577.7L242.3 3577.7L248.3 3577.7L254.3 3577.6L260.3 3577.6L266.3 3577.6L272.3 3577.6L278.3 3577.6L284.3 3577.5L290.3 3577.5L296.3 3577.5L302.3 3577.4L308.3 3577.3L314.3 3577.3L320.3 3577.2L326.3 3577.1L332.3 3577L338.3 3576.8L344.3 3576.6L350.3 3576.4L356.3 3576.2L362.3 3576L368.3 3575.7L374.3 3575.3L380.3 3575L386.3 3574.5L392.3 3574.1L398.3 3573.6L404.3 3573L410.3 3572.3L416.3 3571.6L422.3 3570.9L428.3 3570L434.3 3569.2L440.3 3568.2L446.3 3567.2L452.3 3566.1L458.3 3565L464.3 3563.8L470.3 3562.5L476.3 3561.3L482.3 3560L488.3 3558.6L494.3 3557.3L500.3 3555.9L506.3 3554.6L512.3 3553.2L518.3 3551.9L524.3 3550.7L530.3 3549.5L536.3 3548.3L542.3 3547.3L548.3 3546.3L554.3 3545.5L560.3 3544.7L566.3 3544.1L572.3 3543.6L578.3 3543.3L584.3 3543.1L590.3 3543L596.3 3543.1L602.3 3543.3L608.3 3543.7L614.3 3544.2L620.3 3544.8L626.3 3545.5L632.3 3546.4L638.3 3547.4L644.3 3548.4L650.3 3549.6L656.3 3550.8L662.3 3552L668.3 3553.4L674.3 3554.7L680.3 3556L686.3 3557.4L692.3 3558.8L698.3 3560.1L704.3 3561.4L710.3 3562.7L716.3 3563.9L722.3 3565.1L728.3 3566.2L734.3 3567.3L740.3 3568.3L746.3 3569.2L752.3 3570.1L758.3 3571L764.3 3571.7L770.3 3572.4L776.3 3573L782.3 3573.6L788.3 3574.1L794.3 3574.6L800.3 3575L806.3 3575.4L812.3 3575.7L818.3 3576L824.3 3576.2L830.3 3576.5L836.3 3576.7L842.3 3576.8L848.3 3577L854.3 3577.1L860.3 3577.2L866.3 3577.3L872.3 3577.4L878.3 3577.4L884.3 3577.5L890.3 3577.5L896.3 3577.5L902.3 3577.6L908.3 3577.6L914.3 3577.6L920.3 3577.6L926.3 3577.6L932.3 3577.7L938.3 3577.7L944.3 3577.7L950.3 3577.7L956.3 3577.7L962.3 3577.7L968.3 3577.7L974.3 3577.7L980.3 3577.7L986.3 3577.7L992.3 3577.7L998.3 3577.7L1004.3 3577.7L1010.3 3577.7L1016.3 3577.7L1022.3 3577.7L1028.3 3577.7L1034.3 3577.7L1040.3 3577.7L1046.3 3577.7L1052.3 3577.7L1058.3 3577.7L1064.3 3577.7L1070.3 3577.7L1076.3 3577.7L1082.3 3577.7L1088.3 3577.7L1094.3 3577.7L1100.3 3577.7L1106.3 3577.7L1112.3 3577.7L1118.3 3577.7L1124.3 3577.7L1130.3 3577.7L1136.3 3577.7L1142.3 3577.7L1148.3 3577.7L1154.3 3577.7L1160.3 3577.7L1166.3 3577.7L1172.3 3577.7L1178.3 3577.7L1184.3 3577.7L1190.3 3577.7L1196.3 3577.7L1202.3 3577.7L1208.3 3577.7L1214.3 3577.7L1220.3 3577.7L1226.3 3577.7L1232.3 3577.7L1238.3 3577.7L1244.3 3577.7L1250.3 3577.7L1256.3 3577.7L1262.3 3577.7L1268.3 3577.7L1274.3 3577.7L1280.3 3577.7L1286.3 3577.7L1292.3 3577.7L1298.3 3577.7L1304.3 3577.7L1310.3 3577.7L1316.3 3577.7L1322.3 3577.7L1328.3 3577.7L1334.3 3577.7L1340.3 3577.7L1346.3 3577.7L1352.3 3577.7L1358.3 3577.7L1364.3 3577.7L1370.3 3577.7L1376.3 3577.7L1382.3 3577.7L1388.3 3577.7L1394.3 3577.7L1400.3 3577.7L1406.3 3577.7L1412.3 3577.7L1418.3 3577.7L1424.3 3577.7L1430.3 3577.7L1436.3 3577.7L1442.3 3577.7L1448.3 3577.7L1454.3 3577.7L1460.3 3577.7L1466.3 3577.7L1472.3 3577.7L1478.3 3577.7L1484.3 3577.7L1490.3 3577.7L1496.3 3577.7L1502.3 3577.7L1508.3 3577.7L1514.3 3577.7L1520.3 3577.7L1526.3 3577.7L1532.3 3577.7L1538.3 3577.7L1544.3 3577.7L1550.3 3577.7L1556.3 3577.7L1562.3 3577.7L1568.3 3577.7L1574.3 3577.7L1580.3 3577.7L1586.3 3577.7L1592.3 3577.7L1598.3 3577.7L1604.3 3577.7L1610.3 3577.7L1616.3 3577.7L1622.3 3577.7L1628.3 3577.7L1634.3 3577.7L1640.3 3577.7L1646.3 3577.7L1652.3 3577.7L1658.3 3577.7L1664.3 3577.7L1670.3 3577.7L1676.3 3577.7L1682.3 3577.7L1688.3 3577.7L1694.3 3577.7L1700.3 3577.7L1706.3 3577.7L1712.3 3577.7L1718.3 3577.7L1724.3 3577.7L1730.3 3577.7L1736.3 3577.7L1742.3 3577.7L1748.3 3577.7L1754.3 3577.7L1760.3 3577.7L1766.3 3577.7L1772.3 3577.7L1778.3 3577.7L1784.3 3577.7L1790.3 3577.7L1796.3 3577.7L1802.3 3577.7L1808.3 3577.7L1814.3 3577.7L1820.3 3577.7L1826.3 3577.7L1832.3 3577.7L1838.3 3577.7L1844.3 3577.7L1850.3 3577.7L1856.3 3577.7L1862.3 3577.7L1868.3 3577.7L1874.3 3577.7L1880.3 3577.7L1886.3 3577.7L1892.3 3577.7L1898.3 3577.7L1904.3 3577.7L1910.3 3577.7L1916.3 3577.7L1922.3 3577.7L1928.3 3577.7L1934.3 3577.7L1940.3 3577.7L1946.3 3577.7L1952.3 3577.7L1958.3 3577.7L1964.3 3577.7L1970.3 3577.7L1976.3 3577.7L1982.3 3577.7L1988.3 3577.7L1994.3 3577.7L2000.3 3577.7L2006.3 3577.7L2012.3 3577.7L2018.3 3577.7" fill="none" stroke="#ff007f" stroke-width="6.0" stroke-linejoin="round" />
<path d="M236.3 3577.3L242.3 3577.3L248.3 3577.2L254.3 3577.1L260.3 3577.1L266.3 3577L272.3 3576.9L278.3 3576.8L284.3 3576.6L290.3 3576.5L296.3 3576.3L302.3 3576.2L308.3 3576L314.3 3575.7L320.3 3575.5L326.3 3575.2L332.3 3574.9L338.3 3574.5L344.3 3574.1L350.3 3573.7L356.3 3573.2L362.3 3572.6L368.3 3572L374.3 3571.4L380.3 3570.6L386.3 3569.8L392.3 3568.9L398.3 3568L404.3 3566.9L410.3 3565.8L416.3 3564.5L422.3 3563.2L428.3 3561.7L434.3 3560.2L440.3 3558.5L446.3 3556.8L452.3 3554.9L458.3 3553L464.3 3550.9L470.3 3548.8L476.3 3546.5L482.3 3544.2L488.3 3541.8L494.3 3539.4L500.3 3536.9L506.3 3534.3L512.3 3531.7L518.3 3529.1L524.3 3526.5L530.3 3523.8L536.3 3521.2L542.3 3518.6L548.3 3516.1L554.3 3513.6L560.3 3511.2L566.3 3508.8L572.3 3506.5L578.3 3504.3L584.3 3502.2L590.3 3500.1L596.3 3498.2L602.3 3496.4L608.3 3494.6L614.3 3493L620.3 3491.4L626.3 3489.9L632.3 3488.5L638.3 3487.2L644.3 3485.9L650.3 3484.7L656.3 3483.5L662.3 3482.3L668.3 3481.1L674.3 3480L680.3 3478.9L686.3 3477.7L692.3 3476.6L698.3 3475.4L704.3 3474.1L710.3 3472.9L716.3 3471.6L722.3 3470.3L728.3 3468.9L734.3 3467.5L740.3 3466L746.3 3464.5L752.3 3462.9L758.3 3461.3L764.3 3459.7L770.3 3458L776.3 3456.3L782.3 3454.6L788.3 3452.9L794.3 3451.1L800.3 3449.4L806.3 3447.6L812.3 3445.8L818.3 3444.1L824.3 3442.3L830.3 3440.5L836.3 3438.7L842.3 3436.9L848.3 3435.1L854.3 3433.3L860.3 3431.5L866.3 3429.6L872.3 3427.8L878.3 3425.9L884.3 3423.9L890.3 3421.9L896.3 3419.8L902.3 3417.5L908.3 3414.9L914.3 3412.2L920.3 3409.4L926.3 3406.3L932.3 3402.8L938.3 3399.1L944.3 3395.1L950.3 3390.9L956.3 3386.3L962.3 3381.4L968.3 3376L974.3 3370.2L980.3 3364L986.3 3357.4L992.3 3350.4L998.3 3343L1004.3 3335.2L1010.3 3326.8L1016.3 3317.9L1022.3 3308.6L1028.3 3299.4L1034.3 3289.8L1040.3 3278.8L1046.3 3267.4L1052.3 3255.8L1058.3 3243.9L1064.3 3231.9L1070.3 3219.9L1076.3 3207.8L1082.3 3195.4L1088.3 3181.4L1094.3 3168.1L1100.3 3155.3L1106.3 3143.2L1112.3 3131.6L1118.3 3121L1124.3 3111.2L1130.3 3102.4L1136.3 3095.4L1142.3 3089.2L1148.3 3084L1154.3 3079.5L1160.3 3075.7L1166.3 3072.7L1172.3 3070.3L1178.3 3068.8L1184.3 3067.9L1190.3 3067.8L1196.3 3068L1202.3 3068.6L1208.3 3069.9L1214.3 3071.9L1220.3 3075.3L1226.3 3079.6L1232.3 3085L1238.3 3091.4L1244.3 3098.9L1250.3 3107.3L1256.3 3116.7L1262.3 3127L1268.3 3138.2L1274.3 3150L1280.3 3162.5L1286.3 3175.3L1292.3 3188.7L1298.3 3202.6L1304.3 3216.8L1310.3 3231.4L1316.3 3246.3L1322.3 3261.3L1328.3 3276.2L1334.3 3291.2L1340.3 3305.9L1346.3 3320.4L1352.3 3334.7L1358.3 3348.8L1364.3 3362.6L1370.3 3376L1376.3 3389.1L1382.3 3401.7L1388.3 3413.9L1394.3 3425.6L1400.3 3436.8L1406.3 3447.4L1412.3 3457.6L1418.3 3467.2L1424.3 3476.3L1430.3 3484.9L1436.3 3492.9L1442.3 3500.4L1448.3 3507.4L1454.3 3514L1460.3 3520L1466.3 3525.6L1472.3 3530.8L1478.3 3535.5L1484.3 3539.8L1490.3 3543.8L1496.3 3547.4L1502.3 3550.7L1508.3 3553.7L1514.3 3556.4L1520.3 3558.8L1526.3 3561L1532.3 3562.9L1538.3 3564.6L1544.3 3566.2L1550.3 3567.6L1556.3 3568.8L1562.3 3569.9L1568.3 3570.9L1574.3 3571.7L1580.3 3572.5L1586.3 3573.2L1592.3 3573.7L1598.3 3574.3L1604.3 3574.7L1610.3 3575.1L1616.3 3575.4L1622.3 3575.7L1628.3 3576L1634.3 3576.2L1640.3 3576.4L1646.3 3576.6L1652.3 3576.7L1658.3 3576.9L1664.3 3577L1670.3 3577.1L1676.3 3577.1L1682.3 3577.2L1688.3 3577.3L1694.3 3577.3L1700.3 3577.4L1706.3 3577.4L1712.3 3577.5L1718.3 3577.5L1724.3 3577.5L1730.3 3577.5L1736.3 3577.6L1742.3 3577.6L1748.3 3577.6L1754.3 3577.6L1760.3 3577.6L1766.3 3577.6L1772.3 3577.6L1778.3 3577.6L1784.3 3577.6L1790.3 3577.7L1796.3 3577.7L1802.3 3577.7L1808.3 3577.7L1814.3 3577.7L1820.3 3577.7L1826.3 3577.7L1832.3 3577.7L1838.3 3577.7L1844.3 3577.7L1850.3 3577.7L1856.3 3577.7L1862.3 3577.7L1868.3 3577.7L1874.3 3577.7L1880.3 3577.7L1886.3 3577.7L1892.3 3577.7L1898.3 3577.7L1904.3 3577.7L1910.3 3577.7L1916.3 3577.7L1922.3 3577.7L1928.3 3577.7L1934.3 3577.7L1940.3 3577.7L1946.3 3577.7L1952.3 3577.7L1958.3 3577.7L1964.3 3577.7L1970.3 3577.7L1976.3 3577.7L1982.3 3577.7L1988.3 3577.7L1994.3 3577.7L2000.3 3577.7L2006.3 3577.7L2012.3 3577.7L2018.3 3577.7" fill="none" stroke="#b078e0" stroke-width="10.5" stroke-linejoin="round" />
<path d="M236.3 4179.4L258.3 4182.9L280.3 4186L302.3 4187.9L324.3 4187.4L346.3 4185.8L368.3 4186L390.3 4185L412.3 4183L434.3 4183.7L456.3 4185.2L478.3 4182.9L500.3 4180.3L522.3 4176.6L544.3 4175.9L566.3 4171.3L588.3 4168.5L610.3 4164.5L632.3 4150.8L654.3 4150.1L676.3 4138.1L698.3 4131.4L720.3 4121.4L742.3 4120.9L764.3 4110.2L786.3 4100.4L808.3 4086.2L830.3 4074.1L852.3 4069.9L874.3 4064L896.3 4054.2L918.3 4049.1L940.3 4034.9L962.3 4035.8L984.3 4019.4L1006.3 4014.9L1028.3 3992.7L1050.3 3975.8L1072.3 3956.6L1094.3 3949.1L1116.3 3930L1138.3 3901.5L1160.3 3880.9L1182.3 3855.4L1204.3 3831.8L1226.3 3808.4L1248.3 3772.3L1270.3 3754.2L1292.3 3739.3L1314.3 3718.8L1336.3 3708.4L1358.3 3684.8L1380.3 3666.7L1402.3 3665.1L1424.3 3659.9L1446.3 3686.6L1468.3 3687.1L1490.3 3714.5L1512.3 3730.9L1534.3 3758.1L1556.3 3788L1578.3 3825.2L1600.3 3853.5L1622.3 3898.8L1644.3 3957.6L1666.3 3990.6L1688.3 4019.3L1710.3 4050.1L1732.3 4076.4L1754.3 4113.2L1776.3 4118.7L1798.3 4129.9L1820.3 4139L1842.3 4142.9L1864.3 4157.1L1886.3 4166.3L1908.3 4170.1L1930.3 4173.4L1952.3 4175.4L1974.3 4177.3L1996.3 4181.8L2018.3 4183" fill="none" stroke="#4b4b4b" stroke-width="9.0" stroke-linejoin="round" />
<path d="M236.3 4186L242.3 4186L248.3 4186L254.3 4186L260.3 4186L266.3 4186L272.3 4186L278.3 4186L284.3 4186L290.3 4186L296.3 4186L302.3 4186L308.3 4186L314.3 4186L320.3 4186L326.3 4186L332.3 4186L338.3 4186L344.3 4186L350.3 4186L356.3 4186L362.3 4186L368.3 4186L374.3 4186L380.3 4186L386.3 4186L392.3 4186L398.3 4186L404.3 4186L410.3 4186L416.3 4186L422.3 4186L428.3 4186L434.3 4186L440.3 4186L446.3 4186L452.3 4186L458.3 4186L464.3 4186L470.3 4186L476.3 4186L482.3 4186L488.3 4186L494.3 4186L500.3 4186L506.3 4186L512.3 4186L518.3 4186L524.3 4186L530.3 4186L536.3 4186L542.3 4186L548.3 4186L554.3 4186L560.3 4186L566.3 4186L572.3 4186L578.3 4186L584.3 4186L590.3 4186L596.3 4186L602.3 4186L608.3 4186L614.3 4186L620.3 4186L626.3 4186L632.3 4186L638.3 4186L644.3 4186L650.3 4186L656.3 4186L662.3 4186L668.3 4186L674.3 4186L680.3 4186L686.3 4186L692.3 4186L698.3 4186L704.3 4186L710.3 4186L716.3 4186L722.3 4186L728.3 4186L734.3 4186L740.3 4186L746.3 4186L752.3 4186L758.3 4186L764.3 4186L770.3 4186L776.3 4186L782.3 4186L788.3 4186L794.3 4186L800.3 4186L806.3 4186L812.3 4186L818.3 4186L824.3 4186L830.3 4186L836.3 4186L842.3 4186L848.3 4186L854.3 4186L860.3 4186L866.3 4186L872.3 4185.9L878.3 4185.9L884.3 4185.9L890.3 4185.9L896.3 4185.9L902.3 4185.8L908.3 4185.8L914.3 4185.7L920.3 4185.7L926.3 4185.6L932.3 4185.5L938.3 4185.4L944.3 4185.3L950.3 4185.1L956.3 4184.9L962.3 4184.7L968.3 4184.5L974.3 4184.2L980.3 4183.9L986.3 4183.5L992.3 4183.1L998.3 4182.6L1004.3 4182.1L1010.3 4181.4L1016.3 4180.7L1022.3 4179.9L1028.3 4179L1034.3 4178L1040.3 4176.9L1046.3 4175.6L1052.3 4174.2L1058.3 4172.6L1064.3 4170.9L1070.3 4169L1076.3 4166.9L1082.3 4164.7L1088.3 4162.2L1094.3 4159.5L1100.3 4156.5L1106.3 4153.4L1112.3 4149.9L1118.3 4146.3L1124.3 4142.3L1130.3 4138.1L1136.3 4133.6L1142.3 4128.8L1148.3 4123.7L1154.3 4118.3L1160.3 4112.6L1166.3 4106.6L1172.3 4100.3L1178.3 4093.8L1184.3 4086.9L1190.3 4079.7L1196.3 4072.3L1202.3 4064.5L1208.3 4056.6L1214.3 4048.3L1220.3 4039.9L1226.3 4031.2L1232.3 4022.3L1238.3 4013.2L1244.3 4004L1250.3 3994.6L1256.3 3985.1L1262.3 3975.5L1268.3 3965.9L1274.3 3956.2L1280.3 3946.4L1286.3 3936.7L1292.3 3927L1298.3 3917.4L1304.3 3907.8L1310.3 3898.4L1316.3 3889.2L1322.3 3880.1L1328.3 3871.2L1334.3 3862.5L1340.3 3854.1L1346.3 3846L1352.3 3838.1L1358.3 3830.6L1364.3 3823.5L1370.3 3816.7L1376.3 3810.2L1382.3 3804.2L1388.3 3798.6L1394.3 3793.5L1400.3 3788.8L1406.3 3784.5L1412.3 3780.7L1418.3 3777.4L1424.3 3774.5L1430.3 3772.1L1436.3 3770.2L1442.3 3768.8L1448.3 3767.8L1454.3 3767.4L1460.3 3767.3L1466.3 3767.8L1472.3 3768.6L1478.3 3769.9L1484.3 3771.6L1490.3 3773.8L1496.3 3776.3L1502.3 3779.3L1508.3 3782.8L1514.3 3786.6L1520.3 3790.9L1526.3 3795.6L1532.3 3800.7L1538.3 3806.1L1544.3 3812L1550.3 3818.2L1556.3 3824.7L1562.3 3831.8L1568.3 3839.2L1574.3 3846.9L1580.3 3855L1586.3 3863.4L1592.3 3872L1598.3 3880.9L1604.3 3890L1610.3 3899.3L1616.3 3908.7L1622.3 3918.3L1628.3 3928L1634.3 3937.7L1640.3 3947.5L1646.3 3957.4L1652.3 3967.2L1658.3 3976.9L1664.3 3985.7L1670.3 3994.4L1676.3 4003L1682.3 4011.5L1688.3 4019.8L1694.3 4027.9L1700.3 4035.8L1706.3 4043.5L1712.3 4051L1718.3 4058.3L1724.3 4065.4L1730.3 4072.2L1736.3 4078.9L1742.3 4085.2L1748.3 4091.4L1754.3 4097.2L1760.3 4102.8L1766.3 4108L1772.3 4112.9L1778.3 4117.7L1784.3 4122.2L1790.3 4126.5L1796.3 4130.5L1802.3 4134.4L1808.3 4138L1814.3 4141.5L1820.3 4144.7L1826.3 4147.8L1832.3 4150.6L1838.3 4153.3L1844.3 4155.9L1850.3 4158.2L1856.3 4160.5L1862.3 4162.5L1868.3 4164.5L1874.3 4166.2L1880.3 4167.9L1886.3 4169.5L1892.3 4170.9L1898.3 4172.2L1904.3 4173.4L1910.3 4174.6L1916.3 4175.6L1922.3 4176.6L1928.3 4177.5L1934.3 4178.3L1940.3 4179L1946.3 4179.7L1952.3 4180.3L1958.3 4180.9L1964.3 4181.4L1970.3 4181.8L1976.3 4182.3L1982.3 4182.7L1988.3 4183L1994.3 4183.3L2000.3 4183.6L2006.3 4183.9L2012.3 4184.1L2018.3 4184.3L2018.3 4200L236.3 4200Z" fill="url(#gc4)"/>
<path d="M236.3 4186L242.3 4186L248.3 4186L254.3 4186L260.3 4186L266.3 4186L272.3 4186L278.3 4186L284.3 4186L290.3 4186L296.3 4186L302.3 4186L308.3 4186L314.3 4186L320.3 4186L326.3 4186L332.3 4186L338.3 4186L344.3 4186L350.3 4186L356.3 4186L362.3 4186L368.3 4186L374.3 4186L380.3 4186L386.3 4186L392.3 4186L398.3 4186L404.3 4186L410.3 4186L416.3 4186L422.3 4186L428.3 4186L434.3 4186L440.3 4186L446.3 4186L452.3 4186L458.3 4186L464.3 4186L470.3 4186L476.3 4186L482.3 4186L488.3 4186L494.3 4186L500.3 4186L506.3 4186L512.3 4186L518.3 4186L524.3 4186L530.3 4186L536.3 4186L542.3 4186L548.3 4186L554.3 4186L560.3 4186L566.3 4186L572.3 4186L578.3 4186L584.3 4186L590.3 4186L596.3 4186L602.3 4186L608.3 4186L614.3 4186L620.3 4186L626.3 4186L632.3 4186L638.3 4186L644.3 4186L650.3 4186L656.3 4186L662.3 4186L668.3 4186L674.3 4186L680.3 4186L686.3 4186L692.3 4186L698.3 4186L704.3 4186L710.3 4186L716.3 4186L722.3 4186L728.3 4186L734.3 4186L740.3 4186L746.3 4186L752.3 4186L758.3 4186L764.3 4186L770.3 4186L776.3 4186L782.3 4186L788.3 4186L794.3 4186L800.3 4186L806.3 4186L812.3 4186L818.3 4186L824.3 4186L830.3 4186L836.3 4186L842.3 4186L848.3 4186L854.3 4186L860.3 4186L866.3 4186L872.3 4185.9L878.3 4185.9L884.3 4185.9L890.3 4185.9L896.3 4185.9L902.3 4185.8L908.3 4185.8L914.3 4185.7L920.3 4185.7L926.3 4185.6L932.3 4185.5L938.3 4185.4L944.3 4185.3L950.3 4185.1L956.3 4184.9L962.3 4184.7L968.3 4184.5L974.3 4184.2L980.3 4183.9L986.3 4183.5L992.3 4183.1L998.3 4182.6L1004.3 4182.1L1010.3 4181.4L1016.3 4180.7L1022.3 4179.9L1028.3 4179L1034.3 4178L1040.3 4176.9L1046.3 4175.6L1052.3 4174.2L1058.3 4172.6L1064.3 4170.9L1070.3 4169L1076.3 4166.9L1082.3 4164.7L1088.3 4162.2L1094.3 4159.5L1100.3 4156.5L1106.3 4153.4L1112.3 4149.9L1118.3 4146.3L1124.3 4142.3L1130.3 4138.1L1136.3 4133.6L1142.3 4128.8L1148.3 4123.7L1154.3 4118.3L1160.3 4112.6L1166.3 4106.6L1172.3 4100.3L1178.3 4093.8L1184.3 4086.9L1190.3 4079.7L1196.3 4072.3L1202.3 4064.5L1208.3 4056.6L1214.3 4048.3L1220.3 4039.9L1226.3 4031.2L1232.3 4022.3L1238.3 4013.2L1244.3 4004L1250.3 3994.6L1256.3 3985.1L1262.3 3975.5L1268.3 3965.9L1274.3 3956.2L1280.3 3946.4L1286.3 3936.7L1292.3 3927L1298.3 3917.4L1304.3 3907.8L1310.3 3898.4L1316.3 3889.2L1322.3 3880.1L1328.3 3871.2L1334.3 3862.5L1340.3 3854.1L1346.3 3846L1352.3 3838.1L1358.3 3830.6L1364.3 3823.5L1370.3 3816.7L1376.3 3810.2L1382.3 3804.2L1388.3 3798.6L1394.3 3793.5L1400.3 3788.8L1406.3 3784.5L1412.3 3780.7L1418.3 3777.4L1424.3 3774.5L1430.3 3772.1L1436.3 3770.2L1442.3 3768.8L1448.3 3767.8L1454.3 3767.4L1460.3 3767.3L1466.3 3767.8L1472.3 3768.6L1478.3 3769.9L1484.3 3771.6L1490.3 3773.8L1496.3 3776.3L1502.3 3779.3L1508.3 3782.8L1514.3 3786.6L1520.3 3790.9L1526.3 3795.6L1532.3 3800.7L1538.3 3806.1L1544.3 3812L1550.3 3818.2L1556.3 3824.7L1562.3 3831.8L1568.3 3839.2L1574.3 3846.9L1580.3 3855L1586.3 3863.4L1592.3 3872L1598.3 3880.9L1604.3 3890L1610.3 3899.3L1616.3 3908.7L1622.3 3918.3L1628.3 3928L1634.3 3937.7L1640.3 3947.5L1646.3 3957.4L1652.3 3967.2L1658.3 3976.9L1664.3 3985.7L1670.3 3994.4L1676.3 4003L1682.3 4011.5L1688.3 4019.8L1694.3 4027.9L1700.3 4035.8L1706.3 4043.5L1712.3 4051L1718.3 4058.3L1724.3 4065.4L1730.3 4072.2L1736.3 4078.9L1742.3 4085.2L1748.3 4091.4L1754.3 4097.2L1760.3 4102.8L1766.3 4108L1772.3 4112.9L1778.3 4117.7L1784.3 4122.2L1790.3 4126.5L1796.3 4130.5L1802.3 4134.4L1808.3 4138L1814.3 4141.5L1820.3 4144.7L1826.3 4147.8L1832.3 4150.6L1838.3 4153.3L1844.3 4155.9L1850.3 4158.2L1856.3 4160.5L1862.3 4162.5L1868.3 4164.5L1874.3 4166.2L1880.3 4167.9L1886.3 4169.5L1892.3 4170.9L1898.3 4172.2L1904.3 4173.4L1910.3 4174.6L1916.3 4175.6L1922.3 4176.6L1928.3 4177.5L1934.3 4178.3L1940.3 4179L1946.3 4179.7L1952.3 4180.3L1958.3 4180.9L1964.3 4181.4L1970.3 4181.8L1976.3 4182.3L1982.3 4182.7L1988.3 4183L1994.3 4183.3L2000.3 4183.6L2006.3 4183.9L2012.3 4184.1L2018.3 4184.3" fill="none" stroke="#0000ff" stroke-width="6.0" stroke-linejoin="round" />
<path d="M236.3 4186L242.3 4186L248.3 4186L254.3 4186L260.3 4186L266.3 4186L272.3 4186L278.3 4186L284.3 4186L290.3 4186L296.3 4186L302.3 4186L308.3 4186L314.3 4186L320.3 4186L326.3 4186L332.3 4186L338.3 4186L344.3 4186L350.3 4186L356.3 4186L362.3 4186L368.3 4186L374.3 4186L380.3 4185.9L386.3 4185.9L392.3 4185.9L398.3 4185.9L404.3 4185.9L410.3 4185.9L416.3 4185.9L422.3 4185.9L428.3 4185.9L434.3 4185.8L440.3 4185.8L446.3 4185.8L452.3 4185.8L458.3 4185.7L464.3 4185.7L470.3 4185.7L476.3 4185.6L482.3 4185.6L488.3 4185.5L494.3 4185.5L500.3 4185.4L506.3 4185.4L512.3 4185.3L518.3 4185.2L524.3 4185.2L530.3 4185.1L536.3 4185L542.3 4184.9L548.3 4184.7L554.3 4184.6L560.3 4184.5L566.3 4184.3L572.3 4184.1L578.3 4183.9L584.3 4183.7L590.3 4183.5L596.3 4183.3L602.3 4183L608.3 4182.8L614.3 4182.5L620.3 4182.1L626.3 4181.8L632.3 4181.4L638.3 4181L644.3 4180.6L650.3 4180.1L656.3 4179.6L662.3 4179L668.3 4178.4L674.3 4177.8L680.3 4177.2L686.3 4176.4L692.3 4175.7L698.3 4174.9L704.3 4174L710.3 4173.1L716.3 4172.1L722.3 4171.1L728.3 4170L734.3 4168.8L740.3 4167.6L746.3 4166.3L752.3 4164.9L758.3 4163.5L764.3 4161.9L770.3 4160.3L776.3 4158.6L782.3 4156.9L788.3 4155L794.3 4153.1L800.3 4151.1L806.3 4148.9L812.3 4146.7L818.3 4144.4L824.3 4142L830.3 4139.5L836.3 4137L842.3 4134.3L848.3 4131.5L854.3 4128.6L860.3 4125.7L866.3 4122.6L872.3 4119.5L878.3 4116.2L884.3 4112.9L890.3 4109.5L896.3 4105.9L902.3 4102.4L908.3 4098.7L914.3 4095L920.3 4091.1L926.3 4087.3L932.3 4083.3L938.3 4079.3L944.3 4075.3L950.3 4071.2L956.3 4067L962.3 4062.9L968.3 4058.7L974.3 4054.4L980.3 4050.2L986.3 4046L992.3 4041.7L998.3 4037.5L1004.3 4033.3L1010.3 4029.1L1016.3 4025L1022.3 4020.9L1028.3 4016.9L1034.3 4012.9L1040.3 4009L1046.3 4005.2L1052.3 4001.4L1058.3 3997.8L1064.3 3994.3L1070.3 3990.9L1076.3 3987.6L1082.3 3984.5L1088.3 3981.5L1094.3 3978.6L1100.3 3975.9L1106.3 3973.4L1112.3 3971L1118.3 3968.8L1124.3 3966.8L1130.3 3965L1136.3 3963.4L1142.3 3962L1148.3 3960.8L1154.3 3959.8L1160.3 3958.9L1166.3 3958.4L1172.3 3958L1178.3 3957.8L1184.3 3957.9L1190.3 3958.1L1196.3 3958.6L1202.3 3959.2L1208.3 3960.1L1214.3 3961.1L1220.3 3962.4L1226.3 3963.9L1232.3 3965.5L1238.3 3967.4L1244.3 3969.4L1250.3 3971.6L1256.3 3974L1262.3 3976.5L1268.3 3979.3L1274.3 3982.1L1280.3 3985.2L1286.3 3988.3L1292.3 3991.6L1298.3 3995L1304.3 3998.6L1310.3 4002.2L1316.3 4006L1322.3 4009.8L1328.3 4013.7L1334.3 4017.7L1340.3 4021.8L1346.3 4025.9L1352.3 4030.1L1358.3 4034.3L1364.3 4038.5L1370.3 4042.8L1376.3 4047.1L1382.3 4051.3L1388.3 4055.6L1394.3 4059.9L1400.3 4064.1L1406.3 4068.3L1412.3 4072.5L1418.3 4076.7L1424.3 4080.8L1430.3 4084.8L1436.3 4088.8L1442.3 4092.7L1448.3 4096.6L1454.3 4100.4L1460.3 4104.1L1466.3 4107.7L1472.3 4111.3L1478.3 4114.7L1484.3 4118.1L1490.3 4121.4L1496.3 4124.6L1502.3 4127.6L1508.3 4130.6L1514.3 4133.5L1520.3 4136.3L1526.3 4139L1532.3 4141.6L1538.3 4144.1L1544.3 4146.5L1550.3 4148.8L1556.3 4151L1562.3 4153.1L1568.3 4155.1L1574.3 4157L1580.3 4158.9L1586.3 4160.6L1592.3 4162.3L1598.3 4163.8L1604.3 4165.3L1610.3 4166.7L1616.3 4168.1L1622.3 4169.3L1628.3 4170.5L1634.3 4171.6L1640.3 4172.7L1646.3 4173.7L1652.3 4174.6L1658.3 4175.5L1664.3 4176.3L1670.3 4177.1L1676.3 4177.8L1682.3 4178.4L1688.3 4179L1694.3 4179.6L1700.3 4180.2L1706.3 4180.6L1712.3 4181.1L1718.3 4181.5L1724.3 4181.9L1730.3 4182.3L1736.3 4182.6L1742.3 4182.9L1748.3 4183.2L1754.3 4183.5L1760.3 4183.7L1766.3 4183.9L1772.3 4184.1L1778.3 4184.3L1784.3 4184.5L1790.3 4184.6L1796.3 4184.8L1802.3 4184.9L1808.3 4185L1814.3 4185.1L1820.3 4185.2L1826.3 4185.3L1832.3 4185.4L1838.3 4185.4L1844.3 4185.5L1850.3 4185.5L1856.3 4185.6L1862.3 4185.6L1868.3 4185.7L1874.3 4185.7L1880.3 4185.8L1886.3 4185.8L1892.3 4185.8L1898.3 4185.8L1904.3 4185.9L1910.3 4185.9L1916.3 4185.9L1922.3 4185.9L1928.3 4185.9L1934.3 4185.9L1940.3 4185.9L1946.3 4185.9L1952.3 4185.9L1958.3 4186L1964.3 4186L1970.3 4186L1976.3 4186L1982.3 4186L1988.3 4186L1994.3 4186L2000.3 4186L2006.3 4186L2012.3 4186L2018.3 4186L2018.3 4200L236.3 4200Z" fill="url(#gc5)"/>
<path d="M236.3 4186L242.3 4186L248.3 4186L254.3 4186L260.3 4186L266.3 4186L272.3 4186L278.3 4186L284.3 4186L290.3 4186L296.3 4186L302.3 4186L308.3 4186L314.3 4186L320.3 4186L326.3 4186L332.3 4186L338.3 4186L344.3 4186L350.3 4186L356.3 4186L362.3 4186L368.3 4186L374.3 4186L380.3 4185.9L386.3 4185.9L392.3 4185.9L398.3 4185.9L404.3 4185.9L410.3 4185.9L416.3 4185.9L422.3 4185.9L428.3 4185.9L434.3 4185.8L440.3 4185.8L446.3 4185.8L452.3 4185.8L458.3 4185.7L464.3 4185.7L470.3 4185.7L476.3 4185.6L482.3 4185.6L488.3 4185.5L494.3 4185.5L500.3 4185.4L506.3 4185.4L512.3 4185.3L518.3 4185.2L524.3 4185.2L530.3 4185.1L536.3 4185L542.3 4184.9L548.3 4184.7L554.3 4184.6L560.3 4184.5L566.3 4184.3L572.3 4184.1L578.3 4183.9L584.3 4183.7L590.3 4183.5L596.3 4183.3L602.3 4183L608.3 4182.8L614.3 4182.5L620.3 4182.1L626.3 4181.8L632.3 4181.4L638.3 4181L644.3 4180.6L650.3 4180.1L656.3 4179.6L662.3 4179L668.3 4178.4L674.3 4177.8L680.3 4177.2L686.3 4176.4L692.3 4175.7L698.3 4174.9L704.3 4174L710.3 4173.1L716.3 4172.1L722.3 4171.1L728.3 4170L734.3 4168.8L740.3 4167.6L746.3 4166.3L752.3 4164.9L758.3 4163.5L764.3 4161.9L770.3 4160.3L776.3 4158.6L782.3 4156.9L788.3 4155L794.3 4153.1L800.3 4151.1L806.3 4148.9L812.3 4146.7L818.3 4144.4L824.3 4142L830.3 4139.5L836.3 4137L842.3 4134.3L848.3 4131.5L854.3 4128.6L860.3 4125.7L866.3 4122.6L872.3 4119.5L878.3 4116.2L884.3 4112.9L890.3 4109.5L896.3 4105.9L902.3 4102.4L908.3 4098.7L914.3 4095L920.3 4091.1L926.3 4087.3L932.3 4083.3L938.3 4079.3L944.3 4075.3L950.3 4071.2L956.3 4067L962.3 4062.9L968.3 4058.7L974.3 4054.4L980.3 4050.2L986.3 4046L992.3 4041.7L998.3 4037.5L1004.3 4033.3L1010.3 4029.1L1016.3 4025L1022.3 4020.9L1028.3 4016.9L1034.3 4012.9L1040.3 4009L1046.3 4005.2L1052.3 4001.4L1058.3 3997.8L1064.3 3994.3L1070.3 3990.9L1076.3 3987.6L1082.3 3984.5L1088.3 3981.5L1094.3 3978.6L1100.3 3975.9L1106.3 3973.4L1112.3 3971L1118.3 3968.8L1124.3 3966.8L1130.3 3965L1136.3 3963.4L1142.3 3962L1148.3 3960.8L1154.3 3959.8L1160.3 3958.9L1166.3 3958.4L1172.3 3958L1178.3 3957.8L1184.3 3957.9L1190.3 3958.1L1196.3 3958.6L1202.3 3959.2L1208.3 3960.1L1214.3 3961.1L1220.3 3962.4L1226.3 3963.9L1232.3 3965.5L1238.3 3967.4L1244.3 3969.4L1250.3 3971.6L1256.3 3974L1262.3 3976.5L1268.3 3979.3L1274.3 3982.1L1280.3 3985.2L1286.3 3988.3L1292.3 3991.6L1298.3 3995L1304.3 3998.6L1310.3 4002.2L1316.3 4006L1322.3 4009.8L1328.3 4013.7L1334.3 4017.7L1340.3 4021.8L1346.3 4025.9L1352.3 4030.1L1358.3 4034.3L1364.3 4038.5L1370.3 4042.8L1376.3 4047.1L1382.3 4051.3L1388.3 4055.6L1394.3 4059.9L1400.3 4064.1L1406.3 4068.3L1412.3 4072.5L1418.3 4076.7L1424.3 4080.8L1430.3 4084.8L1436.3 4088.8L1442.3 4092.7L1448.3 4096.6L1454.3 4100.4L1460.3 4104.1L1466.3 4107.7L1472.3 4111.3L1478.3 4114.7L1484.3 4118.1L1490.3 4121.4L1496.3 4124.6L1502.3 4127.6L1508.3 4130.6L1514.3 4133.5L1520.3 4136.3L1526.3 4139L1532.3 4141.6L1538.3 4144.1L1544.3 4146.5L1550.3 4148.8L1556.3 4151L1562.3 4153.1L1568.3 4155.1L1574.3 4157L1580.3 4158.9L1586.3 4160.6L1592.3 4162.3L1598.3 4163.8L1604.3 4165.3L1610.3 4166.7L1616.3 4168.1L1622.3 4169.3L1628.3 4170.5L1634.3 4171.6L1640.3 4172.7L1646.3 4173.7L1652.3 4174.6L1658.3 4175.5L1664.3 4176.3L1670.3 4177.1L1676.3 4177.8L1682.3 4178.4L1688.3 4179L1694.3 4179.6L1700.3 4180.2L1706.3 4180.6L1712.3 4181.1L1718.3 4181.5L1724.3 4181.9L1730.3 4182.3L1736.3 4182.6L1742.3 4182.9L1748.3 4183.2L1754.3 4183.5L1760.3 4183.7L1766.3 4183.9L1772.3 4184.1L1778.3 4184.3L1784.3 4184.5L1790.3 4184.6L1796.3 4184.8L1802.3 4184.9L1808.3 4185L1814.3 4185.1L1820.3 4185.2L1826.3 4185.3L1832.3 4185.4L1838.3 4185.4L1844.3 4185.5L1850.3 4185.5L1856.3 4185.6L1862.3 4185.6L1868.3 4185.7L1874.3 4185.7L1880.3 4185.8L1886.3 4185.8L1892.3 4185.8L1898.3 4185.8L1904.3 4185.9L1910.3 4185.9L1916.3 4185.9L1922.3 4185.9L1928.3 4185.9L1934.3 4185.9L1940.3 4185.9L1946.3 4185.9L1952.3 4185.9L1958.3 4186L1964.3 4186L1970.3 4186L1976.3 4186L1982.3 4186L1988.3 4186L1994.3 4186L2000.3 4186L2006.3 4186L2012.3 4186L2018.3 4186" fill="none" stroke="#ff7f00" stroke-width="6.0" stroke-linejoin="round" />
<path d="M236.3 4186L242.3 4186L248.3 4186L254.3 4186L260.3 4186L266.3 4186L272.3 4186L278.3 4186L284.3 4186L290.3 4185.9L296.3 4185.9L302.3 4185.9L308.3 4185.9L314.3 4185.9L320.3 4185.9L326.3 4185.9L332.3 4185.8L338.3 4185.8L344.3 4185.8L350.3 4185.8L356.3 4185.7L362.3 4185.7L368.3 4185.6L374.3 4185.6L380.3 4185.5L386.3 4185.5L392.3 4185.4L398.3 4185.3L404.3 4185.2L410.3 4185.1L416.3 4185L422.3 4184.9L428.3 4184.7L434.3 4184.6L440.3 4184.4L446.3 4184.2L452.3 4184L458.3 4183.7L464.3 4183.5L470.3 4183.2L476.3 4182.9L482.3 4182.6L488.3 4182.2L494.3 4181.8L500.3 4181.4L506.3 4181L512.3 4180.5L518.3 4180L524.3 4179.4L530.3 4178.8L536.3 4178.2L542.3 4177.5L548.3 4176.8L554.3 4176L560.3 4175.2L566.3 4174.3L572.3 4173.4L578.3 4172.4L584.3 4171.4L590.3 4170.4L596.3 4169.3L602.3 4168.2L608.3 4167L614.3 4165.8L620.3 4164.5L626.3 4163.2L632.3 4161.9L638.3 4160.5L644.3 4159.1L650.3 4157.6L656.3 4156.2L662.3 4154.7L668.3 4153.2L674.3 4151.7L680.3 4150.2L686.3 4148.7L692.3 4147.2L698.3 4145.7L704.3 4144.2L710.3 4142.8L716.3 4141.3L722.3 4140L728.3 4138.6L734.3 4137.3L740.3 4136L746.3 4134.8L752.3 4133.7L758.3 4132.6L764.3 4131.6L770.3 4130.7L776.3 4129.9L782.3 4129.2L788.3 4128.5L794.3 4128L800.3 4127.5L806.3 4127.2L812.3 4126.9L818.3 4126.7L824.3 4126.7L830.3 4126.8L836.3 4126.9L842.3 4127.3L848.3 4127.7L854.3 4128.2L860.3 4128.8L866.3 4129.6L872.3 4130.4L878.3 4131.4L884.3 4132.4L890.3 4133.5L896.3 4134.7L902.3 4136L908.3 4137.3L914.3 4138.7L920.3 4140.2L926.3 4141.7L932.3 4143.2L938.3 4144.8L944.3 4146.4L950.3 4148L956.3 4149.6L962.3 4151.2L968.3 4152.8L974.3 4154.4L980.3 4156L986.3 4157.5L992.3 4159.1L998.3 4160.6L1004.3 4162L1010.3 4163.4L1016.3 4164.8L1022.3 4166.2L1028.3 4167.5L1034.3 4168.7L1040.3 4169.9L1046.3 4171L1052.3 4172.1L1058.3 4173.1L1064.3 4174.1L1070.3 4175L1076.3 4175.9L1082.3 4176.7L1088.3 4177.5L1094.3 4178.2L1100.3 4178.9L1106.3 4179.6L1112.3 4180.1L1118.3 4180.7L1124.3 4181.2L1130.3 4181.7L1136.3 4182.1L1142.3 4182.5L1148.3 4182.8L1154.3 4183.2L1160.3 4183.5L1166.3 4183.7L1172.3 4184L1178.3 4184.2L1184.3 4184.4L1190.3 4184.6L1196.3 4184.8L1202.3 4184.9L1208.3 4185L1214.3 4185.1L1220.3 4185.3L1226.3 4185.3L1232.3 4185.4L1238.3 4185.5L1244.3 4185.6L1250.3 4185.6L1256.3 4185.7L1262.3 4185.7L1268.3 4185.8L1274.3 4185.8L1280.3 4185.8L1286.3 4185.8L1292.3 4185.9L1298.3 4185.9L1304.3 4185.9L1310.3 4185.9L1316.3 4185.9L1322.3 4185.9L1328.3 4186L1334.3 4186L1340.3 4186L1346.3 4186L1352.3 4186L1358.3 4186L1364.3 4186L1370.3 4186L1376.3 4186L1382.3 4186L1388.3 4186L1394.3 4186L1400.3 4186L1406.3 4186L1412.3 4186L1418.3 4186L1424.3 4186L1430.3 4186L1436.3 4186L1442.3 4186L1448.3 4186L1454.3 4186L1460.3 4186L1466.3 4186L1472.3 4186L1478.3 4186L1484.3 4186L1490.3 4186L1496.3 4186L1502.3 4186L1508.3 4186L1514.3 4186L1520.3 4186L1526.3 4186L1532.3 4186L1538.3 4186L1544.3 4186L1550.3 4186L1556.3 4186L1562.3 4186L1568.3 4186L1574.3 4186L1580.3 4186L1586.3 4186L1592.3 4186L1598.3 4186L1604.3 4186L1610.3 4186L1616.3 4186L1622.3 4186L1628.3 4186L1634.3 4186L1640.3 4186L1646.3 4186L1652.3 4186L1658.3 4186L1664.3 4186L1670.3 4186L1676.3 4186L1682.3 4186L1688.3 4186L1694.3 4186L1700.3 4186L1706.3 4186L1712.3 4186L1718.3 4186L1724.3 4186L1730.3 4186L1736.3 4186L1742.3 4186L1748.3 4186L1754.3 4186L1760.3 4186L1766.3 4186L1772.3 4186L1778.3 4186L1784.3 4186L1790.3 4186L1796.3 4186L1802.3 4186L1808.3 4186L1814.3 4186L1820.3 4186L1826.3 4186L1832.3 4186L1838.3 4186L1844.3 4186L1850.3 4186L1856.3 4186L1862.3 4186L1868.3 4186L1874.3 4186L1880.3 4186L1886.3 4186L1892.3 4186L1898.3 4186L1904.3 4186L1910.3 4186L1916.3 4186L1922.3 4186L1928.3 4186L1934.3 4186L1940.3 4186L1946.3 4186L1952.3 4186L1958.3 4186L1964.3 4186L1970.3 4186L1976.3 4186L1982.3 4186L1988.3 4186L1994.3 4186L2000.3 4186L2006.3 4186L2012.3 4186L2018.3 4186L2018.3 4200L236.3 4200Z" fill="url(#gc6)"/>
<path d="M236.3 4186L242.3 4186L248.3 4186L254.3 4186L260.3 4186L266.3 4186L272.3 4186L278.3 4186L284.3 4186L290.3 4185.9L296.3 4185.9L302.3 4185.9L308.3 4185.9L314.3 4185.9L320.3 4185.9L326.3 4185.9L332.3 4185.8L338.3 4185.8L344.3 4185.8L350.3 4185.8L356.3 4185.7L362.3 4185.7L368.3 4185.6L374.3 4185.6L380.3 4185.5L386.3 4185.5L392.3 4185.4L398.3 4185.3L404.3 4185.2L410.3 4185.1L416.3 4185L422.3 4184.9L428.3 4184.7L434.3 4184.6L440.3 4184.4L446.3 4184.2L452.3 4184L458.3 4183.7L464.3 4183.5L470.3 4183.2L476.3 4182.9L482.3 4182.6L488.3 4182.2L494.3 4181.8L500.3 4181.4L506.3 4181L512.3 4180.5L518.3 4180L524.3 4179.4L530.3 4178.8L536.3 4178.2L542.3 4177.5L548.3 4176.8L554.3 4176L560.3 4175.2L566.3 4174.3L572.3 4173.4L578.3 4172.4L584.3 4171.4L590.3 4170.4L596.3 4169.3L602.3 4168.2L608.3 4167L614.3 4165.8L620.3 4164.5L626.3 4163.2L632.3 4161.9L638.3 4160.5L644.3 4159.1L650.3 4157.6L656.3 4156.2L662.3 4154.7L668.3 4153.2L674.3 4151.7L680.3 4150.2L686.3 4148.7L692.3 4147.2L698.3 4145.7L704.3 4144.2L710.3 4142.8L716.3 4141.3L722.3 4140L728.3 4138.6L734.3 4137.3L740.3 4136L746.3 4134.8L752.3 4133.7L758.3 4132.6L764.3 4131.6L770.3 4130.7L776.3 4129.9L782.3 4129.2L788.3 4128.5L794.3 4128L800.3 4127.5L806.3 4127.2L812.3 4126.9L818.3 4126.7L824.3 4126.7L830.3 4126.8L836.3 4126.9L842.3 4127.3L848.3 4127.7L854.3 4128.2L860.3 4128.8L866.3 4129.6L872.3 4130.4L878.3 4131.4L884.3 4132.4L890.3 4133.5L896.3 4134.7L902.3 4136L908.3 4137.3L914.3 4138.7L920.3 4140.2L926.3 4141.7L932.3 4143.2L938.3 4144.8L944.3 4146.4L950.3 4148L956.3 4149.6L962.3 4151.2L968.3 4152.8L974.3 4154.4L980.3 4156L986.3 4157.5L992.3 4159.1L998.3 4160.6L1004.3 4162L1010.3 4163.4L1016.3 4164.8L1022.3 4166.2L1028.3 4167.5L1034.3 4168.7L1040.3 4169.9L1046.3 4171L1052.3 4172.1L1058.3 4173.1L1064.3 4174.1L1070.3 4175L1076.3 4175.9L1082.3 4176.7L1088.3 4177.5L1094.3 4178.2L1100.3 4178.9L1106.3 4179.6L1112.3 4180.1L1118.3 4180.7L1124.3 4181.2L1130.3 4181.7L1136.3 4182.1L1142.3 4182.5L1148.3 4182.8L1154.3 4183.2L1160.3 4183.5L1166.3 4183.7L1172.3 4184L1178.3 4184.2L1184.3 4184.4L1190.3 4184.6L1196.3 4184.8L1202.3 4184.9L1208.3 4185L1214.3 4185.1L1220.3 4185.3L1226.3 4185.3L1232.3 4185.4L1238.3 4185.5L1244.3 4185.6L1250.3 4185.6L1256.3 4185.7L1262.3 4185.7L1268.3 4185.8L1274.3 4185.8L1280.3 4185.8L1286.3 4185.8L1292.3 4185.9L1298.3 4185.9L1304.3 4185.9L1310.3 4185.9L1316.3 4185.9L1322.3 4185.9L1328.3 4186L1334.3 4186L1340.3 4186L1346.3 4186L1352.3 4186L1358.3 4186L1364.3 4186L1370.3 4186L1376.3 4186L1382.3 4186L1388.3 4186L1394.3 4186L1400.3 4186L1406.3 4186L1412.3 4186L1418.3 4186L1424.3 4186L1430.3 4186L1436.3 4186L1442.3 4186L1448.3 4186L1454.3 4186L1460.3 4186L1466.3 4186L1472.3 4186L1478.3 4186L1484.3 4186L1490.3 4186L1496.3 4186L1502.3 4186L1508.3 4186L1514.3 4186L1520.3 4186L1526.3 4186L1532.3 4186L1538.3 4186L1544.3 4186L1550.3 4186L1556.3 4186L1562.3 4186L1568.3 4186L1574.3 4186L1580.3 4186L1586.3 4186L1592.3 4186L1598.3 4186L1604.3 4186L1610.3 4186L1616.3 4186L1622.3 4186L1628.3 4186L1634.3 4186L1640.3 4186L1646.3 4186L1652.3 4186L1658.3 4186L1664.3 4186L1670.3 4186L1676.3 4186L1682.3 4186L1688.3 4186L1694.3 4186L1700.3 4186L1706.3 4186L1712.3 4186L1718.3 4186L1724.3 4186L1730.3 4186L1736.3 4186L1742.3 4186L1748.3 4186L1754.3 4186L1760.3 4186L1766.3 4186L1772.3 4186L1778.3 4186L1784.3 4186L1790.3 4186L1796.3 4186L1802.3 4186L1808.3 4186L1814.3 4186L1820.3 4186L1826.3 4186L1832.3 4186L1838.3 4186L1844.3 4186L1850.3 4186L1856.3 4186L1862.3 4186L1868.3 4186L1874.3 4186L1880.3 4186L1886.3 4186L1892.3 4186L1898.3 4186L1904.3 4186L1910.3 4186L1916.3 4186L1922.3 4186L1928.3 4186L1934.3 4186L1940.3 4186L1946.3 4186L1952.3 4186L1958.3 4186L1964.3 4186L1970.3 4186L1976.3 4186L1982.3 4186L1988.3 4186L1994.3 4186L2000.3 4186L2006.3 4186L2012.3 4186L2018.3 4186" fill="none" stroke="#ff007f" stroke-width="6.0" stroke-linejoin="round" />
<path d="M236.3 4186L242.3 4186L248.3 4186L254.3 4186L260.3 4186L266.3 4186L272.3 4186L278.3 4186L284.3 4185.9L290.3 4185.9L296.3 4185.9L302.3 4185.9L308.3 4185.9L314.3 4185.9L320.3 4185.9L326.3 4185.8L332.3 4185.8L338.3 4185.8L344.3 4185.8L350.3 4185.7L356.3 4185.7L362.3 4185.6L368.3 4185.6L374.3 4185.5L380.3 4185.5L386.3 4185.4L392.3 4185.3L398.3 4185.2L404.3 4185.1L410.3 4185L416.3 4184.9L422.3 4184.7L428.3 4184.6L434.3 4184.4L440.3 4184.2L446.3 4184L452.3 4183.7L458.3 4183.5L464.3 4183.2L470.3 4182.9L476.3 4182.6L482.3 4182.2L488.3 4181.8L494.3 4181.3L500.3 4180.9L506.3 4180.4L512.3 4179.8L518.3 4179.2L524.3 4178.6L530.3 4177.9L536.3 4177.1L542.3 4176.3L548.3 4175.5L554.3 4174.6L560.3 4173.6L566.3 4172.6L572.3 4171.5L578.3 4170.4L584.3 4169.2L590.3 4167.9L596.3 4166.6L602.3 4165.2L608.3 4163.7L614.3 4162.2L620.3 4160.6L626.3 4159L632.3 4157.3L638.3 4155.5L644.3 4153.6L650.3 4151.7L656.3 4149.8L662.3 4147.7L668.3 4145.7L674.3 4143.5L680.3 4141.4L686.3 4139.1L692.3 4136.9L698.3 4134.6L704.3 4132.2L710.3 4129.9L716.3 4127.4L722.3 4125L728.3 4122.6L734.3 4120.1L740.3 4117.6L746.3 4115.1L752.3 4112.6L758.3 4110.1L764.3 4107.6L770.3 4105.1L776.3 4102.5L782.3 4100L788.3 4097.5L794.3 4095L800.3 4092.6L806.3 4090.1L812.3 4087.6L818.3 4085.2L824.3 4082.7L830.3 4080.3L836.3 4077.9L842.3 4075.5L848.3 4073.1L854.3 4070.8L860.3 4068.5L866.3 4066.1L872.3 4063.8L878.3 4061.5L884.3 4059.2L890.3 4056.9L896.3 4054.5L902.3 4052.2L908.3 4049.8L914.3 4047.4L920.3 4045L926.3 4042.5L932.3 4040L938.3 4037.5L944.3 4034.9L950.3 4032.2L956.3 4029.5L962.3 4026.8L968.3 4023.9L974.3 4021L980.3 4018.1L986.3 4015L992.3 4011.9L998.3 4008.7L1004.3 4005.4L1010.3 4002L1016.3 3998.5L1022.3 3995L1028.3 3991.3L1034.3 3987.6L1040.3 3983.7L1046.3 3979.8L1052.3 3975.7L1058.3 3971.6L1064.3 3967.3L1070.3 3962.9L1076.3 3958.5L1082.3 3953.9L1088.3 3949.1L1094.3 3944.3L1100.3 3939.3L1106.3 3933.5L1112.3 3927.6L1118.3 3921.6L1124.3 3915.4L1130.3 3909.1L1136.3 3902.7L1142.3 3896.1L1148.3 3889.5L1154.3 3883.7L1160.3 3878.2L1166.3 3872.7L1172.3 3867L1178.3 3861.2L1184.3 3855.2L1190.3 3849.2L1196.3 3843.1L1202.3 3836.8L1208.3 3830.3L1214.3 3823.8L1220.3 3817.2L1226.3 3810.5L1232.3 3803.9L1238.3 3797.2L1244.3 3790.5L1250.3 3783.9L1256.3 3777.2L1262.3 3770.5L1268.3 3764L1274.3 3757.5L1280.3 3751.2L1286.3 3745L1292.3 3739L1298.3 3733.2L1304.3 3727.3L1310.3 3721.6L1316.3 3716L1322.3 3710.8L1328.3 3705.8L1334.3 3701.2L1340.3 3696.8L1346.3 3692.8L1352.3 3689.1L1358.3 3685.5L1364.3 3682.4L1370.3 3679.6L1376.3 3677.2L1382.3 3675.3L1388.3 3673.7L1394.3 3672.6L1400.3 3671.9L1406.3 3671.7L1412.3 3672L1418.3 3672.7L1424.3 3673.8L1430.3 3675.3L1436.3 3677.3L1442.3 3679.7L1448.3 3682.5L1454.3 3685.5L1460.3 3688.8L1466.3 3692.5L1472.3 3696.5L1478.3 3700.9L1484.3 3705.6L1490.3 3710.7L1496.3 3716.1L1502.3 3722L1508.3 3728.6L1514.3 3735.5L1520.3 3742.7L1526.3 3750.2L1532.3 3758L1538.3 3766.1L1544.3 3774.4L1550.3 3783.1L1556.3 3792L1562.3 3801.2L1568.3 3810.8L1574.3 3820.6L1580.3 3830.6L1586.3 3840.9L1592.3 3851.6L1598.3 3862.9L1604.3 3874.3L1610.3 3885.8L1616.3 3897.4L1622.3 3909L1628.3 3920.7L1634.3 3932.3L1640.3 3943.2L1646.3 3954L1652.3 3964.8L1658.3 3975.4L1664.3 3985L1670.3 3994.5L1676.3 4003.8L1682.3 4012.8L1688.3 4021.6L1694.3 4030.1L1700.3 4038.5L1706.3 4046.5L1712.3 4054.4L1718.3 4062L1724.3 4069.2L1730.3 4075.9L1736.3 4082.3L1742.3 4088.4L1748.3 4094.3L1754.3 4099.9L1760.3 4105.1L1766.3 4110L1772.3 4114.1L1778.3 4118L1784.3 4121.6L1790.3 4125.1L1796.3 4128.7L1802.3 4132.1L1808.3 4135.4L1814.3 4138.4L1820.3 4141.1L1826.3 4143.7L1832.3 4146.2L1838.3 4148.4L1844.3 4150.4L1850.3 4152.3L1856.3 4154.1L1862.3 4156.1L1868.3 4158L1874.3 4159.8L1880.3 4161.4L1886.3 4162.9L1892.3 4164.3L1898.3 4165.6L1904.3 4167L1910.3 4168.5L1916.3 4169.9L1922.3 4171.2L1928.3 4172.4L1934.3 4173.6L1940.3 4174.7L1946.3 4175.7L1952.3 4176.6L1958.3 4177.4L1964.3 4178.2L1970.3 4178.9L1976.3 4179.6L1982.3 4180.3L1988.3 4180.9L1994.3 4181.5L2000.3 4182.1L2006.3 4182.6L2012.3 4183.1L2018.3 4183.6" fill="none" stroke="#b078e0" stroke-width="10.5" stroke-linejoin="round" />
</g>
<rect x="249.0" y="3456.0" width="115.6" height="92.4" fill="#bebebe"/>
<text transform="translate(256.7 3524.0) scale(1 0.965)" font-size="66.8" text-anchor="start">CN</text>
<rect x="250.8" y="4067.3" width="246.5" height="92.7" fill="#ffb0d9"/>
<text transform="translate(257.2 4134.0) scale(1 0.965)" font-size="67.4" text-anchor="start">3CDCN</text>
<text transform="translate(1814.4 3121.6) scale(1 0.965)" font-size="69.8" text-anchor="start">N 1s</text>
<text transform="translate(1311.4 3078.0) scale(1 0.965)" font-size="63.2" text-anchor="start">398.5 eV</text>
<text transform="translate(741.3 3303.0) scale(1 0.965)" font-size="63.2" text-anchor="start">399.8 eV</text>
<text transform="translate(406.5 3441.5) scale(1 0.965)" font-size="63.0" text-anchor="start">401.3 eV</text>
<text transform="translate(1576.8 3690.0) scale(1 0.965)" font-size="63.2" text-anchor="start">397.5 eV</text>
<text transform="translate(929.3 3839.5) scale(1 0.965)" font-size="63.0" text-anchor="start">398.7 eV</text>
<text transform="translate(596.5 4028.0) scale(1 0.965)" font-size="63.0" text-anchor="start">400.3 eV</text>
<line x1="1299.0" y1="3072.0" x2="1241.3" y2="3117.6" stroke="#000" stroke-width="3.0"/>
<polygon points="1217.0,3136.8 1238.1,3108.7 1249.3,3122.8" fill="#000"/>
<line x1="822.3" y1="3319.3" x2="924.5" y2="3403.3" stroke="#000" stroke-width="3.0"/>
<polygon points="948.5,3423.0 916.5,3408.4 927.9,3394.5" fill="#000"/>
<line x1="478.4" y1="3454.8" x2="566.8" y2="3512.9" stroke="#000" stroke-width="3.0"/>
<polygon points="592.7,3529.9 559.3,3518.8 569.2,3503.7" fill="#000"/>
<line x1="1562.0" y1="3679.8" x2="1476.9" y2="3744.3" stroke="#000" stroke-width="3.0"/>
<polygon points="1452.2,3763.0 1473.9,3735.3 1484.7,3749.6" fill="#000"/>
<line x1="1017.0" y1="3854.8" x2="1147.3" y2="3939.2" stroke="#000" stroke-width="3.0"/>
<polygon points="1173.3,3956.0 1139.9,3945.1 1149.7,3930.0" fill="#000"/>
<line x1="699.3" y1="4052.5" x2="797.0" y2="4107.7" stroke="#000" stroke-width="3.0"/>
<polygon points="824.0,4123.0 790.0,4114.1 798.8,4098.4" fill="#000"/>
</svg>
</body></html>
